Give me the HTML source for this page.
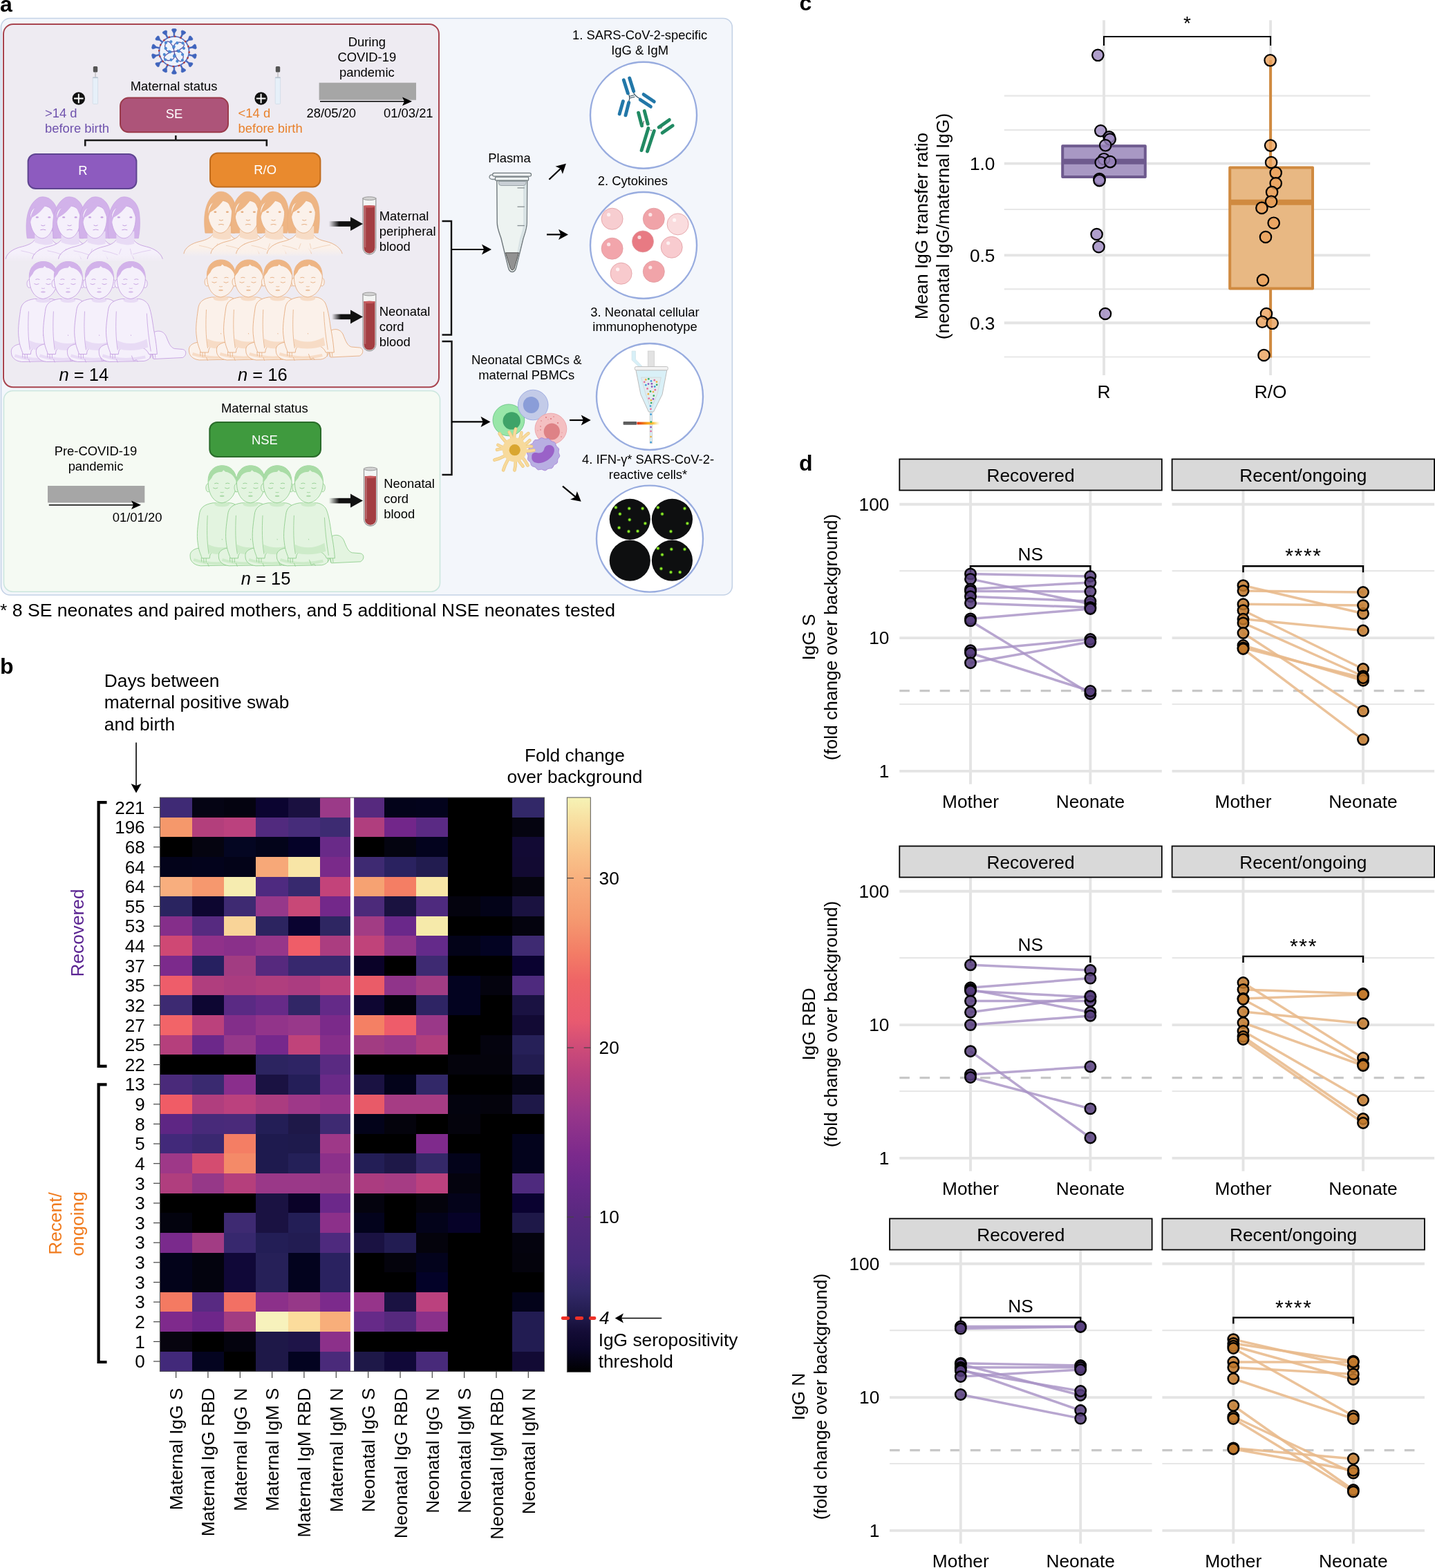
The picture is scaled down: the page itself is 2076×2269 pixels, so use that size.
<!DOCTYPE html>
<html><head><meta charset="utf-8"><title>Figure</title>
<style>html,body{margin:0;padding:0;background:#fff;} svg{display:block;}</style></head>
<body><svg width="2076" height="2269" viewBox="0 0 2076 2269" font-family="'Liberation Sans', Arial, Helvetica, sans-serif">
<rect width="2076" height="2269" fill="#fff"/>
<rect x="1.5" y="26.5" width="1057.8" height="834.5" rx="13" fill="#f3f6fb" stroke="#c4d2e6" stroke-width="1.6"/>
<rect x="5" y="35" width="630" height="525.3" rx="14" fill="#eeebf2" stroke="#a8444f" stroke-width="2"/>
<rect x="5.5" y="565.5" width="631" height="290.7" rx="13" fill="#f5faf3" stroke="#cbe6de" stroke-width="1.6"/>
<path d="M252.8,53.4 L252.8,47.9 L255.5,43.4 L254.5,41.8 L251.9,41.6 L249.3,41.8 L248.3,43.4 L251.0,47.9 L251.0,53.4 Z" fill="#3f64bd" stroke="#3f64bd" stroke-width="0.6" stroke-linejoin="round"/>
<path d="M261.8,55.9 L264.2,50.9 L268.6,48.0 L268.4,46.2 L266.1,44.8 L263.7,43.9 L262.1,44.9 L262.6,50.1 L260.2,55.1 Z" fill="#3f64bd" stroke="#3f64bd" stroke-width="0.6" stroke-linejoin="round"/>
<path d="M268.9,62.0 L273.2,58.6 L278.4,57.9 L279.0,56.1 L277.5,53.9 L275.8,52.0 L273.9,52.3 L272.1,57.2 L267.8,60.6 Z" fill="#3f64bd" stroke="#3f64bd" stroke-width="0.6" stroke-linejoin="round"/>
<path d="M272.6,70.6 L277.9,69.4 L282.9,71.0 L284.3,69.7 L283.9,67.1 L283.1,64.6 L281.3,64.0 L277.5,67.6 L272.2,68.8 Z" fill="#3f64bd" stroke="#3f64bd" stroke-width="0.6" stroke-linejoin="round"/>
<path d="M272.2,80.0 L277.5,81.2 L281.3,84.8 L283.1,84.2 L283.9,81.7 L284.3,79.1 L282.9,77.8 L277.9,79.4 L272.6,78.2 Z" fill="#3f64bd" stroke="#3f64bd" stroke-width="0.6" stroke-linejoin="round"/>
<path d="M267.8,88.2 L272.1,91.6 L273.9,96.5 L275.8,96.8 L277.5,94.9 L279.0,92.7 L278.4,90.9 L273.2,90.2 L268.9,86.8 Z" fill="#3f64bd" stroke="#3f64bd" stroke-width="0.6" stroke-linejoin="round"/>
<path d="M260.2,93.7 L262.6,98.7 L262.1,103.9 L263.7,104.9 L266.1,104.0 L268.4,102.6 L268.6,100.8 L264.2,97.9 L261.8,92.9 Z" fill="#3f64bd" stroke="#3f64bd" stroke-width="0.6" stroke-linejoin="round"/>
<path d="M251.0,95.4 L251.0,100.9 L248.3,105.4 L249.3,107.0 L251.9,107.2 L254.5,107.0 L255.5,105.4 L252.8,100.9 L252.8,95.4 Z" fill="#3f64bd" stroke="#3f64bd" stroke-width="0.6" stroke-linejoin="round"/>
<path d="M242.0,92.9 L239.6,97.9 L235.2,100.8 L235.4,102.6 L237.7,104.0 L240.1,104.9 L241.7,103.9 L241.2,98.7 L243.6,93.7 Z" fill="#3f64bd" stroke="#3f64bd" stroke-width="0.6" stroke-linejoin="round"/>
<path d="M234.9,86.8 L230.6,90.2 L225.4,90.9 L224.8,92.7 L226.3,94.9 L228.0,96.8 L229.9,96.5 L231.7,91.6 L236.0,88.2 Z" fill="#3f64bd" stroke="#3f64bd" stroke-width="0.6" stroke-linejoin="round"/>
<path d="M231.2,78.2 L225.9,79.4 L220.9,77.8 L219.5,79.1 L219.9,81.7 L220.7,84.2 L222.5,84.8 L226.3,81.2 L231.6,80.0 Z" fill="#3f64bd" stroke="#3f64bd" stroke-width="0.6" stroke-linejoin="round"/>
<path d="M231.6,68.8 L226.3,67.6 L222.5,64.0 L220.7,64.6 L219.9,67.1 L219.5,69.7 L220.9,71.0 L225.9,69.4 L231.2,70.6 Z" fill="#3f64bd" stroke="#3f64bd" stroke-width="0.6" stroke-linejoin="round"/>
<path d="M236.0,60.6 L231.7,57.2 L229.9,52.3 L228.0,52.0 L226.3,53.9 L224.8,56.1 L225.4,57.9 L230.6,58.6 L234.9,62.0 Z" fill="#3f64bd" stroke="#3f64bd" stroke-width="0.6" stroke-linejoin="round"/>
<path d="M243.6,55.1 L241.2,50.1 L241.7,44.9 L240.1,43.9 L237.7,44.8 L235.4,46.2 L235.2,48.0 L239.6,50.9 L242.0,55.9 Z" fill="#3f64bd" stroke="#3f64bd" stroke-width="0.6" stroke-linejoin="round"/>
<circle cx="251.9" cy="74.4" r="21.6" fill="#eef3fc" stroke="#5b6fc0" stroke-width="1.8"/>
<circle cx="251.9" cy="74.4" r="21.8" fill="none" stroke="#b23c3c" stroke-width="2.2" stroke-dasharray="2.5,6"/>
<g transform="translate(251.9,74.4) rotate(20) scale(1.3)"><path d="M0,0 C-3,-6 -12,-12 -12,-5 C-12,2 -6,4 -2,1" fill="none" stroke="#5a4fa0" stroke-width="0.9" stroke-dasharray="none"/><circle cx="-2" cy="-4" r="1.6" fill="#4c88d2"/><circle cx="-7" cy="-9" r="1.6" fill="#4c88d2"/><circle cx="-12" cy="-6" r="1.6" fill="#4c88d2"/><circle cx="-10" cy="0" r="1.6" fill="#4c88d2"/><circle cx="-5" cy="2" r="1.6" fill="#4c88d2"/></g>
<g transform="translate(251.9,74.4) rotate(110) scale(1.3)"><path d="M0,0 C-3,-6 -12,-12 -12,-5 C-12,2 -6,4 -2,1" fill="none" stroke="#5a4fa0" stroke-width="0.9" stroke-dasharray="none"/><circle cx="-2" cy="-4" r="1.6" fill="#4c88d2"/><circle cx="-7" cy="-9" r="1.6" fill="#4c88d2"/><circle cx="-12" cy="-6" r="1.6" fill="#4c88d2"/><circle cx="-10" cy="0" r="1.6" fill="#4c88d2"/><circle cx="-5" cy="2" r="1.6" fill="#4c88d2"/></g>
<g transform="translate(251.9,74.4) rotate(200) scale(1.3)"><path d="M0,0 C-3,-6 -12,-12 -12,-5 C-12,2 -6,4 -2,1" fill="none" stroke="#5a4fa0" stroke-width="0.9" stroke-dasharray="none"/><circle cx="-2" cy="-4" r="1.6" fill="#4c88d2"/><circle cx="-7" cy="-9" r="1.6" fill="#4c88d2"/><circle cx="-12" cy="-6" r="1.6" fill="#4c88d2"/><circle cx="-10" cy="0" r="1.6" fill="#4c88d2"/><circle cx="-5" cy="2" r="1.6" fill="#4c88d2"/></g>
<g transform="translate(251.9,74.4) rotate(290) scale(1.3)"><path d="M0,0 C-3,-6 -12,-12 -12,-5 C-12,2 -6,4 -2,1" fill="none" stroke="#5a4fa0" stroke-width="0.9" stroke-dasharray="none"/><circle cx="-2" cy="-4" r="1.6" fill="#4c88d2"/><circle cx="-7" cy="-9" r="1.6" fill="#4c88d2"/><circle cx="-12" cy="-6" r="1.6" fill="#4c88d2"/><circle cx="-10" cy="0" r="1.6" fill="#4c88d2"/><circle cx="-5" cy="2" r="1.6" fill="#4c88d2"/></g>
<rect x="134.8" y="96" width="6.4" height="8.5" rx="1.5" fill="#555"/><line x1="138" y1="104" x2="138" y2="112" stroke="#999" stroke-width="0.8"/><rect x="134.2" y="112" width="7.4" height="38.5" rx="1.2" fill="#e6f0f9" stroke="#cfdbe6" stroke-width="0.8"/><rect x="134.2" y="111.5" width="7.4" height="1.6" fill="#b8c4d0"/>
<rect x="398.8" y="96" width="6.4" height="8.5" rx="1.5" fill="#555"/><line x1="402" y1="104" x2="402" y2="112" stroke="#999" stroke-width="0.8"/><rect x="398.2" y="112" width="7.4" height="38.5" rx="1.2" fill="#e6f0f9" stroke="#cfdbe6" stroke-width="0.8"/><rect x="398.2" y="111.5" width="7.4" height="1.6" fill="#b8c4d0"/>
<circle cx="113.8" cy="142.5" r="9.2" fill="#111"/><path d="M107.0,142.5 H120.6 M113.8,135.7 V149.3" stroke="#fff" stroke-width="1.9"/>
<circle cx="377.6" cy="142.5" r="9.2" fill="#111"/><path d="M370.8,142.5 H384.40000000000003 M377.6,135.7 V149.3" stroke="#fff" stroke-width="1.9"/>
<text x="65.0" y="169.6" font-size="18.4" fill="#6f52ad">&gt;14 d</text>
<text x="65.0" y="191.9" font-size="18.4" fill="#6f52ad">before birth</text>
<text x="344.6" y="170.4" font-size="18.4" fill="#e8812c">&lt;14 d</text>
<text x="344.6" y="192.2" font-size="18.4" fill="#e8812c">before birth</text>
<text x="251.6" y="131.0" font-size="18.4" text-anchor="middle">Maternal status</text>
<rect x="174" y="141.6" width="156" height="49.6" rx="12" fill="#ad5479" stroke="#9a3b4b" stroke-width="2"/>
<text x="252.0" y="171.0" font-size="18.4" text-anchor="middle" fill="#fff">SE</text>
<text x="530.8" y="67.4" font-size="18.4" text-anchor="middle">During</text>
<text x="530.8" y="89.0" font-size="18.4" text-anchor="middle">COVID-19</text>
<text x="530.8" y="110.8" font-size="18.4" text-anchor="middle">pandemic</text>
<rect x="461.6" y="119.7" width="140.4" height="25" fill="#a6a6a6"/>
<line x1="463" y1="146.8" x2="588" y2="146.8" stroke="#000" stroke-width="1.6"/>
<path d="M596,146.8 L582,140.5 L585,146.8 L582,153 Z" fill="#000"/>
<text x="443.5" y="170.4" font-size="18.4">28/05/20</text>
<text x="555.0" y="170.4" font-size="18.4">01/03/21</text>
<path d="M123.2,211.5 V203 H385.8 V211.5 M254.3,196 V203" fill="none" stroke="#1a1a1a" stroke-width="2.6"/>
<rect x="40.6" y="223" width="156.8" height="50" rx="11" fill="#8d5bbf" stroke="#5e4490" stroke-width="2"/>
<text x="119.8" y="252.5" font-size="18.4" text-anchor="middle" fill="#fff">R</text>
<rect x="304" y="221.5" width="159.4" height="49" rx="11" fill="#e98a2e" stroke="#c06c1e" stroke-width="2"/>
<text x="383.7" y="252.0" font-size="18.4" text-anchor="middle" fill="#fff">R/O</text>
<defs><linearGradient id="wfp" x1="0" y1="0" x2="0" y2="1"><stop offset="0.6" stop-color="#f5f0fb"/><stop offset="1" stop-color="#f5f0fb" stop-opacity="0"/></linearGradient></defs>
<defs><linearGradient id="wfo" x1="0" y1="0" x2="0" y2="1"><stop offset="0.6" stop-color="#fbf1ea"/><stop offset="1" stop-color="#fbf1ea" stop-opacity="0"/></linearGradient></defs>
<defs><linearGradient id="wfg" x1="0" y1="0" x2="0" y2="1"><stop offset="0.6" stop-color="#e3f4e0"/><stop offset="1" stop-color="#e3f4e0" stop-opacity="0"/></linearGradient></defs>
<path d="M8.299999999999997,378.8 C9.299999999999997,366.8 18.299999999999997,359.8 32.3,356.8 C40.3,354.8 47.3,351.8 50.3,346.8 L75.3,346.8 C78.3,351.8 84.3,354.8 93.3,356.8 C106.3,359.8 115.3,366.8 117.3,378.8 Z" fill="url(#wfp)"/><path d="M8.299999999999997,374.8 C9.299999999999997,366.8 18.299999999999997,359.8 32.3,356.8 C40.3,354.8 47.3,351.8 50.3,346.8 M75.3,346.8 C78.3,351.8 84.3,354.8 93.3,356.8 C106.3,359.8 115.3,366.8 117.3,374.8" fill="none" stroke="#c49ee0" stroke-width="0.9"/><path d="M57.3,359.8 l-3,8 M70.3,359.8 l2,8 M30.299999999999997,362.8 q12,2 22,6 M74.3,367.8 q14,-4 26,-6" fill="none" stroke="#c49ee0" stroke-width="0.6" opacity="0.7"/><path d="M39.3,344.8 C36.3,324.8 37.3,296.8 56.3,285.8 C68.3,281.8 80.3,290.8 83.3,306.8 C85.3,320.8 84.3,334.8 82.3,344.8 Z" fill="#d2b2ea" stroke="#c49ee0" stroke-width="0.6"/><path d="M50.3,334.8 L76.3,334.8 L76.3,352.8 Q63.3,356.8 50.3,350.8 Z" fill="#e8dbf5"/><path d="M43.3,314.8 C43.3,332.8 52.3,344.8 61.3,344.8 C70.3,344.8 78.3,332.8 78.3,314.8 C78.3,302.8 70.3,297.8 61.3,297.8 C51.3,297.8 43.3,302.8 43.3,314.8 Z" fill="#f5f0fb" stroke="#c49ee0" stroke-width="0.8"/><path d="M41.3,330.8 C42.3,314.8 48.3,296.8 62.3,290.8 C66.3,289.8 68.3,291.8 68.3,293.8 C62.3,302.8 54.3,310.8 46.3,314.8 C44.3,319.8 43.3,324.8 41.3,330.8 Z" fill="#d2b2ea"/><path d="M68.3,293.8 C74.3,296.8 78.3,304.8 78.3,314.8 C75.3,306.8 72.3,299.8 68.3,293.8 Z" fill="#d2b2ea"/><ellipse cx="53.8" cy="314.40000000000003" rx="2" ry="1.2" fill="#c49ee0"/><ellipse cx="71.3" cy="314.40000000000003" rx="2" ry="1.2" fill="#c49ee0"/><path d="M59.3,325.8 q3,2 6,0 M58.3,332.8 q4,-1.5 8,0" fill="none" stroke="#c49ee0" stroke-width="1"/>
<path d="M46.599999999999994,378.8 C47.599999999999994,366.8 56.599999999999994,359.8 70.6,356.8 C78.6,354.8 85.6,351.8 88.6,346.8 L113.6,346.8 C116.6,351.8 122.6,354.8 131.6,356.8 C144.6,359.8 153.6,366.8 155.6,378.8 Z" fill="url(#wfp)"/><path d="M46.599999999999994,374.8 C47.599999999999994,366.8 56.599999999999994,359.8 70.6,356.8 C78.6,354.8 85.6,351.8 88.6,346.8 M113.6,346.8 C116.6,351.8 122.6,354.8 131.6,356.8 C144.6,359.8 153.6,366.8 155.6,374.8" fill="none" stroke="#c49ee0" stroke-width="0.9"/><path d="M95.6,359.8 l-3,8 M108.6,359.8 l2,8 M68.6,362.8 q12,2 22,6 M112.6,367.8 q14,-4 26,-6" fill="none" stroke="#c49ee0" stroke-width="0.6" opacity="0.7"/><path d="M77.6,344.8 C74.6,324.8 75.6,296.8 94.6,285.8 C106.6,281.8 118.6,290.8 121.6,306.8 C123.6,320.8 122.6,334.8 120.6,344.8 Z" fill="#d2b2ea" stroke="#c49ee0" stroke-width="0.6"/><path d="M88.6,334.8 L114.6,334.8 L114.6,352.8 Q101.6,356.8 88.6,350.8 Z" fill="#e8dbf5"/><path d="M81.6,314.8 C81.6,332.8 90.6,344.8 99.6,344.8 C108.6,344.8 116.6,332.8 116.6,314.8 C116.6,302.8 108.6,297.8 99.6,297.8 C89.6,297.8 81.6,302.8 81.6,314.8 Z" fill="#f5f0fb" stroke="#c49ee0" stroke-width="0.8"/><path d="M79.6,330.8 C80.6,314.8 86.6,296.8 100.6,290.8 C104.6,289.8 106.6,291.8 106.6,293.8 C100.6,302.8 92.6,310.8 84.6,314.8 C82.6,319.8 81.6,324.8 79.6,330.8 Z" fill="#d2b2ea"/><path d="M106.6,293.8 C112.6,296.8 116.6,304.8 116.6,314.8 C113.6,306.8 110.6,299.8 106.6,293.8 Z" fill="#d2b2ea"/><ellipse cx="92.1" cy="314.40000000000003" rx="2" ry="1.2" fill="#c49ee0"/><ellipse cx="109.6" cy="314.40000000000003" rx="2" ry="1.2" fill="#c49ee0"/><path d="M97.6,325.8 q3,2 6,0 M96.6,332.8 q4,-1.5 8,0" fill="none" stroke="#c49ee0" stroke-width="1"/>
<path d="M84.5,378.8 C85.5,366.8 94.5,359.8 108.5,356.8 C116.5,354.8 123.5,351.8 126.5,346.8 L151.5,346.8 C154.5,351.8 160.5,354.8 169.5,356.8 C182.5,359.8 191.5,366.8 193.5,378.8 Z" fill="url(#wfp)"/><path d="M84.5,374.8 C85.5,366.8 94.5,359.8 108.5,356.8 C116.5,354.8 123.5,351.8 126.5,346.8 M151.5,346.8 C154.5,351.8 160.5,354.8 169.5,356.8 C182.5,359.8 191.5,366.8 193.5,374.8" fill="none" stroke="#c49ee0" stroke-width="0.9"/><path d="M133.5,359.8 l-3,8 M146.5,359.8 l2,8 M106.5,362.8 q12,2 22,6 M150.5,367.8 q14,-4 26,-6" fill="none" stroke="#c49ee0" stroke-width="0.6" opacity="0.7"/><path d="M115.5,344.8 C112.5,324.8 113.5,296.8 132.5,285.8 C144.5,281.8 156.5,290.8 159.5,306.8 C161.5,320.8 160.5,334.8 158.5,344.8 Z" fill="#d2b2ea" stroke="#c49ee0" stroke-width="0.6"/><path d="M126.5,334.8 L152.5,334.8 L152.5,352.8 Q139.5,356.8 126.5,350.8 Z" fill="#e8dbf5"/><path d="M119.5,314.8 C119.5,332.8 128.5,344.8 137.5,344.8 C146.5,344.8 154.5,332.8 154.5,314.8 C154.5,302.8 146.5,297.8 137.5,297.8 C127.5,297.8 119.5,302.8 119.5,314.8 Z" fill="#f5f0fb" stroke="#c49ee0" stroke-width="0.8"/><path d="M117.5,330.8 C118.5,314.8 124.5,296.8 138.5,290.8 C142.5,289.8 144.5,291.8 144.5,293.8 C138.5,302.8 130.5,310.8 122.5,314.8 C120.5,319.8 119.5,324.8 117.5,330.8 Z" fill="#d2b2ea"/><path d="M144.5,293.8 C150.5,296.8 154.5,304.8 154.5,314.8 C151.5,306.8 148.5,299.8 144.5,293.8 Z" fill="#d2b2ea"/><ellipse cx="130.0" cy="314.40000000000003" rx="2" ry="1.2" fill="#c49ee0"/><ellipse cx="147.5" cy="314.40000000000003" rx="2" ry="1.2" fill="#c49ee0"/><path d="M135.5,325.8 q3,2 6,0 M134.5,332.8 q4,-1.5 8,0" fill="none" stroke="#c49ee0" stroke-width="1"/>
<path d="M126.30000000000001,378.8 C127.30000000000001,366.8 136.3,359.8 150.3,356.8 C158.3,354.8 165.3,351.8 168.3,346.8 L193.3,346.8 C196.3,351.8 202.3,354.8 211.3,356.8 C224.3,359.8 233.3,366.8 235.3,378.8 Z" fill="url(#wfp)"/><path d="M126.30000000000001,374.8 C127.30000000000001,366.8 136.3,359.8 150.3,356.8 C158.3,354.8 165.3,351.8 168.3,346.8 M193.3,346.8 C196.3,351.8 202.3,354.8 211.3,356.8 C224.3,359.8 233.3,366.8 235.3,374.8" fill="none" stroke="#c49ee0" stroke-width="0.9"/><path d="M175.3,359.8 l-3,8 M188.3,359.8 l2,8 M148.3,362.8 q12,2 22,6 M192.3,367.8 q14,-4 26,-6" fill="none" stroke="#c49ee0" stroke-width="0.6" opacity="0.7"/><path d="M157.3,344.8 C154.3,324.8 155.3,296.8 174.3,285.8 C186.3,281.8 198.3,290.8 201.3,306.8 C203.3,320.8 202.3,334.8 200.3,344.8 Z" fill="#d2b2ea" stroke="#c49ee0" stroke-width="0.6"/><path d="M168.3,334.8 L194.3,334.8 L194.3,352.8 Q181.3,356.8 168.3,350.8 Z" fill="#e8dbf5"/><path d="M161.3,314.8 C161.3,332.8 170.3,344.8 179.3,344.8 C188.3,344.8 196.3,332.8 196.3,314.8 C196.3,302.8 188.3,297.8 179.3,297.8 C169.3,297.8 161.3,302.8 161.3,314.8 Z" fill="#f5f0fb" stroke="#c49ee0" stroke-width="0.8"/><path d="M159.3,330.8 C160.3,314.8 166.3,296.8 180.3,290.8 C184.3,289.8 186.3,291.8 186.3,293.8 C180.3,302.8 172.3,310.8 164.3,314.8 C162.3,319.8 161.3,324.8 159.3,330.8 Z" fill="#d2b2ea"/><path d="M186.3,293.8 C192.3,296.8 196.3,304.8 196.3,314.8 C193.3,306.8 190.3,299.8 186.3,293.8 Z" fill="#d2b2ea"/><ellipse cx="171.8" cy="314.40000000000003" rx="2" ry="1.2" fill="#c49ee0"/><ellipse cx="189.3" cy="314.40000000000003" rx="2" ry="1.2" fill="#c49ee0"/><path d="M177.3,325.8 q3,2 6,0 M176.3,332.8 q4,-1.5 8,0" fill="none" stroke="#c49ee0" stroke-width="1"/>
<path d="M265.9,371.2 C266.9,359.2 275.9,352.2 289.9,349.2 C297.9,347.2 304.9,344.2 307.9,339.2 L332.9,339.2 C335.9,344.2 341.9,347.2 350.9,349.2 C363.9,352.2 372.9,359.2 374.9,371.2 Z" fill="url(#wfo)"/><path d="M265.9,367.2 C266.9,359.2 275.9,352.2 289.9,349.2 C297.9,347.2 304.9,344.2 307.9,339.2 M332.9,339.2 C335.9,344.2 341.9,347.2 350.9,349.2 C363.9,352.2 372.9,359.2 374.9,367.2" fill="none" stroke="#e5ad80" stroke-width="0.9"/><path d="M314.9,352.2 l-3,8 M327.9,352.2 l2,8 M287.9,355.2 q12,2 22,6 M331.9,360.2 q14,-4 26,-6" fill="none" stroke="#e5ad80" stroke-width="0.6" opacity="0.7"/><path d="M296.9,337.2 C293.9,317.2 294.9,289.2 313.9,278.2 C325.9,274.2 337.9,283.2 340.9,299.2 C342.9,313.2 341.9,327.2 339.9,337.2 Z" fill="#eeb584" stroke="#e5ad80" stroke-width="0.6"/><path d="M307.9,327.2 L333.9,327.2 L333.9,345.2 Q320.9,349.2 307.9,343.2 Z" fill="#f7dcc6"/><path d="M300.9,307.2 C300.9,325.2 309.9,337.2 318.9,337.2 C327.9,337.2 335.9,325.2 335.9,307.2 C335.9,295.2 327.9,290.2 318.9,290.2 C308.9,290.2 300.9,295.2 300.9,307.2 Z" fill="#fbf1ea" stroke="#e5ad80" stroke-width="0.8"/><path d="M298.9,323.2 C299.9,307.2 305.9,289.2 319.9,283.2 C323.9,282.2 325.9,284.2 325.9,286.2 C319.9,295.2 311.9,303.2 303.9,307.2 C301.9,312.2 300.9,317.2 298.9,323.2 Z" fill="#eeb584"/><path d="M325.9,286.2 C331.9,289.2 335.9,297.2 335.9,307.2 C332.9,299.2 329.9,292.2 325.9,286.2 Z" fill="#eeb584"/><ellipse cx="311.4" cy="306.8" rx="2" ry="1.2" fill="#e5ad80"/><ellipse cx="328.9" cy="306.8" rx="2" ry="1.2" fill="#e5ad80"/><path d="M316.9,318.2 q3,2 6,0 M315.9,325.2 q4,-1.5 8,0" fill="none" stroke="#e5ad80" stroke-width="1"/>
<path d="M304.9,371.2 C305.9,359.2 314.9,352.2 328.9,349.2 C336.9,347.2 343.9,344.2 346.9,339.2 L371.9,339.2 C374.9,344.2 380.9,347.2 389.9,349.2 C402.9,352.2 411.9,359.2 413.9,371.2 Z" fill="url(#wfo)"/><path d="M304.9,367.2 C305.9,359.2 314.9,352.2 328.9,349.2 C336.9,347.2 343.9,344.2 346.9,339.2 M371.9,339.2 C374.9,344.2 380.9,347.2 389.9,349.2 C402.9,352.2 411.9,359.2 413.9,367.2" fill="none" stroke="#e5ad80" stroke-width="0.9"/><path d="M353.9,352.2 l-3,8 M366.9,352.2 l2,8 M326.9,355.2 q12,2 22,6 M370.9,360.2 q14,-4 26,-6" fill="none" stroke="#e5ad80" stroke-width="0.6" opacity="0.7"/><path d="M335.9,337.2 C332.9,317.2 333.9,289.2 352.9,278.2 C364.9,274.2 376.9,283.2 379.9,299.2 C381.9,313.2 380.9,327.2 378.9,337.2 Z" fill="#eeb584" stroke="#e5ad80" stroke-width="0.6"/><path d="M346.9,327.2 L372.9,327.2 L372.9,345.2 Q359.9,349.2 346.9,343.2 Z" fill="#f7dcc6"/><path d="M339.9,307.2 C339.9,325.2 348.9,337.2 357.9,337.2 C366.9,337.2 374.9,325.2 374.9,307.2 C374.9,295.2 366.9,290.2 357.9,290.2 C347.9,290.2 339.9,295.2 339.9,307.2 Z" fill="#fbf1ea" stroke="#e5ad80" stroke-width="0.8"/><path d="M337.9,323.2 C338.9,307.2 344.9,289.2 358.9,283.2 C362.9,282.2 364.9,284.2 364.9,286.2 C358.9,295.2 350.9,303.2 342.9,307.2 C340.9,312.2 339.9,317.2 337.9,323.2 Z" fill="#eeb584"/><path d="M364.9,286.2 C370.9,289.2 374.9,297.2 374.9,307.2 C371.9,299.2 368.9,292.2 364.9,286.2 Z" fill="#eeb584"/><ellipse cx="350.4" cy="306.8" rx="2" ry="1.2" fill="#e5ad80"/><ellipse cx="367.9" cy="306.8" rx="2" ry="1.2" fill="#e5ad80"/><path d="M355.9,318.2 q3,2 6,0 M354.9,325.2 q4,-1.5 8,0" fill="none" stroke="#e5ad80" stroke-width="1"/>
<path d="M341.6,371.2 C342.6,359.2 351.6,352.2 365.6,349.2 C373.6,347.2 380.6,344.2 383.6,339.2 L408.6,339.2 C411.6,344.2 417.6,347.2 426.6,349.2 C439.6,352.2 448.6,359.2 450.6,371.2 Z" fill="url(#wfo)"/><path d="M341.6,367.2 C342.6,359.2 351.6,352.2 365.6,349.2 C373.6,347.2 380.6,344.2 383.6,339.2 M408.6,339.2 C411.6,344.2 417.6,347.2 426.6,349.2 C439.6,352.2 448.6,359.2 450.6,367.2" fill="none" stroke="#e5ad80" stroke-width="0.9"/><path d="M390.6,352.2 l-3,8 M403.6,352.2 l2,8 M363.6,355.2 q12,2 22,6 M407.6,360.2 q14,-4 26,-6" fill="none" stroke="#e5ad80" stroke-width="0.6" opacity="0.7"/><path d="M372.6,337.2 C369.6,317.2 370.6,289.2 389.6,278.2 C401.6,274.2 413.6,283.2 416.6,299.2 C418.6,313.2 417.6,327.2 415.6,337.2 Z" fill="#eeb584" stroke="#e5ad80" stroke-width="0.6"/><path d="M383.6,327.2 L409.6,327.2 L409.6,345.2 Q396.6,349.2 383.6,343.2 Z" fill="#f7dcc6"/><path d="M376.6,307.2 C376.6,325.2 385.6,337.2 394.6,337.2 C403.6,337.2 411.6,325.2 411.6,307.2 C411.6,295.2 403.6,290.2 394.6,290.2 C384.6,290.2 376.6,295.2 376.6,307.2 Z" fill="#fbf1ea" stroke="#e5ad80" stroke-width="0.8"/><path d="M374.6,323.2 C375.6,307.2 381.6,289.2 395.6,283.2 C399.6,282.2 401.6,284.2 401.6,286.2 C395.6,295.2 387.6,303.2 379.6,307.2 C377.6,312.2 376.6,317.2 374.6,323.2 Z" fill="#eeb584"/><path d="M401.6,286.2 C407.6,289.2 411.6,297.2 411.6,307.2 C408.6,299.2 405.6,292.2 401.6,286.2 Z" fill="#eeb584"/><ellipse cx="387.1" cy="306.8" rx="2" ry="1.2" fill="#e5ad80"/><ellipse cx="404.6" cy="306.8" rx="2" ry="1.2" fill="#e5ad80"/><path d="M392.6,318.2 q3,2 6,0 M391.6,325.2 q4,-1.5 8,0" fill="none" stroke="#e5ad80" stroke-width="1"/>
<path d="M386.2,371.2 C387.2,359.2 396.2,352.2 410.2,349.2 C418.2,347.2 425.2,344.2 428.2,339.2 L453.2,339.2 C456.2,344.2 462.2,347.2 471.2,349.2 C484.2,352.2 493.2,359.2 495.2,371.2 Z" fill="url(#wfo)"/><path d="M386.2,367.2 C387.2,359.2 396.2,352.2 410.2,349.2 C418.2,347.2 425.2,344.2 428.2,339.2 M453.2,339.2 C456.2,344.2 462.2,347.2 471.2,349.2 C484.2,352.2 493.2,359.2 495.2,367.2" fill="none" stroke="#e5ad80" stroke-width="0.9"/><path d="M435.2,352.2 l-3,8 M448.2,352.2 l2,8 M408.2,355.2 q12,2 22,6 M452.2,360.2 q14,-4 26,-6" fill="none" stroke="#e5ad80" stroke-width="0.6" opacity="0.7"/><path d="M417.2,337.2 C414.2,317.2 415.2,289.2 434.2,278.2 C446.2,274.2 458.2,283.2 461.2,299.2 C463.2,313.2 462.2,327.2 460.2,337.2 Z" fill="#eeb584" stroke="#e5ad80" stroke-width="0.6"/><path d="M428.2,327.2 L454.2,327.2 L454.2,345.2 Q441.2,349.2 428.2,343.2 Z" fill="#f7dcc6"/><path d="M421.2,307.2 C421.2,325.2 430.2,337.2 439.2,337.2 C448.2,337.2 456.2,325.2 456.2,307.2 C456.2,295.2 448.2,290.2 439.2,290.2 C429.2,290.2 421.2,295.2 421.2,307.2 Z" fill="#fbf1ea" stroke="#e5ad80" stroke-width="0.8"/><path d="M419.2,323.2 C420.2,307.2 426.2,289.2 440.2,283.2 C444.2,282.2 446.2,284.2 446.2,286.2 C440.2,295.2 432.2,303.2 424.2,307.2 C422.2,312.2 421.2,317.2 419.2,323.2 Z" fill="#eeb584"/><path d="M446.2,286.2 C452.2,289.2 456.2,297.2 456.2,307.2 C453.2,299.2 450.2,292.2 446.2,286.2 Z" fill="#eeb584"/><ellipse cx="431.7" cy="306.8" rx="2" ry="1.2" fill="#e5ad80"/><ellipse cx="449.2" cy="306.8" rx="2" ry="1.2" fill="#e5ad80"/><path d="M437.2,318.2 q3,2 6,0 M436.2,325.2 q4,-1.5 8,0" fill="none" stroke="#e5ad80" stroke-width="1"/>
<path d="M16.4,510.5 C14.4,498.5 31.4,494.5 51.4,498.5 L89.4,502.5 C95.4,508.5 93.4,520.5 81.4,522.5 L31.4,523.5 C21.4,522.5 16.4,516.5 16.4,510.5 Z" fill="#f5f0fb" stroke="#c49ee0" stroke-width="0.9"/><path d="M21.4,514.5 Q51.4,524.5 83.4,516.5" fill="none" stroke="#e8dbf5" stroke-width="4"/><path d="M63.4,514.5 l3,8 l4,-2 l2,3 M41.4,519.5 l2,5" fill="none" stroke="#c49ee0" stroke-width="0.8"/><path d="M49.4,432.5 C37.4,434.5 30.4,438.5 29.4,450.5 C27.4,464.5 25.4,478.5 27.4,490.5 C28.4,500.5 31.4,506.5 33.4,512.5 L44.4,512.5 C44.4,504.5 49.4,500.5 63.4,500.5 C77.4,500.5 85.4,504.5 88.4,512.5 L100.4,512.5 C99.4,498.5 97.4,486.5 95.4,476.5 C93.4,462.5 91.4,448.5 87.4,440.5 C83.4,434.5 77.4,432.5 73.4,432.5 Z" fill="#f5f0fb" stroke="#c49ee0" stroke-width="0.9"/><path d="M42.4,492.5 Q63.4,502.5 85.4,490.5 L87.4,502.5 Q63.4,510.5 43.4,504.5 Z" fill="#e8dbf5"/><path d="M41.4,450.5 C40.4,470.5 40.4,488.5 43.4,506.5 M85.4,453.5 C86.4,473.5 88.4,490.5 91.4,508.5 M62.4,484.5 l0.3,1.5" fill="none" stroke="#c49ee0" stroke-width="0.8"/><path d="M32.4,511.5 l0.5,6 M35.9,512.5 l0.3,6.5 M39.4,512.5 l0,6 M90.4,512.5 l0,6 M93.9,512.5 l0.3,6.5 M97.4,512.5 l0.6,6" fill="none" stroke="#c49ee0" stroke-width="0.8"/><ellipse cx="62.4" cy="434.5" rx="11" ry="3.5" fill="#e8dbf5"/><ellipse cx="42.4" cy="410.5" rx="3.4" ry="6" fill="#f5f0fb" stroke="#c49ee0" stroke-width="0.8"/><ellipse cx="82.9" cy="410.5" rx="3.4" ry="6" fill="#f5f0fb" stroke="#c49ee0" stroke-width="0.8"/><path d="M42.4,402.5 C41.4,386.5 51.4,378.5 62.4,378.5 C74.4,378.5 83.4,386.5 83.4,402.5 C83.4,416.5 76.4,430.5 62.4,432.5 C49.4,431.5 42.4,418.5 42.4,402.5 Z" fill="#f5f0fb" stroke="#c49ee0" stroke-width="0.9"/><path d="M42.4,403.5 C41.4,386.5 51.4,378.5 62.4,378.5 C74.4,378.5 83.4,386.5 82.9,401.5 C80.4,394.5 75.4,388.5 67.4,387.5 L64.4,385.0 L62.4,387.5 C55.4,387.5 49.4,390.5 47.4,396.5 C45.4,398.5 43.4,401.5 42.4,403.5 Z" fill="#d2b2ea"/><path d="M49.4,410.5 q3.5,2.5 7,0 M66.4,410.5 q3.5,2.5 7,0 M51.4,404.5 q3,-1.5 6,0 M67.4,404.5 q3,-1.5 6,0" fill="none" stroke="#c49ee0" stroke-width="0.9"/><path d="M59.4,422.5 q3,-1.5 6,0 q-3,1.5 -6,0 Z M59.9,417.0 q2.5,1 5,0" fill="#e8dbf5" stroke="#c49ee0" stroke-width="0.7"/>
<path d="M52.4,510.5 C50.4,498.5 67.4,494.5 87.4,498.5 L125.4,502.5 C131.4,508.5 129.4,520.5 117.4,522.5 L67.4,523.5 C57.4,522.5 52.4,516.5 52.4,510.5 Z" fill="#f5f0fb" stroke="#c49ee0" stroke-width="0.9"/><path d="M57.4,514.5 Q87.4,524.5 119.4,516.5" fill="none" stroke="#e8dbf5" stroke-width="4"/><path d="M99.4,514.5 l3,8 l4,-2 l2,3 M77.4,519.5 l2,5" fill="none" stroke="#c49ee0" stroke-width="0.8"/><path d="M85.4,432.5 C73.4,434.5 66.4,438.5 65.4,450.5 C63.4,464.5 61.4,478.5 63.4,490.5 C64.4,500.5 67.4,506.5 69.4,512.5 L80.4,512.5 C80.4,504.5 85.4,500.5 99.4,500.5 C113.4,500.5 121.4,504.5 124.4,512.5 L136.4,512.5 C135.4,498.5 133.4,486.5 131.4,476.5 C129.4,462.5 127.4,448.5 123.4,440.5 C119.4,434.5 113.4,432.5 109.4,432.5 Z" fill="#f5f0fb" stroke="#c49ee0" stroke-width="0.9"/><path d="M78.4,492.5 Q99.4,502.5 121.4,490.5 L123.4,502.5 Q99.4,510.5 79.4,504.5 Z" fill="#e8dbf5"/><path d="M77.4,450.5 C76.4,470.5 76.4,488.5 79.4,506.5 M121.4,453.5 C122.4,473.5 124.4,490.5 127.4,508.5 M98.4,484.5 l0.3,1.5" fill="none" stroke="#c49ee0" stroke-width="0.8"/><path d="M68.4,511.5 l0.5,6 M71.9,512.5 l0.3,6.5 M75.4,512.5 l0,6 M126.4,512.5 l0,6 M129.9,512.5 l0.3,6.5 M133.4,512.5 l0.6,6" fill="none" stroke="#c49ee0" stroke-width="0.8"/><ellipse cx="98.4" cy="434.5" rx="11" ry="3.5" fill="#e8dbf5"/><ellipse cx="78.4" cy="410.5" rx="3.4" ry="6" fill="#f5f0fb" stroke="#c49ee0" stroke-width="0.8"/><ellipse cx="118.9" cy="410.5" rx="3.4" ry="6" fill="#f5f0fb" stroke="#c49ee0" stroke-width="0.8"/><path d="M78.4,402.5 C77.4,386.5 87.4,378.5 98.4,378.5 C110.4,378.5 119.4,386.5 119.4,402.5 C119.4,416.5 112.4,430.5 98.4,432.5 C85.4,431.5 78.4,418.5 78.4,402.5 Z" fill="#f5f0fb" stroke="#c49ee0" stroke-width="0.9"/><path d="M78.4,403.5 C77.4,386.5 87.4,378.5 98.4,378.5 C110.4,378.5 119.4,386.5 118.9,401.5 C116.4,394.5 111.4,388.5 103.4,387.5 L100.4,385.0 L98.4,387.5 C91.4,387.5 85.4,390.5 83.4,396.5 C81.4,398.5 79.4,401.5 78.4,403.5 Z" fill="#d2b2ea"/><path d="M85.4,410.5 q3.5,2.5 7,0 M102.4,410.5 q3.5,2.5 7,0 M87.4,404.5 q3,-1.5 6,0 M103.4,404.5 q3,-1.5 6,0" fill="none" stroke="#c49ee0" stroke-width="0.9"/><path d="M95.4,422.5 q3,-1.5 6,0 q-3,1.5 -6,0 Z M95.9,417.0 q2.5,1 5,0" fill="#e8dbf5" stroke="#c49ee0" stroke-width="0.7"/>
<path d="M97.5,510.5 C95.5,498.5 112.5,494.5 132.5,498.5 L170.5,502.5 C176.5,508.5 174.5,520.5 162.5,522.5 L112.5,523.5 C102.5,522.5 97.5,516.5 97.5,510.5 Z" fill="#f5f0fb" stroke="#c49ee0" stroke-width="0.9"/><path d="M102.5,514.5 Q132.5,524.5 164.5,516.5" fill="none" stroke="#e8dbf5" stroke-width="4"/><path d="M144.5,514.5 l3,8 l4,-2 l2,3 M122.5,519.5 l2,5" fill="none" stroke="#c49ee0" stroke-width="0.8"/><path d="M130.5,432.5 C118.5,434.5 111.5,438.5 110.5,450.5 C108.5,464.5 106.5,478.5 108.5,490.5 C109.5,500.5 112.5,506.5 114.5,512.5 L125.5,512.5 C125.5,504.5 130.5,500.5 144.5,500.5 C158.5,500.5 166.5,504.5 169.5,512.5 L181.5,512.5 C180.5,498.5 178.5,486.5 176.5,476.5 C174.5,462.5 172.5,448.5 168.5,440.5 C164.5,434.5 158.5,432.5 154.5,432.5 Z" fill="#f5f0fb" stroke="#c49ee0" stroke-width="0.9"/><path d="M123.5,492.5 Q144.5,502.5 166.5,490.5 L168.5,502.5 Q144.5,510.5 124.5,504.5 Z" fill="#e8dbf5"/><path d="M122.5,450.5 C121.5,470.5 121.5,488.5 124.5,506.5 M166.5,453.5 C167.5,473.5 169.5,490.5 172.5,508.5 M143.5,484.5 l0.3,1.5" fill="none" stroke="#c49ee0" stroke-width="0.8"/><path d="M113.5,511.5 l0.5,6 M117.0,512.5 l0.3,6.5 M120.5,512.5 l0,6 M171.5,512.5 l0,6 M175.0,512.5 l0.3,6.5 M178.5,512.5 l0.6,6" fill="none" stroke="#c49ee0" stroke-width="0.8"/><ellipse cx="143.5" cy="434.5" rx="11" ry="3.5" fill="#e8dbf5"/><ellipse cx="123.5" cy="410.5" rx="3.4" ry="6" fill="#f5f0fb" stroke="#c49ee0" stroke-width="0.8"/><ellipse cx="164.0" cy="410.5" rx="3.4" ry="6" fill="#f5f0fb" stroke="#c49ee0" stroke-width="0.8"/><path d="M123.5,402.5 C122.5,386.5 132.5,378.5 143.5,378.5 C155.5,378.5 164.5,386.5 164.5,402.5 C164.5,416.5 157.5,430.5 143.5,432.5 C130.5,431.5 123.5,418.5 123.5,402.5 Z" fill="#f5f0fb" stroke="#c49ee0" stroke-width="0.9"/><path d="M123.5,403.5 C122.5,386.5 132.5,378.5 143.5,378.5 C155.5,378.5 164.5,386.5 164.0,401.5 C161.5,394.5 156.5,388.5 148.5,387.5 L145.5,385.0 L143.5,387.5 C136.5,387.5 130.5,390.5 128.5,396.5 C126.5,398.5 124.5,401.5 123.5,403.5 Z" fill="#d2b2ea"/><path d="M130.5,410.5 q3.5,2.5 7,0 M147.5,410.5 q3.5,2.5 7,0 M132.5,404.5 q3,-1.5 6,0 M148.5,404.5 q3,-1.5 6,0" fill="none" stroke="#c49ee0" stroke-width="0.9"/><path d="M140.5,422.5 q3,-1.5 6,0 q-3,1.5 -6,0 Z M141.0,417.0 q2.5,1 5,0" fill="#e8dbf5" stroke="#c49ee0" stroke-width="0.7"/>
<path d="M143.3,510.5 C141.3,498.5 158.3,494.5 178.3,498.5 L216.3,502.5 C222.3,508.5 220.3,520.5 208.3,522.5 L158.3,523.5 C148.3,522.5 143.3,516.5 143.3,510.5 Z" fill="#f5f0fb" stroke="#c49ee0" stroke-width="0.9"/><path d="M148.3,514.5 Q178.3,524.5 210.3,516.5" fill="none" stroke="#e8dbf5" stroke-width="4"/><path d="M190.3,514.5 l3,8 l4,-2 l2,3 M168.3,519.5 l2,5" fill="none" stroke="#c49ee0" stroke-width="0.8"/><path d="M214.3,488.5 C220.3,478.5 234.3,474.5 240.3,486.5 C244.3,496.5 246.3,502.5 252.3,504.5 L264.3,505.5 C270.3,506.5 270.3,514.5 264.3,517.5 L222.3,519.5 Z" fill="#f5f0fb" stroke="#c49ee0" stroke-width="0.9"/><path d="M176.3,432.5 C164.3,434.5 157.3,438.5 156.3,450.5 C154.3,464.5 152.3,478.5 154.3,490.5 C155.3,500.5 158.3,506.5 160.3,512.5 L171.3,512.5 C171.3,504.5 176.3,500.5 190.3,500.5 C204.3,500.5 212.3,504.5 215.3,512.5 L227.3,512.5 C226.3,498.5 224.3,486.5 222.3,476.5 C220.3,462.5 218.3,448.5 214.3,440.5 C210.3,434.5 204.3,432.5 200.3,432.5 Z" fill="#f5f0fb" stroke="#c49ee0" stroke-width="0.9"/><path d="M169.3,492.5 Q190.3,502.5 212.3,490.5 L214.3,502.5 Q190.3,510.5 170.3,504.5 Z" fill="#e8dbf5"/><path d="M168.3,450.5 C167.3,470.5 167.3,488.5 170.3,506.5 M212.3,453.5 C213.3,473.5 215.3,490.5 218.3,508.5 M189.3,484.5 l0.3,1.5" fill="none" stroke="#c49ee0" stroke-width="0.8"/><path d="M159.3,511.5 l0.5,6 M162.8,512.5 l0.3,6.5 M166.3,512.5 l0,6 M217.3,512.5 l0,6 M220.8,512.5 l0.3,6.5 M224.3,512.5 l0.6,6" fill="none" stroke="#c49ee0" stroke-width="0.8"/><ellipse cx="189.3" cy="434.5" rx="11" ry="3.5" fill="#e8dbf5"/><ellipse cx="169.3" cy="410.5" rx="3.4" ry="6" fill="#f5f0fb" stroke="#c49ee0" stroke-width="0.8"/><ellipse cx="209.8" cy="410.5" rx="3.4" ry="6" fill="#f5f0fb" stroke="#c49ee0" stroke-width="0.8"/><path d="M169.3,402.5 C168.3,386.5 178.3,378.5 189.3,378.5 C201.3,378.5 210.3,386.5 210.3,402.5 C210.3,416.5 203.3,430.5 189.3,432.5 C176.3,431.5 169.3,418.5 169.3,402.5 Z" fill="#f5f0fb" stroke="#c49ee0" stroke-width="0.9"/><path d="M169.3,403.5 C168.3,386.5 178.3,378.5 189.3,378.5 C201.3,378.5 210.3,386.5 209.8,401.5 C207.3,394.5 202.3,388.5 194.3,387.5 L191.3,385.0 L189.3,387.5 C182.3,387.5 176.3,390.5 174.3,396.5 C172.3,398.5 170.3,401.5 169.3,403.5 Z" fill="#d2b2ea"/><path d="M176.3,410.5 q3.5,2.5 7,0 M193.3,410.5 q3.5,2.5 7,0 M178.3,404.5 q3,-1.5 6,0 M194.3,404.5 q3,-1.5 6,0" fill="none" stroke="#c49ee0" stroke-width="0.9"/><path d="M186.3,422.5 q3,-1.5 6,0 q-3,1.5 -6,0 Z M186.8,417.0 q2.5,1 5,0" fill="#e8dbf5" stroke="#c49ee0" stroke-width="0.7"/>
<path d="M273.5,508.0 C271.5,496.0 288.5,492.0 308.5,496.0 L346.5,500.0 C352.5,506.0 350.5,518.0 338.5,520.0 L288.5,521.0 C278.5,520.0 273.5,514.0 273.5,508.0 Z" fill="#fbf1ea" stroke="#e5ad80" stroke-width="0.9"/><path d="M278.5,512.0 Q308.5,522.0 340.5,514.0" fill="none" stroke="#f7dcc6" stroke-width="4"/><path d="M320.5,512.0 l3,8 l4,-2 l2,3 M298.5,517.0 l2,5" fill="none" stroke="#e5ad80" stroke-width="0.8"/><path d="M306.5,430.0 C294.5,432.0 287.5,436.0 286.5,448.0 C284.5,462.0 282.5,476.0 284.5,488.0 C285.5,498.0 288.5,504.0 290.5,510.0 L301.5,510.0 C301.5,502.0 306.5,498.0 320.5,498.0 C334.5,498.0 342.5,502.0 345.5,510.0 L357.5,510.0 C356.5,496.0 354.5,484.0 352.5,474.0 C350.5,460.0 348.5,446.0 344.5,438.0 C340.5,432.0 334.5,430.0 330.5,430.0 Z" fill="#fbf1ea" stroke="#e5ad80" stroke-width="0.9"/><path d="M299.5,490.0 Q320.5,500.0 342.5,488.0 L344.5,500.0 Q320.5,508.0 300.5,502.0 Z" fill="#f7dcc6"/><path d="M298.5,448.0 C297.5,468.0 297.5,486.0 300.5,504.0 M342.5,451.0 C343.5,471.0 345.5,488.0 348.5,506.0 M319.5,482.0 l0.3,1.5" fill="none" stroke="#e5ad80" stroke-width="0.8"/><path d="M289.5,509.0 l0.5,6 M293.0,510.0 l0.3,6.5 M296.5,510.0 l0,6 M347.5,510.0 l0,6 M351.0,510.0 l0.3,6.5 M354.5,510.0 l0.6,6" fill="none" stroke="#e5ad80" stroke-width="0.8"/><ellipse cx="319.5" cy="432" rx="11" ry="3.5" fill="#f7dcc6"/><ellipse cx="299.5" cy="408" rx="3.4" ry="6" fill="#fbf1ea" stroke="#e5ad80" stroke-width="0.8"/><ellipse cx="340.0" cy="408" rx="3.4" ry="6" fill="#fbf1ea" stroke="#e5ad80" stroke-width="0.8"/><path d="M299.5,400.0 C298.5,384.0 308.5,376.0 319.5,376.0 C331.5,376.0 340.5,384.0 340.5,400.0 C340.5,414.0 333.5,428.0 319.5,430.0 C306.5,429.0 299.5,416.0 299.5,400.0 Z" fill="#fbf1ea" stroke="#e5ad80" stroke-width="0.9"/><path d="M299.5,401.0 C298.5,384.0 308.5,376.0 319.5,376.0 C331.5,376.0 340.5,384.0 340.0,399.0 C337.5,392.0 332.5,386.0 324.5,385.0 L321.5,382.5 L319.5,385.0 C312.5,385.0 306.5,388.0 304.5,394.0 C302.5,396.0 300.5,399.0 299.5,401.0 Z" fill="#eeb584"/><path d="M306.5,408.0 q3.5,2.5 7,0 M323.5,408.0 q3.5,2.5 7,0 M308.5,402.0 q3,-1.5 6,0 M324.5,402.0 q3,-1.5 6,0" fill="none" stroke="#e5ad80" stroke-width="0.9"/><path d="M316.5,420.0 q3,-1.5 6,0 q-3,1.5 -6,0 Z M317.0,414.5 q2.5,1 5,0" fill="#f7dcc6" stroke="#e5ad80" stroke-width="0.7"/>
<path d="M313.4,508.0 C311.4,496.0 328.4,492.0 348.4,496.0 L386.4,500.0 C392.4,506.0 390.4,518.0 378.4,520.0 L328.4,521.0 C318.4,520.0 313.4,514.0 313.4,508.0 Z" fill="#fbf1ea" stroke="#e5ad80" stroke-width="0.9"/><path d="M318.4,512.0 Q348.4,522.0 380.4,514.0" fill="none" stroke="#f7dcc6" stroke-width="4"/><path d="M360.4,512.0 l3,8 l4,-2 l2,3 M338.4,517.0 l2,5" fill="none" stroke="#e5ad80" stroke-width="0.8"/><path d="M346.4,430.0 C334.4,432.0 327.4,436.0 326.4,448.0 C324.4,462.0 322.4,476.0 324.4,488.0 C325.4,498.0 328.4,504.0 330.4,510.0 L341.4,510.0 C341.4,502.0 346.4,498.0 360.4,498.0 C374.4,498.0 382.4,502.0 385.4,510.0 L397.4,510.0 C396.4,496.0 394.4,484.0 392.4,474.0 C390.4,460.0 388.4,446.0 384.4,438.0 C380.4,432.0 374.4,430.0 370.4,430.0 Z" fill="#fbf1ea" stroke="#e5ad80" stroke-width="0.9"/><path d="M339.4,490.0 Q360.4,500.0 382.4,488.0 L384.4,500.0 Q360.4,508.0 340.4,502.0 Z" fill="#f7dcc6"/><path d="M338.4,448.0 C337.4,468.0 337.4,486.0 340.4,504.0 M382.4,451.0 C383.4,471.0 385.4,488.0 388.4,506.0 M359.4,482.0 l0.3,1.5" fill="none" stroke="#e5ad80" stroke-width="0.8"/><path d="M329.4,509.0 l0.5,6 M332.9,510.0 l0.3,6.5 M336.4,510.0 l0,6 M387.4,510.0 l0,6 M390.9,510.0 l0.3,6.5 M394.4,510.0 l0.6,6" fill="none" stroke="#e5ad80" stroke-width="0.8"/><ellipse cx="359.4" cy="432" rx="11" ry="3.5" fill="#f7dcc6"/><ellipse cx="339.4" cy="408" rx="3.4" ry="6" fill="#fbf1ea" stroke="#e5ad80" stroke-width="0.8"/><ellipse cx="379.9" cy="408" rx="3.4" ry="6" fill="#fbf1ea" stroke="#e5ad80" stroke-width="0.8"/><path d="M339.4,400.0 C338.4,384.0 348.4,376.0 359.4,376.0 C371.4,376.0 380.4,384.0 380.4,400.0 C380.4,414.0 373.4,428.0 359.4,430.0 C346.4,429.0 339.4,416.0 339.4,400.0 Z" fill="#fbf1ea" stroke="#e5ad80" stroke-width="0.9"/><path d="M339.4,401.0 C338.4,384.0 348.4,376.0 359.4,376.0 C371.4,376.0 380.4,384.0 379.9,399.0 C377.4,392.0 372.4,386.0 364.4,385.0 L361.4,382.5 L359.4,385.0 C352.4,385.0 346.4,388.0 344.4,394.0 C342.4,396.0 340.4,399.0 339.4,401.0 Z" fill="#eeb584"/><path d="M346.4,408.0 q3.5,2.5 7,0 M363.4,408.0 q3.5,2.5 7,0 M348.4,402.0 q3,-1.5 6,0 M364.4,402.0 q3,-1.5 6,0" fill="none" stroke="#e5ad80" stroke-width="0.9"/><path d="M356.4,420.0 q3,-1.5 6,0 q-3,1.5 -6,0 Z M356.9,414.5 q2.5,1 5,0" fill="#f7dcc6" stroke="#e5ad80" stroke-width="0.7"/>
<path d="M355.8,508.0 C353.8,496.0 370.8,492.0 390.8,496.0 L428.8,500.0 C434.8,506.0 432.8,518.0 420.8,520.0 L370.8,521.0 C360.8,520.0 355.8,514.0 355.8,508.0 Z" fill="#fbf1ea" stroke="#e5ad80" stroke-width="0.9"/><path d="M360.8,512.0 Q390.8,522.0 422.8,514.0" fill="none" stroke="#f7dcc6" stroke-width="4"/><path d="M402.8,512.0 l3,8 l4,-2 l2,3 M380.8,517.0 l2,5" fill="none" stroke="#e5ad80" stroke-width="0.8"/><path d="M388.8,430.0 C376.8,432.0 369.8,436.0 368.8,448.0 C366.8,462.0 364.8,476.0 366.8,488.0 C367.8,498.0 370.8,504.0 372.8,510.0 L383.8,510.0 C383.8,502.0 388.8,498.0 402.8,498.0 C416.8,498.0 424.8,502.0 427.8,510.0 L439.8,510.0 C438.8,496.0 436.8,484.0 434.8,474.0 C432.8,460.0 430.8,446.0 426.8,438.0 C422.8,432.0 416.8,430.0 412.8,430.0 Z" fill="#fbf1ea" stroke="#e5ad80" stroke-width="0.9"/><path d="M381.8,490.0 Q402.8,500.0 424.8,488.0 L426.8,500.0 Q402.8,508.0 382.8,502.0 Z" fill="#f7dcc6"/><path d="M380.8,448.0 C379.8,468.0 379.8,486.0 382.8,504.0 M424.8,451.0 C425.8,471.0 427.8,488.0 430.8,506.0 M401.8,482.0 l0.3,1.5" fill="none" stroke="#e5ad80" stroke-width="0.8"/><path d="M371.8,509.0 l0.5,6 M375.3,510.0 l0.3,6.5 M378.8,510.0 l0,6 M429.8,510.0 l0,6 M433.3,510.0 l0.3,6.5 M436.8,510.0 l0.6,6" fill="none" stroke="#e5ad80" stroke-width="0.8"/><ellipse cx="401.8" cy="432" rx="11" ry="3.5" fill="#f7dcc6"/><ellipse cx="381.8" cy="408" rx="3.4" ry="6" fill="#fbf1ea" stroke="#e5ad80" stroke-width="0.8"/><ellipse cx="422.3" cy="408" rx="3.4" ry="6" fill="#fbf1ea" stroke="#e5ad80" stroke-width="0.8"/><path d="M381.8,400.0 C380.8,384.0 390.8,376.0 401.8,376.0 C413.8,376.0 422.8,384.0 422.8,400.0 C422.8,414.0 415.8,428.0 401.8,430.0 C388.8,429.0 381.8,416.0 381.8,400.0 Z" fill="#fbf1ea" stroke="#e5ad80" stroke-width="0.9"/><path d="M381.8,401.0 C380.8,384.0 390.8,376.0 401.8,376.0 C413.8,376.0 422.8,384.0 422.3,399.0 C419.8,392.0 414.8,386.0 406.8,385.0 L403.8,382.5 L401.8,385.0 C394.8,385.0 388.8,388.0 386.8,394.0 C384.8,396.0 382.8,399.0 381.8,401.0 Z" fill="#eeb584"/><path d="M388.8,408.0 q3.5,2.5 7,0 M405.8,408.0 q3.5,2.5 7,0 M390.8,402.0 q3,-1.5 6,0 M406.8,402.0 q3,-1.5 6,0" fill="none" stroke="#e5ad80" stroke-width="0.9"/><path d="M398.8,420.0 q3,-1.5 6,0 q-3,1.5 -6,0 Z M399.3,414.5 q2.5,1 5,0" fill="#f7dcc6" stroke="#e5ad80" stroke-width="0.7"/>
<path d="M399.3,508.0 C397.3,496.0 414.3,492.0 434.3,496.0 L472.3,500.0 C478.3,506.0 476.3,518.0 464.3,520.0 L414.3,521.0 C404.3,520.0 399.3,514.0 399.3,508.0 Z" fill="#fbf1ea" stroke="#e5ad80" stroke-width="0.9"/><path d="M404.3,512.0 Q434.3,522.0 466.3,514.0" fill="none" stroke="#f7dcc6" stroke-width="4"/><path d="M446.3,512.0 l3,8 l4,-2 l2,3 M424.3,517.0 l2,5" fill="none" stroke="#e5ad80" stroke-width="0.8"/><path d="M470.3,486.0 C476.3,476.0 490.3,472.0 496.3,484.0 C500.3,494.0 502.3,500.0 508.3,502.0 L520.3,503.0 C526.3,504.0 526.3,512.0 520.3,515.0 L478.3,517.0 Z" fill="#fbf1ea" stroke="#e5ad80" stroke-width="0.9"/><path d="M432.3,430.0 C420.3,432.0 413.3,436.0 412.3,448.0 C410.3,462.0 408.3,476.0 410.3,488.0 C411.3,498.0 414.3,504.0 416.3,510.0 L427.3,510.0 C427.3,502.0 432.3,498.0 446.3,498.0 C460.3,498.0 468.3,502.0 471.3,510.0 L483.3,510.0 C482.3,496.0 480.3,484.0 478.3,474.0 C476.3,460.0 474.3,446.0 470.3,438.0 C466.3,432.0 460.3,430.0 456.3,430.0 Z" fill="#fbf1ea" stroke="#e5ad80" stroke-width="0.9"/><path d="M425.3,490.0 Q446.3,500.0 468.3,488.0 L470.3,500.0 Q446.3,508.0 426.3,502.0 Z" fill="#f7dcc6"/><path d="M424.3,448.0 C423.3,468.0 423.3,486.0 426.3,504.0 M468.3,451.0 C469.3,471.0 471.3,488.0 474.3,506.0 M445.3,482.0 l0.3,1.5" fill="none" stroke="#e5ad80" stroke-width="0.8"/><path d="M415.3,509.0 l0.5,6 M418.8,510.0 l0.3,6.5 M422.3,510.0 l0,6 M473.3,510.0 l0,6 M476.8,510.0 l0.3,6.5 M480.3,510.0 l0.6,6" fill="none" stroke="#e5ad80" stroke-width="0.8"/><ellipse cx="445.3" cy="432" rx="11" ry="3.5" fill="#f7dcc6"/><ellipse cx="425.3" cy="408" rx="3.4" ry="6" fill="#fbf1ea" stroke="#e5ad80" stroke-width="0.8"/><ellipse cx="465.8" cy="408" rx="3.4" ry="6" fill="#fbf1ea" stroke="#e5ad80" stroke-width="0.8"/><path d="M425.3,400.0 C424.3,384.0 434.3,376.0 445.3,376.0 C457.3,376.0 466.3,384.0 466.3,400.0 C466.3,414.0 459.3,428.0 445.3,430.0 C432.3,429.0 425.3,416.0 425.3,400.0 Z" fill="#fbf1ea" stroke="#e5ad80" stroke-width="0.9"/><path d="M425.3,401.0 C424.3,384.0 434.3,376.0 445.3,376.0 C457.3,376.0 466.3,384.0 465.8,399.0 C463.3,392.0 458.3,386.0 450.3,385.0 L447.3,382.5 L445.3,385.0 C438.3,385.0 432.3,388.0 430.3,394.0 C428.3,396.0 426.3,399.0 425.3,401.0 Z" fill="#eeb584"/><path d="M432.3,408.0 q3.5,2.5 7,0 M449.3,408.0 q3.5,2.5 7,0 M434.3,402.0 q3,-1.5 6,0 M450.3,402.0 q3,-1.5 6,0" fill="none" stroke="#e5ad80" stroke-width="0.9"/><path d="M442.3,420.0 q3,-1.5 6,0 q-3,1.5 -6,0 Z M442.8,414.5 q2.5,1 5,0" fill="#f7dcc6" stroke="#e5ad80" stroke-width="0.7"/>
<path d="M275.2,805.8 C273.2,793.8 290.2,789.8 310.2,793.8 L348.2,797.8 C354.2,803.8 352.2,815.8 340.2,817.8 L290.2,818.8 C280.2,817.8 275.2,811.8 275.2,805.8 Z" fill="#e3f4e0" stroke="#8fcd8c" stroke-width="0.9"/><path d="M280.2,809.8 Q310.2,819.8 342.2,811.8" fill="none" stroke="#cdebc9" stroke-width="4"/><path d="M322.2,809.8 l3,8 l4,-2 l2,3 M300.2,814.8 l2,5" fill="none" stroke="#8fcd8c" stroke-width="0.8"/><path d="M308.2,727.8 C296.2,729.8 289.2,733.8 288.2,745.8 C286.2,759.8 284.2,773.8 286.2,785.8 C287.2,795.8 290.2,801.8 292.2,807.8 L303.2,807.8 C303.2,799.8 308.2,795.8 322.2,795.8 C336.2,795.8 344.2,799.8 347.2,807.8 L359.2,807.8 C358.2,793.8 356.2,781.8 354.2,771.8 C352.2,757.8 350.2,743.8 346.2,735.8 C342.2,729.8 336.2,727.8 332.2,727.8 Z" fill="#e3f4e0" stroke="#8fcd8c" stroke-width="0.9"/><path d="M301.2,787.8 Q322.2,797.8 344.2,785.8 L346.2,797.8 Q322.2,805.8 302.2,799.8 Z" fill="#cdebc9"/><path d="M300.2,745.8 C299.2,765.8 299.2,783.8 302.2,801.8 M344.2,748.8 C345.2,768.8 347.2,785.8 350.2,803.8 M321.2,779.8 l0.3,1.5" fill="none" stroke="#8fcd8c" stroke-width="0.8"/><path d="M291.2,806.8 l0.5,6 M294.7,807.8 l0.3,6.5 M298.2,807.8 l0,6 M349.2,807.8 l0,6 M352.7,807.8 l0.3,6.5 M356.2,807.8 l0.6,6" fill="none" stroke="#8fcd8c" stroke-width="0.8"/><ellipse cx="321.2" cy="729.8" rx="11" ry="3.5" fill="#cdebc9"/><ellipse cx="301.2" cy="705.8" rx="3.4" ry="6" fill="#e3f4e0" stroke="#8fcd8c" stroke-width="0.8"/><ellipse cx="341.7" cy="705.8" rx="3.4" ry="6" fill="#e3f4e0" stroke="#8fcd8c" stroke-width="0.8"/><path d="M301.2,697.8 C300.2,681.8 310.2,673.8 321.2,673.8 C333.2,673.8 342.2,681.8 342.2,697.8 C342.2,711.8 335.2,725.8 321.2,727.8 C308.2,726.8 301.2,713.8 301.2,697.8 Z" fill="#e3f4e0" stroke="#8fcd8c" stroke-width="0.9"/><path d="M301.2,698.8 C300.2,681.8 310.2,673.8 321.2,673.8 C333.2,673.8 342.2,681.8 341.7,696.8 C339.2,689.8 334.2,683.8 326.2,682.8 L323.2,680.3 L321.2,682.8 C314.2,682.8 308.2,685.8 306.2,691.8 C304.2,693.8 302.2,696.8 301.2,698.8 Z" fill="#a9dca6"/><path d="M308.2,705.8 q3.5,2.5 7,0 M325.2,705.8 q3.5,2.5 7,0 M310.2,699.8 q3,-1.5 6,0 M326.2,699.8 q3,-1.5 6,0" fill="none" stroke="#8fcd8c" stroke-width="0.9"/><path d="M318.2,717.8 q3,-1.5 6,0 q-3,1.5 -6,0 Z M318.7,712.3 q2.5,1 5,0" fill="#cdebc9" stroke="#8fcd8c" stroke-width="0.7"/>
<path d="M316.4,805.8 C314.4,793.8 331.4,789.8 351.4,793.8 L389.4,797.8 C395.4,803.8 393.4,815.8 381.4,817.8 L331.4,818.8 C321.4,817.8 316.4,811.8 316.4,805.8 Z" fill="#e3f4e0" stroke="#8fcd8c" stroke-width="0.9"/><path d="M321.4,809.8 Q351.4,819.8 383.4,811.8" fill="none" stroke="#cdebc9" stroke-width="4"/><path d="M363.4,809.8 l3,8 l4,-2 l2,3 M341.4,814.8 l2,5" fill="none" stroke="#8fcd8c" stroke-width="0.8"/><path d="M349.4,727.8 C337.4,729.8 330.4,733.8 329.4,745.8 C327.4,759.8 325.4,773.8 327.4,785.8 C328.4,795.8 331.4,801.8 333.4,807.8 L344.4,807.8 C344.4,799.8 349.4,795.8 363.4,795.8 C377.4,795.8 385.4,799.8 388.4,807.8 L400.4,807.8 C399.4,793.8 397.4,781.8 395.4,771.8 C393.4,757.8 391.4,743.8 387.4,735.8 C383.4,729.8 377.4,727.8 373.4,727.8 Z" fill="#e3f4e0" stroke="#8fcd8c" stroke-width="0.9"/><path d="M342.4,787.8 Q363.4,797.8 385.4,785.8 L387.4,797.8 Q363.4,805.8 343.4,799.8 Z" fill="#cdebc9"/><path d="M341.4,745.8 C340.4,765.8 340.4,783.8 343.4,801.8 M385.4,748.8 C386.4,768.8 388.4,785.8 391.4,803.8 M362.4,779.8 l0.3,1.5" fill="none" stroke="#8fcd8c" stroke-width="0.8"/><path d="M332.4,806.8 l0.5,6 M335.9,807.8 l0.3,6.5 M339.4,807.8 l0,6 M390.4,807.8 l0,6 M393.9,807.8 l0.3,6.5 M397.4,807.8 l0.6,6" fill="none" stroke="#8fcd8c" stroke-width="0.8"/><ellipse cx="362.4" cy="729.8" rx="11" ry="3.5" fill="#cdebc9"/><ellipse cx="342.4" cy="705.8" rx="3.4" ry="6" fill="#e3f4e0" stroke="#8fcd8c" stroke-width="0.8"/><ellipse cx="382.9" cy="705.8" rx="3.4" ry="6" fill="#e3f4e0" stroke="#8fcd8c" stroke-width="0.8"/><path d="M342.4,697.8 C341.4,681.8 351.4,673.8 362.4,673.8 C374.4,673.8 383.4,681.8 383.4,697.8 C383.4,711.8 376.4,725.8 362.4,727.8 C349.4,726.8 342.4,713.8 342.4,697.8 Z" fill="#e3f4e0" stroke="#8fcd8c" stroke-width="0.9"/><path d="M342.4,698.8 C341.4,681.8 351.4,673.8 362.4,673.8 C374.4,673.8 383.4,681.8 382.9,696.8 C380.4,689.8 375.4,683.8 367.4,682.8 L364.4,680.3 L362.4,682.8 C355.4,682.8 349.4,685.8 347.4,691.8 C345.4,693.8 343.4,696.8 342.4,698.8 Z" fill="#a9dca6"/><path d="M349.4,705.8 q3.5,2.5 7,0 M366.4,705.8 q3.5,2.5 7,0 M351.4,699.8 q3,-1.5 6,0 M367.4,699.8 q3,-1.5 6,0" fill="none" stroke="#8fcd8c" stroke-width="0.9"/><path d="M359.4,717.8 q3,-1.5 6,0 q-3,1.5 -6,0 Z M359.9,712.3 q2.5,1 5,0" fill="#cdebc9" stroke="#8fcd8c" stroke-width="0.7"/>
<path d="M355.0,805.8 C353.0,793.8 370.0,789.8 390.0,793.8 L428.0,797.8 C434.0,803.8 432.0,815.8 420.0,817.8 L370.0,818.8 C360.0,817.8 355.0,811.8 355.0,805.8 Z" fill="#e3f4e0" stroke="#8fcd8c" stroke-width="0.9"/><path d="M360.0,809.8 Q390.0,819.8 422.0,811.8" fill="none" stroke="#cdebc9" stroke-width="4"/><path d="M402.0,809.8 l3,8 l4,-2 l2,3 M380.0,814.8 l2,5" fill="none" stroke="#8fcd8c" stroke-width="0.8"/><path d="M388.0,727.8 C376.0,729.8 369.0,733.8 368.0,745.8 C366.0,759.8 364.0,773.8 366.0,785.8 C367.0,795.8 370.0,801.8 372.0,807.8 L383.0,807.8 C383.0,799.8 388.0,795.8 402.0,795.8 C416.0,795.8 424.0,799.8 427.0,807.8 L439.0,807.8 C438.0,793.8 436.0,781.8 434.0,771.8 C432.0,757.8 430.0,743.8 426.0,735.8 C422.0,729.8 416.0,727.8 412.0,727.8 Z" fill="#e3f4e0" stroke="#8fcd8c" stroke-width="0.9"/><path d="M381.0,787.8 Q402.0,797.8 424.0,785.8 L426.0,797.8 Q402.0,805.8 382.0,799.8 Z" fill="#cdebc9"/><path d="M380.0,745.8 C379.0,765.8 379.0,783.8 382.0,801.8 M424.0,748.8 C425.0,768.8 427.0,785.8 430.0,803.8 M401.0,779.8 l0.3,1.5" fill="none" stroke="#8fcd8c" stroke-width="0.8"/><path d="M371.0,806.8 l0.5,6 M374.5,807.8 l0.3,6.5 M378.0,807.8 l0,6 M429.0,807.8 l0,6 M432.5,807.8 l0.3,6.5 M436.0,807.8 l0.6,6" fill="none" stroke="#8fcd8c" stroke-width="0.8"/><ellipse cx="401" cy="729.8" rx="11" ry="3.5" fill="#cdebc9"/><ellipse cx="381" cy="705.8" rx="3.4" ry="6" fill="#e3f4e0" stroke="#8fcd8c" stroke-width="0.8"/><ellipse cx="421.5" cy="705.8" rx="3.4" ry="6" fill="#e3f4e0" stroke="#8fcd8c" stroke-width="0.8"/><path d="M381.0,697.8 C380.0,681.8 390.0,673.8 401.0,673.8 C413.0,673.8 422.0,681.8 422.0,697.8 C422.0,711.8 415.0,725.8 401.0,727.8 C388.0,726.8 381.0,713.8 381.0,697.8 Z" fill="#e3f4e0" stroke="#8fcd8c" stroke-width="0.9"/><path d="M381.0,698.8 C380.0,681.8 390.0,673.8 401.0,673.8 C413.0,673.8 422.0,681.8 421.5,696.8 C419.0,689.8 414.0,683.8 406.0,682.8 L403.0,680.3 L401.0,682.8 C394.0,682.8 388.0,685.8 386.0,691.8 C384.0,693.8 382.0,696.8 381.0,698.8 Z" fill="#a9dca6"/><path d="M388.0,705.8 q3.5,2.5 7,0 M405.0,705.8 q3.5,2.5 7,0 M390.0,699.8 q3,-1.5 6,0 M406.0,699.8 q3,-1.5 6,0" fill="none" stroke="#8fcd8c" stroke-width="0.9"/><path d="M398.0,717.8 q3,-1.5 6,0 q-3,1.5 -6,0 Z M398.5,712.3 q2.5,1 5,0" fill="#cdebc9" stroke="#8fcd8c" stroke-width="0.7"/>
<path d="M400.4,805.8 C398.4,793.8 415.4,789.8 435.4,793.8 L473.4,797.8 C479.4,803.8 477.4,815.8 465.4,817.8 L415.4,818.8 C405.4,817.8 400.4,811.8 400.4,805.8 Z" fill="#e3f4e0" stroke="#8fcd8c" stroke-width="0.9"/><path d="M405.4,809.8 Q435.4,819.8 467.4,811.8" fill="none" stroke="#cdebc9" stroke-width="4"/><path d="M447.4,809.8 l3,8 l4,-2 l2,3 M425.4,814.8 l2,5" fill="none" stroke="#8fcd8c" stroke-width="0.8"/><path d="M471.4,783.8 C477.4,773.8 491.4,769.8 497.4,781.8 C501.4,791.8 503.4,797.8 509.4,799.8 L521.4,800.8 C527.4,801.8 527.4,809.8 521.4,812.8 L479.4,814.8 Z" fill="#e3f4e0" stroke="#8fcd8c" stroke-width="0.9"/><path d="M433.4,727.8 C421.4,729.8 414.4,733.8 413.4,745.8 C411.4,759.8 409.4,773.8 411.4,785.8 C412.4,795.8 415.4,801.8 417.4,807.8 L428.4,807.8 C428.4,799.8 433.4,795.8 447.4,795.8 C461.4,795.8 469.4,799.8 472.4,807.8 L484.4,807.8 C483.4,793.8 481.4,781.8 479.4,771.8 C477.4,757.8 475.4,743.8 471.4,735.8 C467.4,729.8 461.4,727.8 457.4,727.8 Z" fill="#e3f4e0" stroke="#8fcd8c" stroke-width="0.9"/><path d="M426.4,787.8 Q447.4,797.8 469.4,785.8 L471.4,797.8 Q447.4,805.8 427.4,799.8 Z" fill="#cdebc9"/><path d="M425.4,745.8 C424.4,765.8 424.4,783.8 427.4,801.8 M469.4,748.8 C470.4,768.8 472.4,785.8 475.4,803.8 M446.4,779.8 l0.3,1.5" fill="none" stroke="#8fcd8c" stroke-width="0.8"/><path d="M416.4,806.8 l0.5,6 M419.9,807.8 l0.3,6.5 M423.4,807.8 l0,6 M474.4,807.8 l0,6 M477.9,807.8 l0.3,6.5 M481.4,807.8 l0.6,6" fill="none" stroke="#8fcd8c" stroke-width="0.8"/><ellipse cx="446.4" cy="729.8" rx="11" ry="3.5" fill="#cdebc9"/><ellipse cx="426.4" cy="705.8" rx="3.4" ry="6" fill="#e3f4e0" stroke="#8fcd8c" stroke-width="0.8"/><ellipse cx="466.9" cy="705.8" rx="3.4" ry="6" fill="#e3f4e0" stroke="#8fcd8c" stroke-width="0.8"/><path d="M426.4,697.8 C425.4,681.8 435.4,673.8 446.4,673.8 C458.4,673.8 467.4,681.8 467.4,697.8 C467.4,711.8 460.4,725.8 446.4,727.8 C433.4,726.8 426.4,713.8 426.4,697.8 Z" fill="#e3f4e0" stroke="#8fcd8c" stroke-width="0.9"/><path d="M426.4,698.8 C425.4,681.8 435.4,673.8 446.4,673.8 C458.4,673.8 467.4,681.8 466.9,696.8 C464.4,689.8 459.4,683.8 451.4,682.8 L448.4,680.3 L446.4,682.8 C439.4,682.8 433.4,685.8 431.4,691.8 C429.4,693.8 427.4,696.8 426.4,698.8 Z" fill="#a9dca6"/><path d="M433.4,705.8 q3.5,2.5 7,0 M450.4,705.8 q3.5,2.5 7,0 M435.4,699.8 q3,-1.5 6,0 M451.4,699.8 q3,-1.5 6,0" fill="none" stroke="#8fcd8c" stroke-width="0.9"/><path d="M443.4,717.8 q3,-1.5 6,0 q-3,1.5 -6,0 Z M443.9,712.3 q2.5,1 5,0" fill="#cdebc9" stroke="#8fcd8c" stroke-width="0.7"/>
<text x="85.6" y="550.8" font-size="25.5"><tspan font-style="italic">n</tspan> = 14</text>
<text x="344.0" y="550.8" font-size="25.5"><tspan font-style="italic">n</tspan> = 16</text>
<text x="348.8" y="846.2" font-size="25.5"><tspan font-style="italic">n</tspan> = 15</text>
<path d="M525,287 L525,358.6 A9.4,9.4 0 0 0 543.8,358.6 L543.8,287 Z" fill="#f3f5f4" stroke="#9c9c9c" stroke-width="1.3"/><path d="M526.3,297.6 L526.3,358.6 A8.1,8.1 0 0 0 542.5,358.6 L542.5,297.6 Z" fill="#a33e42"/><rect x="527.3" y="299.6" width="2" height="58.39999999999998" fill="#b9686b"/><ellipse cx="534.4" cy="298.8" rx="8.1" ry="1.8" fill="#c95b5e"/><ellipse cx="534.4" cy="287.2" rx="9.4" ry="2.4" fill="#d3d3d3" stroke="#9a9a9a" stroke-width="1"/>
<path d="M525,425.3 L525,498.40000000000003 A9.4,9.4 0 0 0 543.8,498.40000000000003 L543.8,425.3 Z" fill="#f3f5f4" stroke="#9c9c9c" stroke-width="1.3"/><path d="M526.3,436 L526.3,498.40000000000003 A8.1,8.1 0 0 0 542.5,498.40000000000003 L542.5,436 Z" fill="#a33e42"/><rect x="527.3" y="438" width="2" height="59.80000000000001" fill="#b9686b"/><ellipse cx="534.4" cy="437.2" rx="8.1" ry="1.8" fill="#c95b5e"/><ellipse cx="534.4" cy="425.5" rx="9.4" ry="2.4" fill="#d3d3d3" stroke="#9a9a9a" stroke-width="1"/>
<path d="M526.5,678.3 L526.5,751.6 A9.4,9.4 0 0 0 545.3,751.6 L545.3,678.3 Z" fill="#f3f5f4" stroke="#9c9c9c" stroke-width="1.3"/><path d="M527.8,689 L527.8,751.6 A8.1,8.1 0 0 0 544.0,751.6 L544.0,689 Z" fill="#a33e42"/><rect x="528.8" y="691" width="2" height="60" fill="#b9686b"/><ellipse cx="535.9" cy="690.2" rx="8.1" ry="1.8" fill="#c95b5e"/><ellipse cx="535.9" cy="678.5" rx="9.4" ry="2.4" fill="#d3d3d3" stroke="#9a9a9a" stroke-width="1"/>
<defs><linearGradient id="g324" x1="0" x2="1"><stop offset="0" stop-color="#111" stop-opacity="0"/><stop offset="0.45" stop-color="#111"/></linearGradient></defs><rect x="475.7" y="320.2" width="33.30000000000001" height="7.6" fill="url(#g324)"/><path d="M525,324 L507,314 L507,334 Z" fill="#111"/>
<defs><linearGradient id="g458" x1="0" x2="1"><stop offset="0" stop-color="#111" stop-opacity="0"/><stop offset="0.45" stop-color="#111"/></linearGradient></defs><rect x="480" y="454.59999999999997" width="29" height="7.6" fill="url(#g458)"/><path d="M525,458.4 L507,448.4 L507,468.4 Z" fill="#111"/>
<defs><linearGradient id="g724" x1="0" x2="1"><stop offset="0" stop-color="#111" stop-opacity="0"/><stop offset="0.45" stop-color="#111"/></linearGradient></defs><rect x="475.8" y="720.8000000000001" width="33.19999999999999" height="7.6" fill="url(#g724)"/><path d="M525,724.6 L507,714.6 L507,734.6 Z" fill="#111"/>
<text x="548.8" y="319.2" font-size="18.4">Maternal</text>
<text x="548.8" y="340.9" font-size="18.4">peripheral</text>
<text x="548.8" y="362.6" font-size="18.4">blood</text>
<text x="548.8" y="457.0" font-size="18.4">Neonatal</text>
<text x="548.8" y="478.9" font-size="18.4">cord</text>
<text x="548.8" y="500.8" font-size="18.4">blood</text>
<text x="555.3" y="706.0" font-size="18.4">Neonatal</text>
<text x="555.3" y="728.1" font-size="18.4">cord</text>
<text x="555.3" y="750.2" font-size="18.4">blood</text>
<text x="382.8" y="596.5" font-size="18.4" text-anchor="middle">Maternal status</text>
<rect x="303.3" y="611" width="160.7" height="50" rx="11" fill="#3f9a3e" stroke="#2a6b2a" stroke-width="2"/>
<text x="382.8" y="643.0" font-size="18.4" text-anchor="middle" fill="#fff">NSE</text>
<text x="138.5" y="659.0" font-size="18.4" text-anchor="middle">Pre-COVID-19</text>
<text x="138.5" y="681.0" font-size="18.4" text-anchor="middle">pandemic</text>
<rect x="69" y="703" width="140.3" height="24.4" fill="#a6a6a6"/>
<line x1="70.8" y1="730.7" x2="196" y2="730.7" stroke="#000" stroke-width="1.6"/>
<path d="M204,730.7 L190,724.4 L193,730.7 L190,737 Z" fill="#000"/>
<text x="162.8" y="755.0" font-size="18.4">01/01/20</text>
<path d="M639.5,320 H653 V484.5 H639.5" fill="none" stroke="#111" stroke-width="2.4"/>
<path d="M639.5,494 H653.5 V687 H639.5" fill="none" stroke="#111" stroke-width="2.4"/>
<line x1="653.0" y1="361.0" x2="701.0" y2="361.0" stroke="#000" stroke-width="2.2"/><path d="M711.0,361.0 L697.0,368.6 L700.2,361.0 L697.0,353.4 Z" fill="#000"/>
<line x1="653.5" y1="610.4" x2="699.5" y2="610.4" stroke="#000" stroke-width="2.2"/><path d="M709.5,610.4 L695.5,618.0 L698.7,610.4 L695.5,602.8 Z" fill="#000"/>
<line x1="794.4" y1="259.7" x2="811.6" y2="243.5" stroke="#000" stroke-width="2.2"/><path d="M818.9,236.7 L813.9,251.8 L811.0,244.1 L803.5,240.7 Z" fill="#000"/>
<line x1="791.0" y1="339.4" x2="812.0" y2="339.4" stroke="#000" stroke-width="2.2"/><path d="M822.0,339.4 L808.0,347.0 L811.2,339.4 L808.0,331.8 Z" fill="#000"/>
<line x1="824.0" y1="608.0" x2="844.7" y2="608.0" stroke="#000" stroke-width="2.2"/><path d="M854.7,608.0 L840.7,615.6 L843.9,608.0 L840.7,600.4 Z" fill="#000"/>
<line x1="814.0" y1="703.6" x2="833.0" y2="719.4" stroke="#000" stroke-width="2.2"/><path d="M840.7,725.8 L825.1,722.7 L832.4,718.9 L834.8,711.0 Z" fill="#000"/>
<text x="925.6" y="57.0" font-size="18.4" text-anchor="middle">1. SARS-CoV-2-specific</text>
<text x="925.6" y="78.6" font-size="18.4" text-anchor="middle">IgG &amp; IgM</text>
<text x="737.0" y="234.7" font-size="18.4" text-anchor="middle">Plasma</text>
<text x="915.3" y="268.0" font-size="18.4" text-anchor="middle">2. Cytokines</text>
<text x="933.0" y="458.3" font-size="18.4" text-anchor="middle">3. Neonatal cellular</text>
<text x="933.0" y="479.0" font-size="18.4" text-anchor="middle">immunophenotype</text>
<text x="761.7" y="527.0" font-size="18.4" text-anchor="middle">Neonatal CBMCs &amp;</text>
<text x="761.7" y="548.8" font-size="18.4" text-anchor="middle">maternal PBMCs</text>
<text x="937.5" y="671.0" font-size="18.4" text-anchor="middle">4. IFN-γ* SARS-CoV-2-</text>
<text x="937.5" y="692.7" font-size="18.4" text-anchor="middle">reactive cells*</text>
<circle cx="931" cy="166.7" r="77" fill="#fff" stroke="#98acdf" stroke-width="2.4"/>
<circle cx="931" cy="355" r="77" fill="#fff" stroke="#98acdf" stroke-width="2.4"/>
<circle cx="940" cy="574" r="77" fill="#fff" stroke="#98acdf" stroke-width="2.4"/>
<circle cx="940" cy="779.6" r="77" fill="#fff" stroke="#98acdf" stroke-width="2.4"/>
<path d="M909.5,136 C911,140 911,144 909.5,147 M916.5,134 C918,138 921,140 925,142.5 M910.6,139.5 L917.6,137.5 M911,142 L918.5,140" fill="none" stroke="#2e4b5c" stroke-width="1.1"/>
<line x1="902.3" y1="115.8" x2="908.4" y2="134.9" stroke="#2277a8" stroke-width="4.9" stroke-linecap="round"/><line x1="910.7" y1="113.1" x2="916.7" y2="131.9" stroke="#2277a8" stroke-width="4.9" stroke-linecap="round"/><line x1="931.1" y1="136.7" x2="946.3" y2="147.1" stroke="#2277a8" stroke-width="4.9" stroke-linecap="round"/><line x1="926.2" y1="144.2" x2="941.4" y2="154.3" stroke="#2277a8" stroke-width="4.9" stroke-linecap="round"/><line x1="901.4" y1="146.5" x2="896.2" y2="164.9" stroke="#2277a8" stroke-width="4.9" stroke-linecap="round"/><line x1="909.7" y1="148.4" x2="905" y2="166.8" stroke="#2277a8" stroke-width="4.9" stroke-linecap="round"/>
<path d="M931.5,175 L930,181 M940.5,188 L943,189 M958,183 L956,186.5" fill="none" stroke="#333" stroke-width="0.9"/>
<line x1="923.6" y1="163.2" x2="928.5" y2="182" stroke="#218a63" stroke-width="4.9" stroke-linecap="round"/><line x1="932.3" y1="160.6" x2="937.2" y2="179.3" stroke="#218a63" stroke-width="4.9" stroke-linecap="round"/><line x1="968.3" y1="173.4" x2="953.1" y2="184.2" stroke="#218a63" stroke-width="4.9" stroke-linecap="round"/><line x1="973.2" y1="181.8" x2="958.1" y2="192.2" stroke="#218a63" stroke-width="4.9" stroke-linecap="round"/><line x1="937.9" y1="185.6" x2="928.1" y2="217.6" stroke="#218a63" stroke-width="4.9" stroke-linecap="round"/><line x1="946.3" y1="189.4" x2="936.5" y2="219.1" stroke="#218a63" stroke-width="4.9" stroke-linecap="round"/>
<circle cx="885.6" cy="316.7" r="15.5" fill="#f7cdd0" stroke="#e09aa0" stroke-width="0.8"/><circle cx="880.6" cy="310.7" r="2.6" fill="#fff" opacity="0.7"/>
<circle cx="945.8" cy="316.7" r="15.5" fill="#f0a3a8" stroke="#e09aa0" stroke-width="0.8"/><circle cx="940.8" cy="310.7" r="2.6" fill="#fff" opacity="0.7"/>
<circle cx="980.6" cy="324.4" r="15.5" fill="#fadcde" stroke="#e09aa0" stroke-width="0.8"/><circle cx="975.6" cy="318.4" r="2.6" fill="#fff" opacity="0.7"/>
<circle cx="885.6" cy="359.7" r="15.5" fill="#f2a5ab" stroke="#e09aa0" stroke-width="0.8"/><circle cx="880.6" cy="353.7" r="2.6" fill="#fff" opacity="0.7"/>
<circle cx="930" cy="349.4" r="15.5" fill="#e87a83" stroke="#e09aa0" stroke-width="0.8"/><circle cx="925" cy="343.4" r="2.6" fill="#fff" opacity="0.7"/>
<circle cx="971.7" cy="357.8" r="15.5" fill="#f8cbcf" stroke="#e09aa0" stroke-width="0.8"/><circle cx="966.7" cy="351.8" r="2.6" fill="#fff" opacity="0.7"/>
<circle cx="898.6" cy="395.8" r="15.5" fill="#f8cacd" stroke="#e09aa0" stroke-width="0.8"/><circle cx="893.6" cy="389.8" r="2.6" fill="#fff" opacity="0.7"/>
<circle cx="945.8" cy="393" r="15.5" fill="#f1a4a9" stroke="#e09aa0" stroke-width="0.8"/><circle cx="940.8" cy="387" r="2.6" fill="#fff" opacity="0.7"/>
<path d="M713.5,253 C707,252 706,259 712,259.5 L716.5,259.5" fill="none" stroke="#7d8689" stroke-width="1.3"/>
<path d="M718.8,261.5 L762.7,261.5 L762.3,322 C762.3,330 760,336 757,345 L747,386 C745,396 737,396 735,386 L725,345 C722,336 719.2,330 719.2,322 Z" fill="#edf3f1" stroke="#6f787c" stroke-width="1.4"/>
<path d="M757,262.5 L761.6,262.5 L761.3,322 C761.3,330 759,336 756,345 L748,378 L746,378 L752,345 C755,336 757,330 757,322 Z" fill="#d8e2e4"/>
<path d="M721.5,262.5 L760.8,262.5 L760.8,265 Q760.8,268.5 757,268.5 L725,268.5 Q721.5,268.5 721.5,265 Z" fill="#c9cfd5" stroke="#8a949a" stroke-width="0.8"/>
<path d="M731.5,365.8 L750.4,365.8 L744,388.5 Q741.2,393 738.4,388.5 Z" fill="#929292" stroke="#4f4f4f" stroke-width="1"/>
<line x1="748.5" y1="271.9" x2="758.8" y2="271.9" stroke="#868f92" stroke-width="1.3"/>
<line x1="748.5" y1="299.2" x2="758.8" y2="299.2" stroke="#868f92" stroke-width="1.3"/>
<line x1="748.5" y1="326.5" x2="758.8" y2="326.5" stroke="#868f92" stroke-width="1.3"/>
<rect x="716.5" y="256.2" width="48.1" height="5" rx="1" fill="#edf2f1" stroke="#6f787c" stroke-width="1.2"/>
<rect x="712.7" y="250.4" width="55.8" height="4.8" rx="2.2" fill="#eef3f2" stroke="#6f787c" stroke-width="1.2"/>
<path d="M914,508 L914,521 L925,531.5 L930.5,531.5 L919.5,520 L919.5,508 Z" fill="#d7eff7" stroke="#cfdfe4" stroke-width="0.6"/>
<rect x="937.3" y="508" width="9.3" height="40" fill="#e2e2e2" stroke="#cfcfcf" stroke-width="0.8"/>
<path d="M920,535.7 L964.8,535.7 L958.1,570.7 L945.5,596 L938.4,596 L926.9,570.7 Z" fill="#d9f0f7" stroke="#bdbdbd" stroke-width="1"/>
<path d="M927.6,546.1 L956.3,546.1 L951,570 L942,592 L934,570 Z" fill="#e1ecee" stroke="#cfd6d8" stroke-width="0.8"/>
<rect x="918.3" y="530.5" width="48" height="5.2" rx="2" fill="#f3f3f3" stroke="#bbbbbb" stroke-width="0.9"/>
<rect x="940.1" y="596.5" width="3.6" height="45" fill="#d7eff7" stroke="#c4c4c4" stroke-width="0.7"/>
<defs><linearGradient id="laser" x1="0" x2="1"><stop offset="0" stop-color="#e02c12"/><stop offset="0.45" stop-color="#f7a21a"/><stop offset="0.7" stop-color="#f9c23a"/><stop offset="1" stop-color="#fbd46a" stop-opacity="0"/></linearGradient></defs>
<rect x="921.5" y="610.6" width="33" height="3.8" fill="url(#laser)"/>
<rect x="901.6" y="610.1" width="19.4" height="4.6" rx="0.8" fill="#5e5e5e"/>
<circle cx="934.3" cy="549.4" r="1.35" fill="#f0b03c"/>
<circle cx="938.3" cy="548.3" r="1.35" fill="#2eaa5c"/>
<circle cx="932.2" cy="552.8" r="1.35" fill="#e86a9a"/>
<circle cx="942" cy="551.4" r="1.35" fill="#3a9ad8"/>
<circle cx="946.8" cy="550.2" r="1.35" fill="#e86a9a"/>
<circle cx="950" cy="552.6" r="1.35" fill="#f0b03c"/>
<circle cx="934.3" cy="557.2" r="1.35" fill="#3a9ad8"/>
<circle cx="938" cy="555.6" r="1.35" fill="#8a4fb8"/>
<circle cx="942.9" cy="555.3" r="1.35" fill="#8a4fb8"/>
<circle cx="950.2" cy="556.8" r="1.35" fill="#2eaa5c"/>
<circle cx="943.1" cy="559.6" r="1.35" fill="#8a4fb8"/>
<circle cx="947.2" cy="559.4" r="1.35" fill="#3a9ad8"/>
<circle cx="936.6" cy="562.4" r="1.35" fill="#e86a9a"/>
<circle cx="947.8" cy="564.2" r="1.35" fill="#e86a9a"/>
<circle cx="941" cy="566.4" r="1.35" fill="#2eaa5c"/>
<circle cx="945" cy="567" r="1.35" fill="#f0b03c"/>
<circle cx="937.9" cy="570.2" r="1.35" fill="#f0b03c"/>
<circle cx="945.8" cy="572.6" r="1.35" fill="#2eaa5c"/>
<circle cx="938.8" cy="576.6" r="1.35" fill="#e86a9a"/>
<circle cx="945" cy="577.4" r="1.35" fill="#8a4fb8"/>
<circle cx="941.9" cy="579.2" r="1.35" fill="#f0b03c"/>
<circle cx="942.2" cy="583" r="1.35" fill="#2eaa5c"/>
<circle cx="941" cy="587.5" r="1.35" fill="#3a9ad8"/>
<circle cx="941.4" cy="592" r="1.35" fill="#e86a9a"/>
<circle cx="941.6" cy="599.6" r="1.35" fill="#3a9ad8"/>
<circle cx="941.8" cy="610.6" r="1.35" fill="#2eaa5c"/>
<circle cx="941.6" cy="618" r="1.35" fill="#8a4fb8"/>
<circle cx="941.6" cy="624" r="1.35" fill="#e86a9a"/>
<circle cx="941.6" cy="632" r="1.35" fill="#f0b03c"/>
<circle cx="941.6" cy="640" r="1.35" fill="#3a9ad8"/>
<circle cx="911.3" cy="751.3" r="29.6" fill="#0e0f10"/>
<circle cx="972.4" cy="751.3" r="29.6" fill="#0e0f10"/>
<circle cx="911.3" cy="811.1" r="29.6" fill="#0e0f10"/>
<circle cx="972.4" cy="811.1" r="29.6" fill="#0e0f10"/>
<defs><radialGradient id="spotg"><stop offset="0" stop-color="#b8f43a"/><stop offset="0.45" stop-color="#78d81e"/><stop offset="1" stop-color="#2a7a12" stop-opacity="0"/></radialGradient></defs>
<circle cx="890.9" cy="734.3" r="3.1" fill="url(#spotg)"/>
<circle cx="910.2" cy="735.8" r="3.1" fill="url(#spotg)"/>
<circle cx="929.6" cy="735.8" r="3.1" fill="url(#spotg)"/>
<circle cx="896.9" cy="743.8" r="3.1" fill="url(#spotg)"/>
<circle cx="910.8" cy="752.1" r="3.1" fill="url(#spotg)"/>
<circle cx="933.4" cy="757.4" r="3.1" fill="url(#spotg)"/>
<circle cx="895.6" cy="763.7" r="3.1" fill="url(#spotg)"/>
<circle cx="909.5" cy="769" r="3.1" fill="url(#spotg)"/>
<circle cx="922.5" cy="768.6" r="3.1" fill="url(#spotg)"/>
<circle cx="951.9" cy="734.4" r="3.1" fill="url(#spotg)"/>
<circle cx="990.5" cy="735.8" r="3.1" fill="url(#spotg)"/>
<circle cx="958" cy="743.8" r="3.1" fill="url(#spotg)"/>
<circle cx="994.4" cy="757.4" r="3.1" fill="url(#spotg)"/>
<circle cx="970.5" cy="769" r="3.1" fill="url(#spotg)"/>
<circle cx="951.9" cy="793.5" r="3.1" fill="url(#spotg)"/>
<circle cx="971.3" cy="794.8" r="3.1" fill="url(#spotg)"/>
<circle cx="990.5" cy="794.8" r="3.1" fill="url(#spotg)"/>
<circle cx="958" cy="802.7" r="3.1" fill="url(#spotg)"/>
<circle cx="956.5" cy="822.9" r="3.1" fill="url(#spotg)"/>
<circle cx="970.5" cy="828" r="3.1" fill="url(#spotg)"/>
<circle cx="983.7" cy="828" r="3.1" fill="url(#spotg)"/>
<circle cx="735.9" cy="607.9" r="22.9" fill="#98e6a8" stroke="#6cc487" stroke-width="0.9"/><circle cx="740.2" cy="608.9" r="12.7" fill="#3ea368"/>
<circle cx="771.2" cy="586" r="21.8" fill="#c3cbe8" stroke="#9aa8e0" stroke-width="0.9"/><ellipse cx="768.4" cy="586" rx="11.6" ry="12" fill="#8a9dd8"/>
<ellipse cx="796.9" cy="620.5" rx="22.9" ry="22.4" fill="#f4c0c2" stroke="#eba3a8" stroke-width="0.9"/><ellipse cx="798.3" cy="624.4" rx="11.6" ry="12" fill="#de8286"/>
<circle cx="790" cy="604" r="0.9" fill="#d96a73"/>
<circle cx="797" cy="606" r="0.9" fill="#d96a73"/>
<circle cx="801" cy="603" r="0.7" fill="#d96a73"/>
<circle cx="783" cy="609" r="0.7" fill="#d96a73"/>
<circle cx="782" cy="617" r="0.8" fill="#d96a73"/>
<circle cx="807" cy="612" r="0.9" fill="#d96a73"/>
<circle cx="782" cy="622" r="0.8" fill="#d96a73"/>
<circle cx="778" cy="623" r="0.5" fill="#d96a73"/>
<circle cx="813" cy="626" r="0.5" fill="#d96a73"/>
<circle cx="812" cy="632" r="0.7" fill="#d96a73"/>
<circle cx="793" cy="607" r="0.5" fill="#d96a73"/>
<path d="M809.0,657.2 L809.8,659.7 L808.7,662.0 L807.1,664.0 L806.7,666.4 L806.6,669.1 L805.0,671.0 L802.6,672.1 L800.9,673.8 L799.8,676.2 L797.9,677.8 L795.2,677.9 L792.8,678.3 L790.8,679.9 L788.5,681.0 L786.0,680.2 L783.7,679.2 L781.3,679.5 L778.6,679.9 L776.5,678.5 L774.9,676.4 L772.8,675.4 L770.2,674.8 L768.4,673.0 L767.8,670.4 L766.8,668.3 L764.7,666.7 L763.3,664.6 L763.7,661.9 L764.0,659.5 L763.0,657.2 L762.2,654.7 L763.3,652.4 L764.9,650.4 L765.3,648.0 L765.4,645.3 L767.0,643.4 L769.4,642.3 L771.1,640.6 L772.2,638.2 L774.1,636.6 L776.8,636.5 L779.2,636.1 L781.2,634.5 L783.5,633.4 L786.0,634.2 L788.3,635.2 L790.7,634.9 L793.4,634.5 L795.5,635.9 L797.1,638.0 L799.2,639.0 L801.8,639.6 L803.6,641.4 L804.2,644.0 L805.2,646.1 L807.3,647.7 L808.7,649.8 L808.3,652.5 L808.0,654.9 L809.0,657.2 Z" fill="#b8aee2" stroke="#a884d8" stroke-width="0.9"/>
<path transform="translate(786.5,657.5) scale(1.15)" d="M-15,3 C-16,11 -6,13 2,9 C10,5 15,-2 13,-8 C11,-13 3,-13 1,-8 C0,-3 -3,-1 -8,-2 C-13,-3 -15,-1 -15,3 Z" fill="#9a62c8"/>
<path d="M744.4,650.8 Q729.2,638.8 722.6,627.5" fill="none" stroke="#eec77a" stroke-width="4.6" stroke-linecap="round"/>
<path d="M744.4,650.8 Q742.6,634.6 736.6,625.3" fill="none" stroke="#eec77a" stroke-width="4.6" stroke-linecap="round"/>
<path d="M744.4,650.8 Q742.4,632.5 746.0,620.5" fill="none" stroke="#eec77a" stroke-width="4.6" stroke-linecap="round"/>
<path d="M744.4,650.8 Q753.2,637.1 754.4,626.1" fill="none" stroke="#eec77a" stroke-width="4.6" stroke-linecap="round"/>
<path d="M744.4,650.8 Q754.1,634.6 764.3,627.1" fill="none" stroke="#eec77a" stroke-width="4.6" stroke-linecap="round"/>
<path d="M744.4,650.8 Q759.1,645.2 766.2,637.2" fill="none" stroke="#eec77a" stroke-width="4.6" stroke-linecap="round"/>
<path d="M744.4,650.8 Q758.6,645.0 769.0,646.0" fill="none" stroke="#eec77a" stroke-width="4.6" stroke-linecap="round"/>
<path d="M744.4,650.8 Q761.1,654.2 772.4,651.5" fill="none" stroke="#eec77a" stroke-width="4.6" stroke-linecap="round"/>
<path d="M744.4,650.8 Q758.1,662.4 763.4,673.4" fill="none" stroke="#eec77a" stroke-width="4.6" stroke-linecap="round"/>
<path d="M744.4,650.8 Q749.0,666.4 756.5,674.6" fill="none" stroke="#eec77a" stroke-width="4.6" stroke-linecap="round"/>
<path d="M744.4,650.8 Q747.4,668.6 744.4,680.4" fill="none" stroke="#eec77a" stroke-width="4.6" stroke-linecap="round"/>
<path d="M744.4,650.8 Q732.0,667.0 728.1,680.3" fill="none" stroke="#eec77a" stroke-width="4.6" stroke-linecap="round"/>
<path d="M744.4,650.8 Q728.4,662.3 715.4,665.6" fill="none" stroke="#eec77a" stroke-width="4.6" stroke-linecap="round"/>
<path d="M744.4,650.8 Q729.2,647.8 719.0,650.8" fill="none" stroke="#eec77a" stroke-width="4.6" stroke-linecap="round"/>
<path d="M744.4,650.8 Q729.2,649.5 720.4,643.9" fill="none" stroke="#eec77a" stroke-width="4.6" stroke-linecap="round"/>
<path d="M744.4,650.8 Q729.2,638.8 722.6,627.5" fill="none" stroke="#f7da9c" stroke-width="3.2" stroke-linecap="round"/>
<path d="M744.4,650.8 Q742.6,634.6 736.6,625.3" fill="none" stroke="#f7da9c" stroke-width="3.2" stroke-linecap="round"/>
<path d="M744.4,650.8 Q742.4,632.5 746.0,620.5" fill="none" stroke="#f7da9c" stroke-width="3.2" stroke-linecap="round"/>
<path d="M744.4,650.8 Q753.2,637.1 754.4,626.1" fill="none" stroke="#f7da9c" stroke-width="3.2" stroke-linecap="round"/>
<path d="M744.4,650.8 Q754.1,634.6 764.3,627.1" fill="none" stroke="#f7da9c" stroke-width="3.2" stroke-linecap="round"/>
<path d="M744.4,650.8 Q759.1,645.2 766.2,637.2" fill="none" stroke="#f7da9c" stroke-width="3.2" stroke-linecap="round"/>
<path d="M744.4,650.8 Q758.6,645.0 769.0,646.0" fill="none" stroke="#f7da9c" stroke-width="3.2" stroke-linecap="round"/>
<path d="M744.4,650.8 Q761.1,654.2 772.4,651.5" fill="none" stroke="#f7da9c" stroke-width="3.2" stroke-linecap="round"/>
<path d="M744.4,650.8 Q758.1,662.4 763.4,673.4" fill="none" stroke="#f7da9c" stroke-width="3.2" stroke-linecap="round"/>
<path d="M744.4,650.8 Q749.0,666.4 756.5,674.6" fill="none" stroke="#f7da9c" stroke-width="3.2" stroke-linecap="round"/>
<path d="M744.4,650.8 Q747.4,668.6 744.4,680.4" fill="none" stroke="#f7da9c" stroke-width="3.2" stroke-linecap="round"/>
<path d="M744.4,650.8 Q732.0,667.0 728.1,680.3" fill="none" stroke="#f7da9c" stroke-width="3.2" stroke-linecap="round"/>
<path d="M744.4,650.8 Q728.4,662.3 715.4,665.6" fill="none" stroke="#f7da9c" stroke-width="3.2" stroke-linecap="round"/>
<path d="M744.4,650.8 Q729.2,647.8 719.0,650.8" fill="none" stroke="#f7da9c" stroke-width="3.2" stroke-linecap="round"/>
<path d="M744.4,650.8 Q729.2,649.5 720.4,643.9" fill="none" stroke="#f7da9c" stroke-width="3.2" stroke-linecap="round"/>
<circle cx="744.4" cy="650.8" r="17.6" fill="#f7da9c"/><circle cx="744.6999999999999" cy="651.1999999999999" r="8.1" fill="#d9a630"/>
<text x="0.0" y="891.5" font-size="26.6">* 8 SE neonates and paired mothers, and 5 additional NSE neonates tested</text>
<g shape-rendering="crispEdges">
<rect x="231.40" y="1154.10" width="46.94" height="29.23" fill="#3f2a75"/>
<rect x="277.74" y="1154.10" width="46.94" height="29.23" fill="#050414"/>
<rect x="324.08" y="1154.10" width="46.94" height="29.23" fill="#040310"/>
<rect x="370.43" y="1154.10" width="46.94" height="29.23" fill="#0b0430"/>
<rect x="416.77" y="1154.10" width="46.94" height="29.23" fill="#1a1040"/>
<rect x="463.11" y="1154.10" width="46.94" height="29.23" fill="#9b3a88"/>
<rect x="509.45" y="1154.10" width="46.94" height="29.23" fill="#56297e"/>
<rect x="555.79" y="1154.10" width="46.94" height="29.23" fill="#03031a"/>
<rect x="602.13" y="1154.10" width="46.94" height="29.23" fill="#03031c"/>
<rect x="648.48" y="1154.10" width="46.94" height="29.23" fill="#000000"/>
<rect x="694.82" y="1154.10" width="46.94" height="29.23" fill="#000000"/>
<rect x="741.16" y="1154.10" width="46.94" height="29.23" fill="#322868"/>
<rect x="231.40" y="1182.73" width="46.94" height="29.23" fill="#f5986b"/>
<rect x="277.74" y="1182.73" width="46.94" height="29.23" fill="#b33f7c"/>
<rect x="324.08" y="1182.73" width="46.94" height="29.23" fill="#bb417e"/>
<rect x="370.43" y="1182.73" width="46.94" height="29.23" fill="#512a7e"/>
<rect x="416.77" y="1182.73" width="46.94" height="29.23" fill="#462c7a"/>
<rect x="463.11" y="1182.73" width="46.94" height="29.23" fill="#3d2b72"/>
<rect x="509.45" y="1182.73" width="46.94" height="29.23" fill="#b03e7e"/>
<rect x="555.79" y="1182.73" width="46.94" height="29.23" fill="#72268a"/>
<rect x="602.13" y="1182.73" width="46.94" height="29.23" fill="#5a2a84"/>
<rect x="648.48" y="1182.73" width="46.94" height="29.23" fill="#000000"/>
<rect x="694.82" y="1182.73" width="46.94" height="29.23" fill="#000000"/>
<rect x="741.16" y="1182.73" width="46.94" height="29.23" fill="#050410"/>
<rect x="231.40" y="1211.36" width="46.94" height="29.23" fill="#000000"/>
<rect x="277.74" y="1211.36" width="46.94" height="29.23" fill="#050410"/>
<rect x="324.08" y="1211.36" width="46.94" height="29.23" fill="#040622"/>
<rect x="370.43" y="1211.36" width="46.94" height="29.23" fill="#03041a"/>
<rect x="416.77" y="1211.36" width="46.94" height="29.23" fill="#050228"/>
<rect x="463.11" y="1211.36" width="46.94" height="29.23" fill="#692a88"/>
<rect x="509.45" y="1211.36" width="46.94" height="29.23" fill="#000000"/>
<rect x="555.79" y="1211.36" width="46.94" height="29.23" fill="#040410"/>
<rect x="602.13" y="1211.36" width="46.94" height="29.23" fill="#03031e"/>
<rect x="648.48" y="1211.36" width="46.94" height="29.23" fill="#000000"/>
<rect x="694.82" y="1211.36" width="46.94" height="29.23" fill="#000000"/>
<rect x="741.16" y="1211.36" width="46.94" height="29.23" fill="#120a34"/>
<rect x="231.40" y="1239.98" width="46.94" height="29.23" fill="#03031a"/>
<rect x="277.74" y="1239.98" width="46.94" height="29.23" fill="#03031c"/>
<rect x="324.08" y="1239.98" width="46.94" height="29.23" fill="#030318"/>
<rect x="370.43" y="1239.98" width="46.94" height="29.23" fill="#f7a878"/>
<rect x="416.77" y="1239.98" width="46.94" height="29.23" fill="#f8e5a6"/>
<rect x="463.11" y="1239.98" width="46.94" height="29.23" fill="#7a2a8a"/>
<rect x="509.45" y="1239.98" width="46.94" height="29.23" fill="#3e2a72"/>
<rect x="555.79" y="1239.98" width="46.94" height="29.23" fill="#2a2260"/>
<rect x="602.13" y="1239.98" width="46.94" height="29.23" fill="#221c50"/>
<rect x="648.48" y="1239.98" width="46.94" height="29.23" fill="#000000"/>
<rect x="694.82" y="1239.98" width="46.94" height="29.23" fill="#000000"/>
<rect x="741.16" y="1239.98" width="46.94" height="29.23" fill="#120a32"/>
<rect x="231.40" y="1268.61" width="46.94" height="29.23" fill="#f8ae7e"/>
<rect x="277.74" y="1268.61" width="46.94" height="29.23" fill="#f6986e"/>
<rect x="324.08" y="1268.61" width="46.94" height="29.23" fill="#f6ecb0"/>
<rect x="370.43" y="1268.61" width="46.94" height="29.23" fill="#4e2a80"/>
<rect x="416.77" y="1268.61" width="46.94" height="29.23" fill="#37296e"/>
<rect x="463.11" y="1268.61" width="46.94" height="29.23" fill="#c3437a"/>
<rect x="509.45" y="1268.61" width="46.94" height="29.23" fill="#f6a272"/>
<rect x="555.79" y="1268.61" width="46.94" height="29.23" fill="#f47e64"/>
<rect x="602.13" y="1268.61" width="46.94" height="29.23" fill="#f8e6a6"/>
<rect x="648.48" y="1268.61" width="46.94" height="29.23" fill="#000000"/>
<rect x="694.82" y="1268.61" width="46.94" height="29.23" fill="#000000"/>
<rect x="741.16" y="1268.61" width="46.94" height="29.23" fill="#05040e"/>
<rect x="231.40" y="1297.24" width="46.94" height="29.23" fill="#2a2460"/>
<rect x="277.74" y="1297.24" width="46.94" height="29.23" fill="#0d0630"/>
<rect x="324.08" y="1297.24" width="46.94" height="29.23" fill="#3e2a72"/>
<rect x="370.43" y="1297.24" width="46.94" height="29.23" fill="#96388a"/>
<rect x="416.77" y="1297.24" width="46.94" height="29.23" fill="#c84877"/>
<rect x="463.11" y="1297.24" width="46.94" height="29.23" fill="#73288a"/>
<rect x="509.45" y="1297.24" width="46.94" height="29.23" fill="#4c2a7a"/>
<rect x="555.79" y="1297.24" width="46.94" height="29.23" fill="#1a1240"/>
<rect x="602.13" y="1297.24" width="46.94" height="29.23" fill="#4e2a7e"/>
<rect x="648.48" y="1297.24" width="46.94" height="29.23" fill="#04030e"/>
<rect x="694.82" y="1297.24" width="46.94" height="29.23" fill="#030318"/>
<rect x="741.16" y="1297.24" width="46.94" height="29.23" fill="#1a1240"/>
<rect x="231.40" y="1325.87" width="46.94" height="29.23" fill="#852e8a"/>
<rect x="277.74" y="1325.87" width="46.94" height="29.23" fill="#562a80"/>
<rect x="324.08" y="1325.87" width="46.94" height="29.23" fill="#f9d498"/>
<rect x="370.43" y="1325.87" width="46.94" height="29.23" fill="#2c2460"/>
<rect x="416.77" y="1325.87" width="46.94" height="29.23" fill="#0a0330"/>
<rect x="463.11" y="1325.87" width="46.94" height="29.23" fill="#2e2662"/>
<rect x="509.45" y="1325.87" width="46.94" height="29.23" fill="#a23c84"/>
<rect x="555.79" y="1325.87" width="46.94" height="29.23" fill="#6a288a"/>
<rect x="602.13" y="1325.87" width="46.94" height="29.23" fill="#f6eaaa"/>
<rect x="648.48" y="1325.87" width="46.94" height="29.23" fill="#000000"/>
<rect x="694.82" y="1325.87" width="46.94" height="29.23" fill="#000000"/>
<rect x="741.16" y="1325.87" width="46.94" height="29.23" fill="#04030e"/>
<rect x="231.40" y="1354.49" width="46.94" height="29.23" fill="#cf4874"/>
<rect x="277.74" y="1354.49" width="46.94" height="29.23" fill="#90318a"/>
<rect x="324.08" y="1354.49" width="46.94" height="29.23" fill="#8a308a"/>
<rect x="370.43" y="1354.49" width="46.94" height="29.23" fill="#96368a"/>
<rect x="416.77" y="1354.49" width="46.94" height="29.23" fill="#ef5d68"/>
<rect x="463.11" y="1354.49" width="46.94" height="29.23" fill="#ab3d80"/>
<rect x="509.45" y="1354.49" width="46.94" height="29.23" fill="#c0437a"/>
<rect x="555.79" y="1354.49" width="46.94" height="29.23" fill="#90348a"/>
<rect x="602.13" y="1354.49" width="46.94" height="29.23" fill="#642a8a"/>
<rect x="648.48" y="1354.49" width="46.94" height="29.23" fill="#030318"/>
<rect x="694.82" y="1354.49" width="46.94" height="29.23" fill="#030322"/>
<rect x="741.16" y="1354.49" width="46.94" height="29.23" fill="#3e2a72"/>
<rect x="231.40" y="1383.12" width="46.94" height="29.23" fill="#7c2a8c"/>
<rect x="277.74" y="1383.12" width="46.94" height="29.23" fill="#262060"/>
<rect x="324.08" y="1383.12" width="46.94" height="29.23" fill="#a23c82"/>
<rect x="370.43" y="1383.12" width="46.94" height="29.23" fill="#56297e"/>
<rect x="416.77" y="1383.12" width="46.94" height="29.23" fill="#37286e"/>
<rect x="463.11" y="1383.12" width="46.94" height="29.23" fill="#37286e"/>
<rect x="509.45" y="1383.12" width="46.94" height="29.23" fill="#0a0228"/>
<rect x="555.79" y="1383.12" width="46.94" height="29.23" fill="#000000"/>
<rect x="602.13" y="1383.12" width="46.94" height="29.23" fill="#3e2a72"/>
<rect x="648.48" y="1383.12" width="46.94" height="29.23" fill="#000000"/>
<rect x="694.82" y="1383.12" width="46.94" height="29.23" fill="#000000"/>
<rect x="741.16" y="1383.12" width="46.94" height="29.23" fill="#0a0230"/>
<rect x="231.40" y="1411.75" width="46.94" height="29.23" fill="#ee5d6a"/>
<rect x="277.74" y="1411.75" width="46.94" height="29.23" fill="#b03e7e"/>
<rect x="324.08" y="1411.75" width="46.94" height="29.23" fill="#aa3c80"/>
<rect x="370.43" y="1411.75" width="46.94" height="29.23" fill="#b03e7e"/>
<rect x="416.77" y="1411.75" width="46.94" height="29.23" fill="#ab3c80"/>
<rect x="463.11" y="1411.75" width="46.94" height="29.23" fill="#bb417c"/>
<rect x="509.45" y="1411.75" width="46.94" height="29.23" fill="#ea5c68"/>
<rect x="555.79" y="1411.75" width="46.94" height="29.23" fill="#90348a"/>
<rect x="602.13" y="1411.75" width="46.94" height="29.23" fill="#a23c84"/>
<rect x="648.48" y="1411.75" width="46.94" height="29.23" fill="#030320"/>
<rect x="694.82" y="1411.75" width="46.94" height="29.23" fill="#04030e"/>
<rect x="741.16" y="1411.75" width="46.94" height="29.23" fill="#4e2a7e"/>
<rect x="231.40" y="1440.38" width="46.94" height="29.23" fill="#3d2a72"/>
<rect x="277.74" y="1440.38" width="46.94" height="29.23" fill="#0d0632"/>
<rect x="324.08" y="1440.38" width="46.94" height="29.23" fill="#5a2a84"/>
<rect x="370.43" y="1440.38" width="46.94" height="29.23" fill="#662a88"/>
<rect x="416.77" y="1440.38" width="46.94" height="29.23" fill="#312666"/>
<rect x="463.11" y="1440.38" width="46.94" height="29.23" fill="#642a88"/>
<rect x="509.45" y="1440.38" width="46.94" height="29.23" fill="#0e0632"/>
<rect x="555.79" y="1440.38" width="46.94" height="29.23" fill="#03020e"/>
<rect x="602.13" y="1440.38" width="46.94" height="29.23" fill="#2e2464"/>
<rect x="648.48" y="1440.38" width="46.94" height="29.23" fill="#030320"/>
<rect x="694.82" y="1440.38" width="46.94" height="29.23" fill="#000000"/>
<rect x="741.16" y="1440.38" width="46.94" height="29.23" fill="#1a1242"/>
<rect x="231.40" y="1469.00" width="46.94" height="29.23" fill="#f26468"/>
<rect x="277.74" y="1469.00" width="46.94" height="29.23" fill="#bb417c"/>
<rect x="324.08" y="1469.00" width="46.94" height="29.23" fill="#832e8a"/>
<rect x="370.43" y="1469.00" width="46.94" height="29.23" fill="#92348a"/>
<rect x="416.77" y="1469.00" width="46.94" height="29.23" fill="#98388a"/>
<rect x="463.11" y="1469.00" width="46.94" height="29.23" fill="#7b2a8a"/>
<rect x="509.45" y="1469.00" width="46.94" height="29.23" fill="#f48064"/>
<rect x="555.79" y="1469.00" width="46.94" height="29.23" fill="#ee5c6a"/>
<rect x="602.13" y="1469.00" width="46.94" height="29.23" fill="#9a3888"/>
<rect x="648.48" y="1469.00" width="46.94" height="29.23" fill="#000000"/>
<rect x="694.82" y="1469.00" width="46.94" height="29.23" fill="#000000"/>
<rect x="741.16" y="1469.00" width="46.94" height="29.23" fill="#120a34"/>
<rect x="231.40" y="1497.63" width="46.94" height="29.23" fill="#b53f7c"/>
<rect x="277.74" y="1497.63" width="46.94" height="29.23" fill="#6c288a"/>
<rect x="324.08" y="1497.63" width="46.94" height="29.23" fill="#96388a"/>
<rect x="370.43" y="1497.63" width="46.94" height="29.23" fill="#76288c"/>
<rect x="416.77" y="1497.63" width="46.94" height="29.23" fill="#c0437a"/>
<rect x="463.11" y="1497.63" width="46.94" height="29.23" fill="#862e8a"/>
<rect x="509.45" y="1497.63" width="46.94" height="29.23" fill="#a23c82"/>
<rect x="555.79" y="1497.63" width="46.94" height="29.23" fill="#9a3888"/>
<rect x="602.13" y="1497.63" width="46.94" height="29.23" fill="#b03e7e"/>
<rect x="648.48" y="1497.63" width="46.94" height="29.23" fill="#000000"/>
<rect x="694.82" y="1497.63" width="46.94" height="29.23" fill="#04030e"/>
<rect x="741.16" y="1497.63" width="46.94" height="29.23" fill="#262058"/>
<rect x="231.40" y="1526.26" width="46.94" height="29.23" fill="#000000"/>
<rect x="277.74" y="1526.26" width="46.94" height="29.23" fill="#000000"/>
<rect x="324.08" y="1526.26" width="46.94" height="29.23" fill="#000000"/>
<rect x="370.43" y="1526.26" width="46.94" height="29.23" fill="#2c2460"/>
<rect x="416.77" y="1526.26" width="46.94" height="29.23" fill="#2e2464"/>
<rect x="463.11" y="1526.26" width="46.94" height="29.23" fill="#5a2a82"/>
<rect x="509.45" y="1526.26" width="46.94" height="29.23" fill="#000000"/>
<rect x="555.79" y="1526.26" width="46.94" height="29.23" fill="#000000"/>
<rect x="602.13" y="1526.26" width="46.94" height="29.23" fill="#000000"/>
<rect x="648.48" y="1526.26" width="46.94" height="29.23" fill="#04030c"/>
<rect x="694.82" y="1526.26" width="46.94" height="29.23" fill="#04030c"/>
<rect x="741.16" y="1526.26" width="46.94" height="29.23" fill="#221c50"/>
<rect x="231.40" y="1554.89" width="46.94" height="29.23" fill="#4a2a7a"/>
<rect x="277.74" y="1554.89" width="46.94" height="29.23" fill="#3a2a70"/>
<rect x="324.08" y="1554.89" width="46.94" height="29.23" fill="#8a2e8c"/>
<rect x="370.43" y="1554.89" width="46.94" height="29.23" fill="#1a1242"/>
<rect x="416.77" y="1554.89" width="46.94" height="29.23" fill="#241e58"/>
<rect x="463.11" y="1554.89" width="46.94" height="29.23" fill="#6a2a88"/>
<rect x="509.45" y="1554.89" width="46.94" height="29.23" fill="#1a1242"/>
<rect x="555.79" y="1554.89" width="46.94" height="29.23" fill="#03031a"/>
<rect x="602.13" y="1554.89" width="46.94" height="29.23" fill="#322868"/>
<rect x="648.48" y="1554.89" width="46.94" height="29.23" fill="#000000"/>
<rect x="694.82" y="1554.89" width="46.94" height="29.23" fill="#000000"/>
<rect x="741.16" y="1554.89" width="46.94" height="29.23" fill="#050414"/>
<rect x="231.40" y="1583.51" width="46.94" height="29.23" fill="#f05c66"/>
<rect x="277.74" y="1583.51" width="46.94" height="29.23" fill="#b03e7e"/>
<rect x="324.08" y="1583.51" width="46.94" height="29.23" fill="#bb417e"/>
<rect x="370.43" y="1583.51" width="46.94" height="29.23" fill="#ab3c80"/>
<rect x="416.77" y="1583.51" width="46.94" height="29.23" fill="#9e3888"/>
<rect x="463.11" y="1583.51" width="46.94" height="29.23" fill="#96348a"/>
<rect x="509.45" y="1583.51" width="46.94" height="29.23" fill="#e85a68"/>
<rect x="555.79" y="1583.51" width="46.94" height="29.23" fill="#a63c84"/>
<rect x="602.13" y="1583.51" width="46.94" height="29.23" fill="#a63c84"/>
<rect x="648.48" y="1583.51" width="46.94" height="29.23" fill="#03030e"/>
<rect x="694.82" y="1583.51" width="46.94" height="29.23" fill="#04030c"/>
<rect x="741.16" y="1583.51" width="46.94" height="29.23" fill="#1e1848"/>
<rect x="231.40" y="1612.14" width="46.94" height="29.23" fill="#5e2684"/>
<rect x="277.74" y="1612.14" width="46.94" height="29.23" fill="#482a7a"/>
<rect x="324.08" y="1612.14" width="46.94" height="29.23" fill="#4a2a7a"/>
<rect x="370.43" y="1612.14" width="46.94" height="29.23" fill="#231e56"/>
<rect x="416.77" y="1612.14" width="46.94" height="29.23" fill="#1e1848"/>
<rect x="463.11" y="1612.14" width="46.94" height="29.23" fill="#3e2a72"/>
<rect x="509.45" y="1612.14" width="46.94" height="29.23" fill="#03031a"/>
<rect x="555.79" y="1612.14" width="46.94" height="29.23" fill="#04030c"/>
<rect x="602.13" y="1612.14" width="46.94" height="29.23" fill="#000000"/>
<rect x="648.48" y="1612.14" width="46.94" height="29.23" fill="#04030c"/>
<rect x="694.82" y="1612.14" width="46.94" height="29.23" fill="#000000"/>
<rect x="741.16" y="1612.14" width="46.94" height="29.23" fill="#000000"/>
<rect x="231.40" y="1640.77" width="46.94" height="29.23" fill="#42297a"/>
<rect x="277.74" y="1640.77" width="46.94" height="29.23" fill="#3a2870"/>
<rect x="324.08" y="1640.77" width="46.94" height="29.23" fill="#f47e64"/>
<rect x="370.43" y="1640.77" width="46.94" height="29.23" fill="#1e1a4e"/>
<rect x="416.77" y="1640.77" width="46.94" height="29.23" fill="#1e1a4c"/>
<rect x="463.11" y="1640.77" width="46.94" height="29.23" fill="#9e3888"/>
<rect x="509.45" y="1640.77" width="46.94" height="29.23" fill="#000000"/>
<rect x="555.79" y="1640.77" width="46.94" height="29.23" fill="#000000"/>
<rect x="602.13" y="1640.77" width="46.94" height="29.23" fill="#7f2a8c"/>
<rect x="648.48" y="1640.77" width="46.94" height="29.23" fill="#000000"/>
<rect x="694.82" y="1640.77" width="46.94" height="29.23" fill="#000000"/>
<rect x="741.16" y="1640.77" width="46.94" height="29.23" fill="#03031c"/>
<rect x="231.40" y="1669.40" width="46.94" height="29.23" fill="#9e3888"/>
<rect x="277.74" y="1669.40" width="46.94" height="29.23" fill="#d44c70"/>
<rect x="324.08" y="1669.40" width="46.94" height="29.23" fill="#f48a68"/>
<rect x="370.43" y="1669.40" width="46.94" height="29.23" fill="#1e1a4e"/>
<rect x="416.77" y="1669.40" width="46.94" height="29.23" fill="#242058"/>
<rect x="463.11" y="1669.40" width="46.94" height="29.23" fill="#8c308a"/>
<rect x="509.45" y="1669.40" width="46.94" height="29.23" fill="#231e56"/>
<rect x="555.79" y="1669.40" width="46.94" height="29.23" fill="#1e1848"/>
<rect x="602.13" y="1669.40" width="46.94" height="29.23" fill="#342868"/>
<rect x="648.48" y="1669.40" width="46.94" height="29.23" fill="#03031a"/>
<rect x="694.82" y="1669.40" width="46.94" height="29.23" fill="#000000"/>
<rect x="741.16" y="1669.40" width="46.94" height="29.23" fill="#03031c"/>
<rect x="231.40" y="1698.02" width="46.94" height="29.23" fill="#b03e7e"/>
<rect x="277.74" y="1698.02" width="46.94" height="29.23" fill="#963888"/>
<rect x="324.08" y="1698.02" width="46.94" height="29.23" fill="#b53f7c"/>
<rect x="370.43" y="1698.02" width="46.94" height="29.23" fill="#9a3888"/>
<rect x="416.77" y="1698.02" width="46.94" height="29.23" fill="#9a3888"/>
<rect x="463.11" y="1698.02" width="46.94" height="29.23" fill="#963888"/>
<rect x="509.45" y="1698.02" width="46.94" height="29.23" fill="#ab3c80"/>
<rect x="555.79" y="1698.02" width="46.94" height="29.23" fill="#a63c84"/>
<rect x="602.13" y="1698.02" width="46.94" height="29.23" fill="#bb417e"/>
<rect x="648.48" y="1698.02" width="46.94" height="29.23" fill="#04030e"/>
<rect x="694.82" y="1698.02" width="46.94" height="29.23" fill="#000000"/>
<rect x="741.16" y="1698.02" width="46.94" height="29.23" fill="#4e2a7e"/>
<rect x="231.40" y="1726.65" width="46.94" height="29.23" fill="#000000"/>
<rect x="277.74" y="1726.65" width="46.94" height="29.23" fill="#000000"/>
<rect x="324.08" y="1726.65" width="46.94" height="29.23" fill="#000000"/>
<rect x="370.43" y="1726.65" width="46.94" height="29.23" fill="#1a1242"/>
<rect x="416.77" y="1726.65" width="46.94" height="29.23" fill="#0a0228"/>
<rect x="463.11" y="1726.65" width="46.94" height="29.23" fill="#6c288a"/>
<rect x="509.45" y="1726.65" width="46.94" height="29.23" fill="#04030e"/>
<rect x="555.79" y="1726.65" width="46.94" height="29.23" fill="#000000"/>
<rect x="602.13" y="1726.65" width="46.94" height="29.23" fill="#04030c"/>
<rect x="648.48" y="1726.65" width="46.94" height="29.23" fill="#04031a"/>
<rect x="694.82" y="1726.65" width="46.94" height="29.23" fill="#000000"/>
<rect x="741.16" y="1726.65" width="46.94" height="29.23" fill="#0a0230"/>
<rect x="231.40" y="1755.28" width="46.94" height="29.23" fill="#03030e"/>
<rect x="277.74" y="1755.28" width="46.94" height="29.23" fill="#000000"/>
<rect x="324.08" y="1755.28" width="46.94" height="29.23" fill="#3e2a72"/>
<rect x="370.43" y="1755.28" width="46.94" height="29.23" fill="#1a1242"/>
<rect x="416.77" y="1755.28" width="46.94" height="29.23" fill="#231e56"/>
<rect x="463.11" y="1755.28" width="46.94" height="29.23" fill="#8c308a"/>
<rect x="509.45" y="1755.28" width="46.94" height="29.23" fill="#03031c"/>
<rect x="555.79" y="1755.28" width="46.94" height="29.23" fill="#000000"/>
<rect x="602.13" y="1755.28" width="46.94" height="29.23" fill="#03031a"/>
<rect x="648.48" y="1755.28" width="46.94" height="29.23" fill="#060228"/>
<rect x="694.82" y="1755.28" width="46.94" height="29.23" fill="#000000"/>
<rect x="741.16" y="1755.28" width="46.94" height="29.23" fill="#1e1848"/>
<rect x="231.40" y="1783.91" width="46.94" height="29.23" fill="#7a2a8c"/>
<rect x="277.74" y="1783.91" width="46.94" height="29.23" fill="#a23c84"/>
<rect x="324.08" y="1783.91" width="46.94" height="29.23" fill="#37286e"/>
<rect x="370.43" y="1783.91" width="46.94" height="29.23" fill="#231e56"/>
<rect x="416.77" y="1783.91" width="46.94" height="29.23" fill="#221c52"/>
<rect x="463.11" y="1783.91" width="46.94" height="29.23" fill="#4e2a7e"/>
<rect x="509.45" y="1783.91" width="46.94" height="29.23" fill="#1a1242"/>
<rect x="555.79" y="1783.91" width="46.94" height="29.23" fill="#221c52"/>
<rect x="602.13" y="1783.91" width="46.94" height="29.23" fill="#04030c"/>
<rect x="648.48" y="1783.91" width="46.94" height="29.23" fill="#000000"/>
<rect x="694.82" y="1783.91" width="46.94" height="29.23" fill="#000000"/>
<rect x="741.16" y="1783.91" width="46.94" height="29.23" fill="#04030e"/>
<rect x="231.40" y="1812.53" width="46.94" height="29.23" fill="#03031a"/>
<rect x="277.74" y="1812.53" width="46.94" height="29.23" fill="#03030e"/>
<rect x="324.08" y="1812.53" width="46.94" height="29.23" fill="#100838"/>
<rect x="370.43" y="1812.53" width="46.94" height="29.23" fill="#262058"/>
<rect x="416.77" y="1812.53" width="46.94" height="29.23" fill="#03031e"/>
<rect x="463.11" y="1812.53" width="46.94" height="29.23" fill="#2a2260"/>
<rect x="509.45" y="1812.53" width="46.94" height="29.23" fill="#000000"/>
<rect x="555.79" y="1812.53" width="46.94" height="29.23" fill="#04030c"/>
<rect x="602.13" y="1812.53" width="46.94" height="29.23" fill="#03031c"/>
<rect x="648.48" y="1812.53" width="46.94" height="29.23" fill="#000000"/>
<rect x="694.82" y="1812.53" width="46.94" height="29.23" fill="#000000"/>
<rect x="741.16" y="1812.53" width="46.94" height="29.23" fill="#04030c"/>
<rect x="231.40" y="1841.16" width="46.94" height="29.23" fill="#03031a"/>
<rect x="277.74" y="1841.16" width="46.94" height="29.23" fill="#03030e"/>
<rect x="324.08" y="1841.16" width="46.94" height="29.23" fill="#100838"/>
<rect x="370.43" y="1841.16" width="46.94" height="29.23" fill="#262058"/>
<rect x="416.77" y="1841.16" width="46.94" height="29.23" fill="#03031e"/>
<rect x="463.11" y="1841.16" width="46.94" height="29.23" fill="#2a2260"/>
<rect x="509.45" y="1841.16" width="46.94" height="29.23" fill="#000000"/>
<rect x="555.79" y="1841.16" width="46.94" height="29.23" fill="#000000"/>
<rect x="602.13" y="1841.16" width="46.94" height="29.23" fill="#030228"/>
<rect x="648.48" y="1841.16" width="46.94" height="29.23" fill="#000000"/>
<rect x="694.82" y="1841.16" width="46.94" height="29.23" fill="#000000"/>
<rect x="741.16" y="1841.16" width="46.94" height="29.23" fill="#000000"/>
<rect x="231.40" y="1869.79" width="46.94" height="29.23" fill="#f47a62"/>
<rect x="277.74" y="1869.79" width="46.94" height="29.23" fill="#582a82"/>
<rect x="324.08" y="1869.79" width="46.94" height="29.23" fill="#f27064"/>
<rect x="370.43" y="1869.79" width="46.94" height="29.23" fill="#8c308a"/>
<rect x="416.77" y="1869.79" width="46.94" height="29.23" fill="#963888"/>
<rect x="463.11" y="1869.79" width="46.94" height="29.23" fill="#7c2a8c"/>
<rect x="509.45" y="1869.79" width="46.94" height="29.23" fill="#96348a"/>
<rect x="555.79" y="1869.79" width="46.94" height="29.23" fill="#1a1242"/>
<rect x="602.13" y="1869.79" width="46.94" height="29.23" fill="#bb417e"/>
<rect x="648.48" y="1869.79" width="46.94" height="29.23" fill="#000000"/>
<rect x="694.82" y="1869.79" width="46.94" height="29.23" fill="#000000"/>
<rect x="741.16" y="1869.79" width="46.94" height="29.23" fill="#03031a"/>
<rect x="231.40" y="1898.42" width="46.94" height="29.23" fill="#7f2a8c"/>
<rect x="277.74" y="1898.42" width="46.94" height="29.23" fill="#6e268a"/>
<rect x="324.08" y="1898.42" width="46.94" height="29.23" fill="#a23c82"/>
<rect x="370.43" y="1898.42" width="46.94" height="29.23" fill="#f7f2bc"/>
<rect x="416.77" y="1898.42" width="46.94" height="29.23" fill="#fbdc9c"/>
<rect x="463.11" y="1898.42" width="46.94" height="29.23" fill="#f8ae7a"/>
<rect x="509.45" y="1898.42" width="46.94" height="29.23" fill="#662a88"/>
<rect x="555.79" y="1898.42" width="46.94" height="29.23" fill="#56297e"/>
<rect x="602.13" y="1898.42" width="46.94" height="29.23" fill="#8a308a"/>
<rect x="648.48" y="1898.42" width="46.94" height="29.23" fill="#000000"/>
<rect x="694.82" y="1898.42" width="46.94" height="29.23" fill="#000000"/>
<rect x="741.16" y="1898.42" width="46.94" height="29.23" fill="#221c52"/>
<rect x="231.40" y="1927.04" width="46.94" height="29.23" fill="#07040f"/>
<rect x="277.74" y="1927.04" width="46.94" height="29.23" fill="#000000"/>
<rect x="324.08" y="1927.04" width="46.94" height="29.23" fill="#04030e"/>
<rect x="370.43" y="1927.04" width="46.94" height="29.23" fill="#1e1848"/>
<rect x="416.77" y="1927.04" width="46.94" height="29.23" fill="#1e1448"/>
<rect x="463.11" y="1927.04" width="46.94" height="29.23" fill="#8c308a"/>
<rect x="509.45" y="1927.04" width="46.94" height="29.23" fill="#000000"/>
<rect x="555.79" y="1927.04" width="46.94" height="29.23" fill="#000000"/>
<rect x="602.13" y="1927.04" width="46.94" height="29.23" fill="#000000"/>
<rect x="648.48" y="1927.04" width="46.94" height="29.23" fill="#000000"/>
<rect x="694.82" y="1927.04" width="46.94" height="29.23" fill="#000000"/>
<rect x="741.16" y="1927.04" width="46.94" height="29.23" fill="#221c52"/>
<rect x="231.40" y="1955.67" width="46.94" height="29.23" fill="#42297a"/>
<rect x="277.74" y="1955.67" width="46.94" height="29.23" fill="#040420"/>
<rect x="324.08" y="1955.67" width="46.94" height="29.23" fill="#000000"/>
<rect x="370.43" y="1955.67" width="46.94" height="29.23" fill="#1e1848"/>
<rect x="416.77" y="1955.67" width="46.94" height="29.23" fill="#030320"/>
<rect x="463.11" y="1955.67" width="46.94" height="29.23" fill="#4a2a7a"/>
<rect x="509.45" y="1955.67" width="46.94" height="29.23" fill="#1e1848"/>
<rect x="555.79" y="1955.67" width="46.94" height="29.23" fill="#100838"/>
<rect x="602.13" y="1955.67" width="46.94" height="29.23" fill="#482a7a"/>
<rect x="648.48" y="1955.67" width="46.94" height="29.23" fill="#000000"/>
<rect x="694.82" y="1955.67" width="46.94" height="29.23" fill="#000000"/>
<rect x="741.16" y="1955.67" width="46.94" height="29.23" fill="#120a34"/>
</g>
<rect x="506.9" y="1154.1" width="5.2" height="830.2" fill="#fff"/>
<rect x="231.4" y="1154.1" width="556.1" height="830.2" fill="none" stroke="#555" stroke-width="1"/>
<text x="209.6" y="1177.6" font-size="26" text-anchor="end">221</text>
<line x1="222" y1="1168.4" x2="231.4" y2="1168.4" stroke="#444" stroke-width="1.2"/>
<text x="209.6" y="1206.2" font-size="26" text-anchor="end">196</text>
<line x1="222" y1="1197.0" x2="231.4" y2="1197.0" stroke="#444" stroke-width="1.2"/>
<text x="209.6" y="1234.9" font-size="26" text-anchor="end">68</text>
<line x1="222" y1="1225.7" x2="231.4" y2="1225.7" stroke="#444" stroke-width="1.2"/>
<text x="209.6" y="1263.5" font-size="26" text-anchor="end">64</text>
<line x1="222" y1="1254.3" x2="231.4" y2="1254.3" stroke="#444" stroke-width="1.2"/>
<text x="209.6" y="1292.1" font-size="26" text-anchor="end">64</text>
<line x1="222" y1="1282.9" x2="231.4" y2="1282.9" stroke="#444" stroke-width="1.2"/>
<text x="209.6" y="1320.8" font-size="26" text-anchor="end">55</text>
<line x1="222" y1="1311.6" x2="231.4" y2="1311.6" stroke="#444" stroke-width="1.2"/>
<text x="209.6" y="1349.4" font-size="26" text-anchor="end">53</text>
<line x1="222" y1="1340.2" x2="231.4" y2="1340.2" stroke="#444" stroke-width="1.2"/>
<text x="209.6" y="1378.0" font-size="26" text-anchor="end">44</text>
<line x1="222" y1="1368.8" x2="231.4" y2="1368.8" stroke="#444" stroke-width="1.2"/>
<text x="209.6" y="1406.6" font-size="26" text-anchor="end">37</text>
<line x1="222" y1="1397.4" x2="231.4" y2="1397.4" stroke="#444" stroke-width="1.2"/>
<text x="209.6" y="1435.3" font-size="26" text-anchor="end">35</text>
<line x1="222" y1="1426.1" x2="231.4" y2="1426.1" stroke="#444" stroke-width="1.2"/>
<text x="209.6" y="1463.9" font-size="26" text-anchor="end">32</text>
<line x1="222" y1="1454.7" x2="231.4" y2="1454.7" stroke="#444" stroke-width="1.2"/>
<text x="209.6" y="1492.5" font-size="26" text-anchor="end">27</text>
<line x1="222" y1="1483.3" x2="231.4" y2="1483.3" stroke="#444" stroke-width="1.2"/>
<text x="209.6" y="1521.1" font-size="26" text-anchor="end">25</text>
<line x1="222" y1="1511.9" x2="231.4" y2="1511.9" stroke="#444" stroke-width="1.2"/>
<text x="209.6" y="1549.8" font-size="26" text-anchor="end">22</text>
<line x1="222" y1="1540.6" x2="231.4" y2="1540.6" stroke="#444" stroke-width="1.2"/>
<text x="209.6" y="1578.4" font-size="26" text-anchor="end">13</text>
<line x1="222" y1="1569.2" x2="231.4" y2="1569.2" stroke="#444" stroke-width="1.2"/>
<text x="209.6" y="1607.0" font-size="26" text-anchor="end">9</text>
<line x1="222" y1="1597.8" x2="231.4" y2="1597.8" stroke="#444" stroke-width="1.2"/>
<text x="209.6" y="1635.7" font-size="26" text-anchor="end">8</text>
<line x1="222" y1="1626.5" x2="231.4" y2="1626.5" stroke="#444" stroke-width="1.2"/>
<text x="209.6" y="1664.3" font-size="26" text-anchor="end">5</text>
<line x1="222" y1="1655.1" x2="231.4" y2="1655.1" stroke="#444" stroke-width="1.2"/>
<text x="209.6" y="1692.9" font-size="26" text-anchor="end">4</text>
<line x1="222" y1="1683.7" x2="231.4" y2="1683.7" stroke="#444" stroke-width="1.2"/>
<text x="209.6" y="1721.5" font-size="26" text-anchor="end">3</text>
<line x1="222" y1="1712.3" x2="231.4" y2="1712.3" stroke="#444" stroke-width="1.2"/>
<text x="209.6" y="1750.2" font-size="26" text-anchor="end">3</text>
<line x1="222" y1="1741.0" x2="231.4" y2="1741.0" stroke="#444" stroke-width="1.2"/>
<text x="209.6" y="1778.8" font-size="26" text-anchor="end">3</text>
<line x1="222" y1="1769.6" x2="231.4" y2="1769.6" stroke="#444" stroke-width="1.2"/>
<text x="209.6" y="1807.4" font-size="26" text-anchor="end">3</text>
<line x1="222" y1="1798.2" x2="231.4" y2="1798.2" stroke="#444" stroke-width="1.2"/>
<text x="209.6" y="1836.0" font-size="26" text-anchor="end">3</text>
<line x1="222" y1="1826.8" x2="231.4" y2="1826.8" stroke="#444" stroke-width="1.2"/>
<text x="209.6" y="1864.7" font-size="26" text-anchor="end">3</text>
<line x1="222" y1="1855.5" x2="231.4" y2="1855.5" stroke="#444" stroke-width="1.2"/>
<text x="209.6" y="1893.3" font-size="26" text-anchor="end">3</text>
<line x1="222" y1="1884.1" x2="231.4" y2="1884.1" stroke="#444" stroke-width="1.2"/>
<text x="209.6" y="1921.9" font-size="26" text-anchor="end">2</text>
<line x1="222" y1="1912.7" x2="231.4" y2="1912.7" stroke="#444" stroke-width="1.2"/>
<text x="209.6" y="1950.6" font-size="26" text-anchor="end">1</text>
<line x1="222" y1="1941.4" x2="231.4" y2="1941.4" stroke="#444" stroke-width="1.2"/>
<text x="209.6" y="1979.2" font-size="26" text-anchor="end">0</text>
<line x1="222" y1="1970.0" x2="231.4" y2="1970.0" stroke="#444" stroke-width="1.2"/>
<line x1="254.6" y1="1984.3" x2="254.6" y2="1994" stroke="#444" stroke-width="1.2"/>
<text transform="translate(264.1,2008.5) rotate(-90)" font-size="26.3" text-anchor="end">Maternal IgG S</text>
<line x1="300.9" y1="1984.3" x2="300.9" y2="1994" stroke="#444" stroke-width="1.2"/>
<text transform="translate(310.4,2008.5) rotate(-90)" font-size="26.3" text-anchor="end">Maternal IgG RBD</text>
<line x1="347.3" y1="1984.3" x2="347.3" y2="1994" stroke="#444" stroke-width="1.2"/>
<text transform="translate(356.8,2008.5) rotate(-90)" font-size="26.3" text-anchor="end">Maternal IgG N</text>
<line x1="393.6" y1="1984.3" x2="393.6" y2="1994" stroke="#444" stroke-width="1.2"/>
<text transform="translate(403.1,2008.5) rotate(-90)" font-size="26.3" text-anchor="end">Maternal IgM S</text>
<line x1="439.9" y1="1984.3" x2="439.9" y2="1994" stroke="#444" stroke-width="1.2"/>
<text transform="translate(449.4,2008.5) rotate(-90)" font-size="26.3" text-anchor="end">Maternal IgM RBD</text>
<line x1="486.3" y1="1984.3" x2="486.3" y2="1994" stroke="#444" stroke-width="1.2"/>
<text transform="translate(495.8,2008.5) rotate(-90)" font-size="26.3" text-anchor="end">Maternal IgM N</text>
<line x1="532.6" y1="1984.3" x2="532.6" y2="1994" stroke="#444" stroke-width="1.2"/>
<text transform="translate(542.1,2008.5) rotate(-90)" font-size="26.3" text-anchor="end">Neonatal IgG S</text>
<line x1="579.0" y1="1984.3" x2="579.0" y2="1994" stroke="#444" stroke-width="1.2"/>
<text transform="translate(588.5,2008.5) rotate(-90)" font-size="26.3" text-anchor="end">Neonatal IgG RBD</text>
<line x1="625.3" y1="1984.3" x2="625.3" y2="1994" stroke="#444" stroke-width="1.2"/>
<text transform="translate(634.8,2008.5) rotate(-90)" font-size="26.3" text-anchor="end">Neonatal IgG N</text>
<line x1="671.6" y1="1984.3" x2="671.6" y2="1994" stroke="#444" stroke-width="1.2"/>
<text transform="translate(681.1,2008.5) rotate(-90)" font-size="26.3" text-anchor="end">Neonatal IgM S</text>
<line x1="718.0" y1="1984.3" x2="718.0" y2="1994" stroke="#444" stroke-width="1.2"/>
<text transform="translate(727.5,2008.5) rotate(-90)" font-size="26.3" text-anchor="end">Neonatal IgM RBD</text>
<line x1="764.3" y1="1984.3" x2="764.3" y2="1994" stroke="#444" stroke-width="1.2"/>
<text transform="translate(773.8,2008.5) rotate(-90)" font-size="26.3" text-anchor="end">Neonatal IgM N</text>
<path d="M154.5,1161.2 H142.6 V1542.9 H154.5" fill="none" stroke="#000" stroke-width="4.2"/>
<path d="M154.5,1569.4 H142.6 V1971 H154.5" fill="none" stroke="#000" stroke-width="4.2"/>
<text transform="translate(120.6,1350.0) rotate(-90)" font-size="26.3" text-anchor="middle" fill="#5b2492">Recovered</text>
<text transform="translate(88.8,1770.5) rotate(-90)" font-size="26.3" text-anchor="middle" fill="#f07b1e">Recent/</text>
<text transform="translate(120.6,1771.0) rotate(-90)" font-size="26.3" text-anchor="middle" fill="#f07b1e">ongoing</text>
<text x="150.8" y="993.6" font-size="26.3">Days between</text>
<text x="150.8" y="1025.4" font-size="26.3">maternal positive swab</text>
<text x="150.8" y="1057.2" font-size="26.3">and birth</text>
<line x1="197" y1="1074.6" x2="197" y2="1138" stroke="#000" stroke-width="1.6"/>
<path d="M189.5,1134 L197,1147.5 L204.5,1134 L197,1137 Z" fill="#000"/>
<defs><linearGradient id="cb" x1="0" y1="1" x2="0" y2="0"><stop offset="0" stop-color="#000000"/><stop offset="0.04" stop-color="#0a0628"/><stop offset="0.07" stop-color="#140c36"/><stop offset="0.1" stop-color="#221c4e"/><stop offset="0.14" stop-color="#322868"/><stop offset="0.19" stop-color="#46297a"/><stop offset="0.27" stop-color="#58297f"/><stop offset="0.33" stop-color="#6a288a"/><stop offset="0.38" stop-color="#7c2a8c"/><stop offset="0.45" stop-color="#98368a"/><stop offset="0.52" stop-color="#b8407e"/><stop offset="0.567" stop-color="#cf4c78"/><stop offset="0.61" stop-color="#e85a70"/><stop offset="0.68" stop-color="#ee6466"/><stop offset="0.73" stop-color="#f37d66"/><stop offset="0.79" stop-color="#f59a70"/><stop offset="0.86" stop-color="#f8b07e"/><stop offset="0.91" stop-color="#f9c68c"/><stop offset="0.955" stop-color="#f8dc9e"/><stop offset="1" stop-color="#f6f3b5"/></linearGradient></defs>
<rect x="820.4" y="1154" width="33.9" height="831.4" fill="url(#cb)" stroke="#555" stroke-width="1"/>
<line x1="820.4" y1="1270.7" x2="830" y2="1270.7" stroke="#444" stroke-width="1.2"/><line x1="844.7" y1="1270.7" x2="854.3" y2="1270.7" stroke="#444" stroke-width="1.2"/>
<text x="866.6" y="1279.7" font-size="26.3">30</text>
<line x1="820.4" y1="1516.1" x2="830" y2="1516.1" stroke="#444" stroke-width="1.2"/><line x1="844.7" y1="1516.1" x2="854.3" y2="1516.1" stroke="#444" stroke-width="1.2"/>
<text x="866.6" y="1525.1" font-size="26.3">20</text>
<line x1="820.4" y1="1761.1" x2="830" y2="1761.1" stroke="#444" stroke-width="1.2"/><line x1="844.7" y1="1761.1" x2="854.3" y2="1761.1" stroke="#444" stroke-width="1.2"/>
<text x="866.6" y="1770.1" font-size="26.3">10</text>
<line x1="814.2" y1="1907.5" x2="860" y2="1907.5" stroke="#ee3027" stroke-width="4.9" stroke-linecap="round" stroke-dasharray="7.6,12.4"/>
<text x="867.0" y="1915.8" font-size="26.3" font-style="italic">4</text>
<line x1="893" y1="1907.5" x2="957.2" y2="1907.5" stroke="#000" stroke-width="1.6"/>
<path d="M889.7,1907.5 L902,1900.5 L899,1907.5 L902,1914.5 Z" fill="#000"/>
<text x="865.7" y="1948.0" font-size="26.3">IgG seropositivity</text>
<text x="865.7" y="1979.0" font-size="26.3">threshold</text>
<text x="831.4" y="1101.5" font-size="26.3" text-anchor="middle">Fold change</text>
<text x="831.4" y="1133.1" font-size="26.3" text-anchor="middle">over background</text>
<line x1="1452.8" y1="138.6" x2="1982.2" y2="138.6" stroke="#e7e7e7" stroke-width="2.2"/>
<line x1="1452.8" y1="188.1" x2="1982.2" y2="188.1" stroke="#e7e7e7" stroke-width="2.2"/>
<line x1="1452.8" y1="303.0" x2="1982.2" y2="303.0" stroke="#e7e7e7" stroke-width="2.2"/>
<line x1="1452.8" y1="418.4" x2="1982.2" y2="418.4" stroke="#e7e7e7" stroke-width="2.2"/>
<line x1="1452.8" y1="516.5" x2="1982.2" y2="516.5" stroke="#e7e7e7" stroke-width="2.2"/>
<line x1="1452.8" y1="236.6" x2="1982.2" y2="236.6" stroke="#e4e4e4" stroke-width="3.9"/>
<line x1="1452.8" y1="369.4" x2="1982.2" y2="369.4" stroke="#e4e4e4" stroke-width="3.9"/>
<line x1="1452.8" y1="467.3" x2="1982.2" y2="467.3" stroke="#e4e4e4" stroke-width="3.9"/>
<line x1="1597" y1="29.3" x2="1597" y2="543" stroke="#e4e4e4" stroke-width="3.9"/>
<line x1="1838.1" y1="29.3" x2="1838.1" y2="543" stroke="#e4e4e4" stroke-width="3.9"/>
<text x="1439.5" y="245.9" font-size="26.3" text-anchor="end">1.0</text>
<text x="1439.5" y="378.7" font-size="26.3" text-anchor="end">0.5</text>
<text x="1439.5" y="476.6" font-size="26.3" text-anchor="end">0.3</text>
<text x="1597.0" y="576.0" font-size="26.3" text-anchor="middle">R</text>
<text x="1838.1" y="576.0" font-size="26.3" text-anchor="middle">R/O</text>
<text transform="translate(1342.1,327.0) rotate(-90)" font-size="26.3" text-anchor="middle">Mean IgG transfer ratio</text>
<text transform="translate(1373.4,327.5) rotate(-90)" font-size="26.3" text-anchor="middle">(neonatal IgG/maternal IgG)</text>
<path d="M1597,66 V53 H1838.1 V66" fill="none" stroke="#000" stroke-width="2"/>
<text x="1717.5" y="42.5" font-size="28" text-anchor="middle">*</text>
<line x1="1838.1" y1="87" x2="1838.1" y2="517.5" stroke="#d08a40" stroke-width="4"/>
<rect x="1537.2" y="211.2" width="119.6" height="44.8" fill="#a898c4" stroke="#6e5a8e" stroke-width="4" stroke-linejoin="round"/>
<line x1="1537.2" y1="233.7" x2="1656.8" y2="233.7" stroke="#6e5a8e" stroke-width="8"/>
<rect x="1779.2" y="242.5" width="119.8" height="175.1" fill="#e8b883" stroke="#d08a40" stroke-width="4" stroke-linejoin="round"/>
<line x1="1779.2" y1="292.7" x2="1899" y2="292.7" stroke="#d08a40" stroke-width="8"/>
<circle cx="1588.3" cy="79.8" r="8.2" fill="#9c87bf" fill-opacity="0.8" stroke="#000" stroke-width="2.2"/>
<circle cx="1592.3" cy="189.3" r="8.2" fill="#9c87bf" fill-opacity="0.8" stroke="#000" stroke-width="2.2"/>
<circle cx="1604.6" cy="198.4" r="8.2" fill="#9c87bf" fill-opacity="0.8" stroke="#000" stroke-width="2.2"/>
<circle cx="1605.7" cy="201.6" r="8.2" fill="#9c87bf" fill-opacity="0.8" stroke="#000" stroke-width="2.2"/>
<circle cx="1599.2" cy="210.3" r="8.2" fill="#9c87bf" fill-opacity="0.8" stroke="#000" stroke-width="2.2"/>
<circle cx="1597" cy="230.2" r="8.2" fill="#9c87bf" fill-opacity="0.8" stroke="#000" stroke-width="2.2"/>
<circle cx="1592.7" cy="235.2" r="8.2" fill="#9c87bf" fill-opacity="0.8" stroke="#000" stroke-width="2.2"/>
<circle cx="1606.1" cy="234.1" r="8.2" fill="#9c87bf" fill-opacity="0.8" stroke="#000" stroke-width="2.2"/>
<circle cx="1590.5" cy="259.1" r="8.2" fill="#9c87bf" fill-opacity="0.8" stroke="#000" stroke-width="2.2"/>
<circle cx="1590.5" cy="261.2" r="8.2" fill="#9c87bf" fill-opacity="0.8" stroke="#000" stroke-width="2.2"/>
<circle cx="1586.6" cy="339" r="8.2" fill="#9c87bf" fill-opacity="0.8" stroke="#000" stroke-width="2.2"/>
<circle cx="1589.5" cy="357.2" r="8.2" fill="#9c87bf" fill-opacity="0.8" stroke="#000" stroke-width="2.2"/>
<circle cx="1599" cy="454" r="8.2" fill="#9c87bf" fill-opacity="0.8" stroke="#000" stroke-width="2.2"/>
<circle cx="1837.6" cy="87.3" r="8.2" fill="#eba15b" fill-opacity="0.8" stroke="#000" stroke-width="2.2"/>
<circle cx="1838.1" cy="210.6" r="8.2" fill="#eba15b" fill-opacity="0.8" stroke="#000" stroke-width="2.2"/>
<circle cx="1839.1" cy="235" r="8.2" fill="#eba15b" fill-opacity="0.8" stroke="#000" stroke-width="2.2"/>
<circle cx="1845.7" cy="250.1" r="8.2" fill="#eba15b" fill-opacity="0.8" stroke="#000" stroke-width="2.2"/>
<circle cx="1845.7" cy="265.3" r="8.2" fill="#eba15b" fill-opacity="0.8" stroke="#000" stroke-width="2.2"/>
<circle cx="1840.1" cy="278" r="8.2" fill="#eba15b" fill-opacity="0.8" stroke="#000" stroke-width="2.2"/>
<circle cx="1839.1" cy="291.7" r="8.2" fill="#eba15b" fill-opacity="0.8" stroke="#000" stroke-width="2.2"/>
<circle cx="1825.4" cy="300.9" r="8.2" fill="#eba15b" fill-opacity="0.8" stroke="#000" stroke-width="2.2"/>
<circle cx="1842.7" cy="322.7" r="8.2" fill="#eba15b" fill-opacity="0.8" stroke="#000" stroke-width="2.2"/>
<circle cx="1831" cy="343" r="8.2" fill="#eba15b" fill-opacity="0.8" stroke="#000" stroke-width="2.2"/>
<circle cx="1827" cy="405.4" r="8.2" fill="#eba15b" fill-opacity="0.8" stroke="#000" stroke-width="2.2"/>
<circle cx="1832" cy="454" r="8.2" fill="#eba15b" fill-opacity="0.8" stroke="#000" stroke-width="2.2"/>
<circle cx="1826" cy="465.7" r="8.2" fill="#eba15b" fill-opacity="0.8" stroke="#000" stroke-width="2.2"/>
<circle cx="1840.7" cy="467.8" r="8.2" fill="#eba15b" fill-opacity="0.8" stroke="#000" stroke-width="2.2"/>
<circle cx="1828.5" cy="514" r="8.2" fill="#eba15b" fill-opacity="0.8" stroke="#000" stroke-width="2.2"/>
<line x1="1301.3" y1="826.2" x2="1680.8" y2="826.2" stroke="#e7e7e7" stroke-width="2.2"/>
<line x1="1301.3" y1="1019" x2="1680.8" y2="1019" stroke="#e7e7e7" stroke-width="2.2"/>
<line x1="1301.3" y1="729.8" x2="1680.8" y2="729.8" stroke="#e4e4e4" stroke-width="3.9"/>
<line x1="1301.3" y1="923.1" x2="1680.8" y2="923.1" stroke="#e4e4e4" stroke-width="3.9"/>
<line x1="1301.3" y1="1115.9" x2="1680.8" y2="1115.9" stroke="#e4e4e4" stroke-width="3.9"/>
<line x1="1301.3" y1="999.7" x2="1680.8" y2="999.7" stroke="#c8c8c8" stroke-width="3.3" stroke-dasharray="14.6,14.6"/>
<line x1="1695.6" y1="826.2" x2="2075.1" y2="826.2" stroke="#e7e7e7" stroke-width="2.2"/>
<line x1="1695.6" y1="1019" x2="2075.1" y2="1019" stroke="#e7e7e7" stroke-width="2.2"/>
<line x1="1695.6" y1="729.8" x2="2075.1" y2="729.8" stroke="#e4e4e4" stroke-width="3.9"/>
<line x1="1695.6" y1="923.1" x2="2075.1" y2="923.1" stroke="#e4e4e4" stroke-width="3.9"/>
<line x1="1695.6" y1="1115.9" x2="2075.1" y2="1115.9" stroke="#e4e4e4" stroke-width="3.9"/>
<line x1="1695.6" y1="999.7" x2="2075.1" y2="999.7" stroke="#c8c8c8" stroke-width="3.3" stroke-dasharray="14.6,14.6"/>
<line x1="1404.0" y1="709.5" x2="1404.0" y2="1134.7" stroke="#e4e4e4" stroke-width="3.9"/>
<line x1="1577.4" y1="709.5" x2="1577.4" y2="1134.7" stroke="#e4e4e4" stroke-width="3.9"/>
<line x1="1798.5" y1="709.5" x2="1798.5" y2="1134.7" stroke="#e4e4e4" stroke-width="3.9"/>
<line x1="1972.0" y1="709.5" x2="1972.0" y2="1134.7" stroke="#e4e4e4" stroke-width="3.9"/>
<rect x="1301.3" y="664.4" width="379.5" height="45.1" fill="#d9d9d9" stroke="#000" stroke-width="1.8"/>
<rect x="1695.6" y="664.4" width="379.5" height="45.1" fill="#d9d9d9" stroke="#000" stroke-width="1.8"/>
<text x="1491.0" y="697.3" font-size="26.3" text-anchor="middle">Recovered</text>
<text x="1885.3" y="697.3" font-size="26.3" text-anchor="middle">Recent/ongoing</text>
<text x="1286.5" y="739.1" font-size="26.3" text-anchor="end">100</text>
<text x="1286.5" y="932.4" font-size="26.3" text-anchor="end">10</text>
<text x="1286.5" y="1125.2" font-size="26.3" text-anchor="end">1</text>
<text transform="translate(1178.5,922.0) rotate(-90)" font-size="26.3" text-anchor="middle">IgG S</text>
<text transform="translate(1210.5,922.0) rotate(-90)" font-size="26.3" text-anchor="middle">(fold change over background)</text>
<text x="1404.0" y="1169.2" font-size="26.3" text-anchor="middle">Mother</text>
<text x="1577.4" y="1169.2" font-size="26.3" text-anchor="middle">Neonate</text>
<text x="1798.5" y="1169.2" font-size="26.3" text-anchor="middle">Mother</text>
<text x="1972.0" y="1169.2" font-size="26.3" text-anchor="middle">Neonate</text>
<path d="M1404.0,828.2 V819.2 H1577.4 V828.2" fill="none" stroke="#000" stroke-width="2.4"/>
<path d="M1798.5,828.2 V819.2 H1972.0 V828.2" fill="none" stroke="#000" stroke-width="2.4"/>
<text x="1490.7" y="811.4" font-size="26.3" text-anchor="middle">NS</text>
<text x="1886.0" y="814.4" font-size="30" text-anchor="middle" letter-spacing="1.7">****</text>
<line x1="1404.0" y1="830.4" x2="1577.4" y2="834" stroke="#a893c6" stroke-opacity="0.82" stroke-width="3.5"/>
<line x1="1404.0" y1="837.9" x2="1577.4" y2="874" stroke="#a893c6" stroke-opacity="0.82" stroke-width="3.5"/>
<line x1="1404.0" y1="852.5" x2="1577.4" y2="842.9" stroke="#a893c6" stroke-opacity="0.82" stroke-width="3.5"/>
<line x1="1404.0" y1="855.4" x2="1577.4" y2="856" stroke="#a893c6" stroke-opacity="0.82" stroke-width="3.5"/>
<line x1="1404.0" y1="863.2" x2="1577.4" y2="870" stroke="#a893c6" stroke-opacity="0.82" stroke-width="3.5"/>
<line x1="1404.0" y1="872.7" x2="1577.4" y2="879" stroke="#a893c6" stroke-opacity="0.82" stroke-width="3.5"/>
<line x1="1404.0" y1="895.4" x2="1577.4" y2="881" stroke="#a893c6" stroke-opacity="0.82" stroke-width="3.5"/>
<line x1="1404.0" y1="898.4" x2="1577.4" y2="1004" stroke="#a893c6" stroke-opacity="0.82" stroke-width="3.5"/>
<line x1="1404.0" y1="941.3" x2="1577.4" y2="925" stroke="#a893c6" stroke-opacity="0.82" stroke-width="3.5"/>
<line x1="1404.0" y1="945" x2="1577.4" y2="1000" stroke="#a893c6" stroke-opacity="0.82" stroke-width="3.5"/>
<line x1="1404.0" y1="959.2" x2="1577.4" y2="928.8" stroke="#a893c6" stroke-opacity="0.82" stroke-width="3.5"/>
<line x1="1798.5" y1="847.2" x2="1972.0" y2="887.8" stroke="#e8b98a" stroke-opacity="0.87" stroke-width="3.5"/>
<line x1="1798.5" y1="854.9" x2="1972.0" y2="857" stroke="#e8b98a" stroke-opacity="0.87" stroke-width="3.5"/>
<line x1="1798.5" y1="874.3" x2="1972.0" y2="876.1" stroke="#e8b98a" stroke-opacity="0.87" stroke-width="3.5"/>
<line x1="1798.5" y1="883.3" x2="1972.0" y2="968" stroke="#e8b98a" stroke-opacity="0.87" stroke-width="3.5"/>
<line x1="1798.5" y1="895.8" x2="1972.0" y2="912.5" stroke="#e8b98a" stroke-opacity="0.87" stroke-width="3.5"/>
<line x1="1798.5" y1="901.4" x2="1972.0" y2="978.5" stroke="#e8b98a" stroke-opacity="0.87" stroke-width="3.5"/>
<line x1="1798.5" y1="916" x2="1972.0" y2="1028.9" stroke="#e8b98a" stroke-opacity="0.87" stroke-width="3.5"/>
<line x1="1798.5" y1="934" x2="1972.0" y2="984.7" stroke="#e8b98a" stroke-opacity="0.87" stroke-width="3.5"/>
<line x1="1798.5" y1="937.5" x2="1972.0" y2="981" stroke="#e8b98a" stroke-opacity="0.87" stroke-width="3.5"/>
<line x1="1798.5" y1="939" x2="1972.0" y2="1070.1" stroke="#e8b98a" stroke-opacity="0.87" stroke-width="3.5"/>
<circle cx="1404.0" cy="830.4" r="7.7" fill="#563d7d" fill-opacity="0.85" stroke="#000" stroke-width="2.5"/>
<circle cx="1577.4" cy="834" r="7.7" fill="#563d7d" fill-opacity="0.85" stroke="#000" stroke-width="2.5"/>
<circle cx="1404.0" cy="837.9" r="7.7" fill="#563d7d" fill-opacity="0.85" stroke="#000" stroke-width="2.5"/>
<circle cx="1577.4" cy="874" r="7.7" fill="#563d7d" fill-opacity="0.85" stroke="#000" stroke-width="2.5"/>
<circle cx="1404.0" cy="852.5" r="7.7" fill="#563d7d" fill-opacity="0.85" stroke="#000" stroke-width="2.5"/>
<circle cx="1577.4" cy="842.9" r="7.7" fill="#563d7d" fill-opacity="0.85" stroke="#000" stroke-width="2.5"/>
<circle cx="1404.0" cy="855.4" r="7.7" fill="#563d7d" fill-opacity="0.85" stroke="#000" stroke-width="2.5"/>
<circle cx="1577.4" cy="856" r="7.7" fill="#563d7d" fill-opacity="0.85" stroke="#000" stroke-width="2.5"/>
<circle cx="1404.0" cy="863.2" r="7.7" fill="#563d7d" fill-opacity="0.85" stroke="#000" stroke-width="2.5"/>
<circle cx="1577.4" cy="870" r="7.7" fill="#563d7d" fill-opacity="0.85" stroke="#000" stroke-width="2.5"/>
<circle cx="1404.0" cy="872.7" r="7.7" fill="#563d7d" fill-opacity="0.85" stroke="#000" stroke-width="2.5"/>
<circle cx="1577.4" cy="879" r="7.7" fill="#563d7d" fill-opacity="0.85" stroke="#000" stroke-width="2.5"/>
<circle cx="1404.0" cy="895.4" r="7.7" fill="#563d7d" fill-opacity="0.85" stroke="#000" stroke-width="2.5"/>
<circle cx="1577.4" cy="881" r="7.7" fill="#563d7d" fill-opacity="0.85" stroke="#000" stroke-width="2.5"/>
<circle cx="1404.0" cy="898.4" r="7.7" fill="#563d7d" fill-opacity="0.85" stroke="#000" stroke-width="2.5"/>
<circle cx="1577.4" cy="1004" r="7.7" fill="#563d7d" fill-opacity="0.85" stroke="#000" stroke-width="2.5"/>
<circle cx="1404.0" cy="941.3" r="7.7" fill="#563d7d" fill-opacity="0.85" stroke="#000" stroke-width="2.5"/>
<circle cx="1577.4" cy="925" r="7.7" fill="#563d7d" fill-opacity="0.85" stroke="#000" stroke-width="2.5"/>
<circle cx="1404.0" cy="945" r="7.7" fill="#563d7d" fill-opacity="0.85" stroke="#000" stroke-width="2.5"/>
<circle cx="1577.4" cy="1000" r="7.7" fill="#563d7d" fill-opacity="0.85" stroke="#000" stroke-width="2.5"/>
<circle cx="1404.0" cy="959.2" r="7.7" fill="#563d7d" fill-opacity="0.85" stroke="#000" stroke-width="2.5"/>
<circle cx="1577.4" cy="928.8" r="7.7" fill="#563d7d" fill-opacity="0.85" stroke="#000" stroke-width="2.5"/>
<circle cx="1798.5" cy="847.2" r="7.7" fill="#c2792c" fill-opacity="0.85" stroke="#000" stroke-width="2.5"/>
<circle cx="1972.0" cy="887.8" r="7.7" fill="#c2792c" fill-opacity="0.85" stroke="#000" stroke-width="2.5"/>
<circle cx="1798.5" cy="854.9" r="7.7" fill="#c2792c" fill-opacity="0.85" stroke="#000" stroke-width="2.5"/>
<circle cx="1972.0" cy="857" r="7.7" fill="#c2792c" fill-opacity="0.85" stroke="#000" stroke-width="2.5"/>
<circle cx="1798.5" cy="874.3" r="7.7" fill="#c2792c" fill-opacity="0.85" stroke="#000" stroke-width="2.5"/>
<circle cx="1972.0" cy="876.1" r="7.7" fill="#c2792c" fill-opacity="0.85" stroke="#000" stroke-width="2.5"/>
<circle cx="1798.5" cy="883.3" r="7.7" fill="#c2792c" fill-opacity="0.85" stroke="#000" stroke-width="2.5"/>
<circle cx="1972.0" cy="968" r="7.7" fill="#c2792c" fill-opacity="0.85" stroke="#000" stroke-width="2.5"/>
<circle cx="1798.5" cy="895.8" r="7.7" fill="#c2792c" fill-opacity="0.85" stroke="#000" stroke-width="2.5"/>
<circle cx="1972.0" cy="912.5" r="7.7" fill="#c2792c" fill-opacity="0.85" stroke="#000" stroke-width="2.5"/>
<circle cx="1798.5" cy="901.4" r="7.7" fill="#c2792c" fill-opacity="0.85" stroke="#000" stroke-width="2.5"/>
<circle cx="1972.0" cy="978.5" r="7.7" fill="#c2792c" fill-opacity="0.85" stroke="#000" stroke-width="2.5"/>
<circle cx="1798.5" cy="916" r="7.7" fill="#c2792c" fill-opacity="0.85" stroke="#000" stroke-width="2.5"/>
<circle cx="1972.0" cy="1028.9" r="7.7" fill="#c2792c" fill-opacity="0.85" stroke="#000" stroke-width="2.5"/>
<circle cx="1798.5" cy="934" r="7.7" fill="#c2792c" fill-opacity="0.85" stroke="#000" stroke-width="2.5"/>
<circle cx="1972.0" cy="984.7" r="7.7" fill="#c2792c" fill-opacity="0.85" stroke="#000" stroke-width="2.5"/>
<circle cx="1798.5" cy="937.5" r="7.7" fill="#c2792c" fill-opacity="0.85" stroke="#000" stroke-width="2.5"/>
<circle cx="1972.0" cy="981" r="7.7" fill="#c2792c" fill-opacity="0.85" stroke="#000" stroke-width="2.5"/>
<circle cx="1798.5" cy="939" r="7.7" fill="#c2792c" fill-opacity="0.85" stroke="#000" stroke-width="2.5"/>
<circle cx="1972.0" cy="1070.1" r="7.7" fill="#c2792c" fill-opacity="0.85" stroke="#000" stroke-width="2.5"/>
<line x1="1301.3" y1="1386.2" x2="1680.8" y2="1386.2" stroke="#e7e7e7" stroke-width="2.2"/>
<line x1="1301.3" y1="1579" x2="1680.8" y2="1579" stroke="#e7e7e7" stroke-width="2.2"/>
<line x1="1301.3" y1="1289.8" x2="1680.8" y2="1289.8" stroke="#e4e4e4" stroke-width="3.9"/>
<line x1="1301.3" y1="1483.1" x2="1680.8" y2="1483.1" stroke="#e4e4e4" stroke-width="3.9"/>
<line x1="1301.3" y1="1675.9" x2="1680.8" y2="1675.9" stroke="#e4e4e4" stroke-width="3.9"/>
<line x1="1301.3" y1="1559.7" x2="1680.8" y2="1559.7" stroke="#c8c8c8" stroke-width="3.3" stroke-dasharray="14.6,14.6"/>
<line x1="1695.6" y1="1386.2" x2="2075.1" y2="1386.2" stroke="#e7e7e7" stroke-width="2.2"/>
<line x1="1695.6" y1="1579" x2="2075.1" y2="1579" stroke="#e7e7e7" stroke-width="2.2"/>
<line x1="1695.6" y1="1289.8" x2="2075.1" y2="1289.8" stroke="#e4e4e4" stroke-width="3.9"/>
<line x1="1695.6" y1="1483.1" x2="2075.1" y2="1483.1" stroke="#e4e4e4" stroke-width="3.9"/>
<line x1="1695.6" y1="1675.9" x2="2075.1" y2="1675.9" stroke="#e4e4e4" stroke-width="3.9"/>
<line x1="1695.6" y1="1559.7" x2="2075.1" y2="1559.7" stroke="#c8c8c8" stroke-width="3.3" stroke-dasharray="14.6,14.6"/>
<line x1="1404.0" y1="1269.5" x2="1404.0" y2="1694.7" stroke="#e4e4e4" stroke-width="3.9"/>
<line x1="1577.4" y1="1269.5" x2="1577.4" y2="1694.7" stroke="#e4e4e4" stroke-width="3.9"/>
<line x1="1798.5" y1="1269.5" x2="1798.5" y2="1694.7" stroke="#e4e4e4" stroke-width="3.9"/>
<line x1="1972.0" y1="1269.5" x2="1972.0" y2="1694.7" stroke="#e4e4e4" stroke-width="3.9"/>
<rect x="1301.3" y="1224.4" width="379.5" height="45.1" fill="#d9d9d9" stroke="#000" stroke-width="1.8"/>
<rect x="1695.6" y="1224.4" width="379.5" height="45.1" fill="#d9d9d9" stroke="#000" stroke-width="1.8"/>
<text x="1491.0" y="1257.3" font-size="26.3" text-anchor="middle">Recovered</text>
<text x="1885.3" y="1257.3" font-size="26.3" text-anchor="middle">Recent/ongoing</text>
<text x="1286.5" y="1299.1" font-size="26.3" text-anchor="end">100</text>
<text x="1286.5" y="1492.4" font-size="26.3" text-anchor="end">10</text>
<text x="1286.5" y="1685.2" font-size="26.3" text-anchor="end">1</text>
<text transform="translate(1178.5,1482.0) rotate(-90)" font-size="26.3" text-anchor="middle">IgG RBD</text>
<text transform="translate(1210.5,1482.0) rotate(-90)" font-size="26.3" text-anchor="middle">(fold change over background)</text>
<text x="1404.0" y="1729.2" font-size="26.3" text-anchor="middle">Mother</text>
<text x="1577.4" y="1729.2" font-size="26.3" text-anchor="middle">Neonate</text>
<text x="1798.5" y="1729.2" font-size="26.3" text-anchor="middle">Mother</text>
<text x="1972.0" y="1729.2" font-size="26.3" text-anchor="middle">Neonate</text>
<path d="M1404.0,1392.9 V1383.9 H1577.4 V1392.9" fill="none" stroke="#000" stroke-width="2.4"/>
<path d="M1798.5,1392.9 V1383.9 H1972.0 V1392.9" fill="none" stroke="#000" stroke-width="2.4"/>
<text x="1490.7" y="1376.1" font-size="26.3" text-anchor="middle">NS</text>
<text x="1886.0" y="1379.1" font-size="30" text-anchor="middle" letter-spacing="1.7">***</text>
<line x1="1404.0" y1="1396.3" x2="1577.4" y2="1404" stroke="#a893c6" stroke-opacity="0.82" stroke-width="3.5"/>
<line x1="1404.0" y1="1429.3" x2="1577.4" y2="1415.6" stroke="#a893c6" stroke-opacity="0.82" stroke-width="3.5"/>
<line x1="1404.0" y1="1432" x2="1577.4" y2="1464.8" stroke="#a893c6" stroke-opacity="0.82" stroke-width="3.5"/>
<line x1="1404.0" y1="1434" x2="1577.4" y2="1443" stroke="#a893c6" stroke-opacity="0.82" stroke-width="3.5"/>
<line x1="1404.0" y1="1448.6" x2="1577.4" y2="1448.6" stroke="#a893c6" stroke-opacity="0.82" stroke-width="3.5"/>
<line x1="1404.0" y1="1464.8" x2="1577.4" y2="1441.5" stroke="#a893c6" stroke-opacity="0.82" stroke-width="3.5"/>
<line x1="1404.0" y1="1483.1" x2="1577.4" y2="1469.9" stroke="#a893c6" stroke-opacity="0.82" stroke-width="3.5"/>
<line x1="1404.0" y1="1521.2" x2="1577.4" y2="1646.5" stroke="#a893c6" stroke-opacity="0.82" stroke-width="3.5"/>
<line x1="1404.0" y1="1555.1" x2="1577.4" y2="1543.5" stroke="#a893c6" stroke-opacity="0.82" stroke-width="3.5"/>
<line x1="1404.0" y1="1559" x2="1577.4" y2="1604.4" stroke="#a893c6" stroke-opacity="0.82" stroke-width="3.5"/>
<line x1="1798.5" y1="1422" x2="1972.0" y2="1531" stroke="#e8b98a" stroke-opacity="0.87" stroke-width="3.5"/>
<line x1="1798.5" y1="1432" x2="1972.0" y2="1438" stroke="#e8b98a" stroke-opacity="0.87" stroke-width="3.5"/>
<line x1="1798.5" y1="1445" x2="1972.0" y2="1439" stroke="#e8b98a" stroke-opacity="0.87" stroke-width="3.5"/>
<line x1="1798.5" y1="1446" x2="1972.0" y2="1540" stroke="#e8b98a" stroke-opacity="0.87" stroke-width="3.5"/>
<line x1="1798.5" y1="1464" x2="1972.0" y2="1481" stroke="#e8b98a" stroke-opacity="0.87" stroke-width="3.5"/>
<line x1="1798.5" y1="1480" x2="1972.0" y2="1542" stroke="#e8b98a" stroke-opacity="0.87" stroke-width="3.5"/>
<line x1="1798.5" y1="1492" x2="1972.0" y2="1592" stroke="#e8b98a" stroke-opacity="0.87" stroke-width="3.5"/>
<line x1="1798.5" y1="1500" x2="1972.0" y2="1619" stroke="#e8b98a" stroke-opacity="0.87" stroke-width="3.5"/>
<line x1="1798.5" y1="1504" x2="1972.0" y2="1625" stroke="#e8b98a" stroke-opacity="0.87" stroke-width="3.5"/>
<circle cx="1404.0" cy="1396.3" r="7.7" fill="#563d7d" fill-opacity="0.85" stroke="#000" stroke-width="2.5"/>
<circle cx="1577.4" cy="1404" r="7.7" fill="#563d7d" fill-opacity="0.85" stroke="#000" stroke-width="2.5"/>
<circle cx="1404.0" cy="1429.3" r="7.7" fill="#563d7d" fill-opacity="0.85" stroke="#000" stroke-width="2.5"/>
<circle cx="1577.4" cy="1415.6" r="7.7" fill="#563d7d" fill-opacity="0.85" stroke="#000" stroke-width="2.5"/>
<circle cx="1404.0" cy="1432" r="7.7" fill="#563d7d" fill-opacity="0.85" stroke="#000" stroke-width="2.5"/>
<circle cx="1577.4" cy="1464.8" r="7.7" fill="#563d7d" fill-opacity="0.85" stroke="#000" stroke-width="2.5"/>
<circle cx="1404.0" cy="1434" r="7.7" fill="#563d7d" fill-opacity="0.85" stroke="#000" stroke-width="2.5"/>
<circle cx="1577.4" cy="1443" r="7.7" fill="#563d7d" fill-opacity="0.85" stroke="#000" stroke-width="2.5"/>
<circle cx="1404.0" cy="1448.6" r="7.7" fill="#563d7d" fill-opacity="0.85" stroke="#000" stroke-width="2.5"/>
<circle cx="1577.4" cy="1448.6" r="7.7" fill="#563d7d" fill-opacity="0.85" stroke="#000" stroke-width="2.5"/>
<circle cx="1404.0" cy="1464.8" r="7.7" fill="#563d7d" fill-opacity="0.85" stroke="#000" stroke-width="2.5"/>
<circle cx="1577.4" cy="1441.5" r="7.7" fill="#563d7d" fill-opacity="0.85" stroke="#000" stroke-width="2.5"/>
<circle cx="1404.0" cy="1483.1" r="7.7" fill="#563d7d" fill-opacity="0.85" stroke="#000" stroke-width="2.5"/>
<circle cx="1577.4" cy="1469.9" r="7.7" fill="#563d7d" fill-opacity="0.85" stroke="#000" stroke-width="2.5"/>
<circle cx="1404.0" cy="1521.2" r="7.7" fill="#563d7d" fill-opacity="0.85" stroke="#000" stroke-width="2.5"/>
<circle cx="1577.4" cy="1646.5" r="7.7" fill="#563d7d" fill-opacity="0.85" stroke="#000" stroke-width="2.5"/>
<circle cx="1404.0" cy="1555.1" r="7.7" fill="#563d7d" fill-opacity="0.85" stroke="#000" stroke-width="2.5"/>
<circle cx="1577.4" cy="1543.5" r="7.7" fill="#563d7d" fill-opacity="0.85" stroke="#000" stroke-width="2.5"/>
<circle cx="1404.0" cy="1559" r="7.7" fill="#563d7d" fill-opacity="0.85" stroke="#000" stroke-width="2.5"/>
<circle cx="1577.4" cy="1604.4" r="7.7" fill="#563d7d" fill-opacity="0.85" stroke="#000" stroke-width="2.5"/>
<circle cx="1798.5" cy="1422" r="7.7" fill="#c2792c" fill-opacity="0.85" stroke="#000" stroke-width="2.5"/>
<circle cx="1972.0" cy="1531" r="7.7" fill="#c2792c" fill-opacity="0.85" stroke="#000" stroke-width="2.5"/>
<circle cx="1798.5" cy="1432" r="7.7" fill="#c2792c" fill-opacity="0.85" stroke="#000" stroke-width="2.5"/>
<circle cx="1972.0" cy="1438" r="7.7" fill="#c2792c" fill-opacity="0.85" stroke="#000" stroke-width="2.5"/>
<circle cx="1798.5" cy="1445" r="7.7" fill="#c2792c" fill-opacity="0.85" stroke="#000" stroke-width="2.5"/>
<circle cx="1972.0" cy="1439" r="7.7" fill="#c2792c" fill-opacity="0.85" stroke="#000" stroke-width="2.5"/>
<circle cx="1798.5" cy="1446" r="7.7" fill="#c2792c" fill-opacity="0.85" stroke="#000" stroke-width="2.5"/>
<circle cx="1972.0" cy="1540" r="7.7" fill="#c2792c" fill-opacity="0.85" stroke="#000" stroke-width="2.5"/>
<circle cx="1798.5" cy="1464" r="7.7" fill="#c2792c" fill-opacity="0.85" stroke="#000" stroke-width="2.5"/>
<circle cx="1972.0" cy="1481" r="7.7" fill="#c2792c" fill-opacity="0.85" stroke="#000" stroke-width="2.5"/>
<circle cx="1798.5" cy="1480" r="7.7" fill="#c2792c" fill-opacity="0.85" stroke="#000" stroke-width="2.5"/>
<circle cx="1972.0" cy="1542" r="7.7" fill="#c2792c" fill-opacity="0.85" stroke="#000" stroke-width="2.5"/>
<circle cx="1798.5" cy="1492" r="7.7" fill="#c2792c" fill-opacity="0.85" stroke="#000" stroke-width="2.5"/>
<circle cx="1972.0" cy="1592" r="7.7" fill="#c2792c" fill-opacity="0.85" stroke="#000" stroke-width="2.5"/>
<circle cx="1798.5" cy="1500" r="7.7" fill="#c2792c" fill-opacity="0.85" stroke="#000" stroke-width="2.5"/>
<circle cx="1972.0" cy="1619" r="7.7" fill="#c2792c" fill-opacity="0.85" stroke="#000" stroke-width="2.5"/>
<circle cx="1798.5" cy="1504" r="7.7" fill="#c2792c" fill-opacity="0.85" stroke="#000" stroke-width="2.5"/>
<circle cx="1972.0" cy="1625" r="7.7" fill="#c2792c" fill-opacity="0.85" stroke="#000" stroke-width="2.5"/>
<line x1="1287.1" y1="1925.2" x2="1666.6" y2="1925.2" stroke="#e7e7e7" stroke-width="2.2"/>
<line x1="1287.1" y1="2118" x2="1666.6" y2="2118" stroke="#e7e7e7" stroke-width="2.2"/>
<line x1="1287.1" y1="1828.8" x2="1666.6" y2="1828.8" stroke="#e4e4e4" stroke-width="3.9"/>
<line x1="1287.1" y1="2022.1" x2="1666.6" y2="2022.1" stroke="#e4e4e4" stroke-width="3.9"/>
<line x1="1287.1" y1="2214.9" x2="1666.6" y2="2214.9" stroke="#e4e4e4" stroke-width="3.9"/>
<line x1="1287.1" y1="2098.7" x2="1666.6" y2="2098.7" stroke="#c8c8c8" stroke-width="3.3" stroke-dasharray="14.6,14.6"/>
<line x1="1681.3999999999999" y1="1925.2" x2="2060.9" y2="1925.2" stroke="#e7e7e7" stroke-width="2.2"/>
<line x1="1681.3999999999999" y1="2118" x2="2060.9" y2="2118" stroke="#e7e7e7" stroke-width="2.2"/>
<line x1="1681.3999999999999" y1="1828.8" x2="2060.9" y2="1828.8" stroke="#e4e4e4" stroke-width="3.9"/>
<line x1="1681.3999999999999" y1="2022.1" x2="2060.9" y2="2022.1" stroke="#e4e4e4" stroke-width="3.9"/>
<line x1="1681.3999999999999" y1="2214.9" x2="2060.9" y2="2214.9" stroke="#e4e4e4" stroke-width="3.9"/>
<line x1="1681.3999999999999" y1="2098.7" x2="2060.9" y2="2098.7" stroke="#c8c8c8" stroke-width="3.3" stroke-dasharray="14.6,14.6"/>
<line x1="1389.8" y1="1808.5" x2="1389.8" y2="2233.7" stroke="#e4e4e4" stroke-width="3.9"/>
<line x1="1563.2" y1="1808.5" x2="1563.2" y2="2233.7" stroke="#e4e4e4" stroke-width="3.9"/>
<line x1="1784.3" y1="1808.5" x2="1784.3" y2="2233.7" stroke="#e4e4e4" stroke-width="3.9"/>
<line x1="1957.8" y1="1808.5" x2="1957.8" y2="2233.7" stroke="#e4e4e4" stroke-width="3.9"/>
<rect x="1287.1" y="1763.4" width="379.5" height="45.1" fill="#d9d9d9" stroke="#000" stroke-width="1.8"/>
<rect x="1681.3999999999999" y="1763.4" width="379.5" height="45.1" fill="#d9d9d9" stroke="#000" stroke-width="1.8"/>
<text x="1476.8" y="1796.3" font-size="26.3" text-anchor="middle">Recovered</text>
<text x="1871.1" y="1796.3" font-size="26.3" text-anchor="middle">Recent/ongoing</text>
<text x="1272.3" y="1838.1" font-size="26.3" text-anchor="end">100</text>
<text x="1272.3" y="2031.4" font-size="26.3" text-anchor="end">10</text>
<text x="1272.3" y="2224.2" font-size="26.3" text-anchor="end">1</text>
<text transform="translate(1164.3,2021.0) rotate(-90)" font-size="26.3" text-anchor="middle">IgG N</text>
<text transform="translate(1196.3,2021.0) rotate(-90)" font-size="26.3" text-anchor="middle">(fold change over background)</text>
<text x="1389.8" y="2268.2" font-size="26.3" text-anchor="middle">Mother</text>
<text x="1563.2" y="2268.2" font-size="26.3" text-anchor="middle">Neonate</text>
<text x="1784.3" y="2268.2" font-size="26.3" text-anchor="middle">Mother</text>
<text x="1957.8" y="2268.2" font-size="26.3" text-anchor="middle">Neonate</text>
<path d="M1389.8,1915.6 V1906.6 H1563.2 V1915.6" fill="none" stroke="#000" stroke-width="2.4"/>
<path d="M1784.3,1915.6 V1906.6 H1957.8 V1915.6" fill="none" stroke="#000" stroke-width="2.4"/>
<text x="1476.5" y="1898.8" font-size="26.3" text-anchor="middle">NS</text>
<text x="1871.8" y="1901.8" font-size="30" text-anchor="middle" letter-spacing="1.7">****</text>
<line x1="1389.8" y1="1919.5" x2="1563.2" y2="1919.5" stroke="#a893c6" stroke-opacity="0.82" stroke-width="3.5"/>
<line x1="1389.8" y1="1922.6" x2="1563.2" y2="1920" stroke="#a893c6" stroke-opacity="0.82" stroke-width="3.5"/>
<line x1="1389.8" y1="1972.7" x2="1563.2" y2="1976" stroke="#a893c6" stroke-opacity="0.82" stroke-width="3.5"/>
<line x1="1389.8" y1="1974" x2="1563.2" y2="2019" stroke="#a893c6" stroke-opacity="0.82" stroke-width="3.5"/>
<line x1="1389.8" y1="1978.7" x2="1563.2" y2="1978.7" stroke="#a893c6" stroke-opacity="0.82" stroke-width="3.5"/>
<line x1="1389.8" y1="1981" x2="1563.2" y2="2041" stroke="#a893c6" stroke-opacity="0.82" stroke-width="3.5"/>
<line x1="1389.8" y1="1983.5" x2="1563.2" y2="2013" stroke="#a893c6" stroke-opacity="0.82" stroke-width="3.5"/>
<line x1="1389.8" y1="1992" x2="1563.2" y2="1982" stroke="#a893c6" stroke-opacity="0.82" stroke-width="3.5"/>
<line x1="1389.8" y1="2018" x2="1563.2" y2="2052.6" stroke="#a893c6" stroke-opacity="0.82" stroke-width="3.5"/>
<line x1="1784.3" y1="1938.1" x2="1957.8" y2="1978" stroke="#e8b98a" stroke-opacity="0.87" stroke-width="3.5"/>
<line x1="1784.3" y1="1943.9" x2="1957.8" y2="1969.7" stroke="#e8b98a" stroke-opacity="0.87" stroke-width="3.5"/>
<line x1="1784.3" y1="1947.7" x2="1957.8" y2="1996" stroke="#e8b98a" stroke-opacity="0.87" stroke-width="3.5"/>
<line x1="1784.3" y1="1951" x2="1957.8" y2="2049" stroke="#e8b98a" stroke-opacity="0.87" stroke-width="3.5"/>
<line x1="1784.3" y1="1971" x2="1957.8" y2="1971" stroke="#e8b98a" stroke-opacity="0.87" stroke-width="3.5"/>
<line x1="1784.3" y1="1978.7" x2="1957.8" y2="1988.4" stroke="#e8b98a" stroke-opacity="0.87" stroke-width="3.5"/>
<line x1="1784.3" y1="1995" x2="1957.8" y2="2053" stroke="#e8b98a" stroke-opacity="0.87" stroke-width="3.5"/>
<line x1="1784.3" y1="2034" x2="1957.8" y2="2156" stroke="#e8b98a" stroke-opacity="0.87" stroke-width="3.5"/>
<line x1="1784.3" y1="2050" x2="1957.8" y2="2131.6" stroke="#e8b98a" stroke-opacity="0.87" stroke-width="3.5"/>
<line x1="1784.3" y1="2053" x2="1957.8" y2="2158.6" stroke="#e8b98a" stroke-opacity="0.87" stroke-width="3.5"/>
<line x1="1784.3" y1="2095.4" x2="1957.8" y2="2111" stroke="#e8b98a" stroke-opacity="0.87" stroke-width="3.5"/>
<line x1="1784.3" y1="2096.7" x2="1957.8" y2="2127.7" stroke="#e8b98a" stroke-opacity="0.87" stroke-width="3.5"/>
<circle cx="1389.8" cy="1919.5" r="7.7" fill="#563d7d" fill-opacity="0.85" stroke="#000" stroke-width="2.5"/>
<circle cx="1563.2" cy="1919.5" r="7.7" fill="#563d7d" fill-opacity="0.85" stroke="#000" stroke-width="2.5"/>
<circle cx="1389.8" cy="1922.6" r="7.7" fill="#563d7d" fill-opacity="0.85" stroke="#000" stroke-width="2.5"/>
<circle cx="1563.2" cy="1920" r="7.7" fill="#563d7d" fill-opacity="0.85" stroke="#000" stroke-width="2.5"/>
<circle cx="1389.8" cy="1972.7" r="7.7" fill="#563d7d" fill-opacity="0.85" stroke="#000" stroke-width="2.5"/>
<circle cx="1563.2" cy="1976" r="7.7" fill="#563d7d" fill-opacity="0.85" stroke="#000" stroke-width="2.5"/>
<circle cx="1389.8" cy="1974" r="7.7" fill="#563d7d" fill-opacity="0.85" stroke="#000" stroke-width="2.5"/>
<circle cx="1563.2" cy="2019" r="7.7" fill="#563d7d" fill-opacity="0.85" stroke="#000" stroke-width="2.5"/>
<circle cx="1389.8" cy="1978.7" r="7.7" fill="#563d7d" fill-opacity="0.85" stroke="#000" stroke-width="2.5"/>
<circle cx="1563.2" cy="1978.7" r="7.7" fill="#563d7d" fill-opacity="0.85" stroke="#000" stroke-width="2.5"/>
<circle cx="1389.8" cy="1981" r="7.7" fill="#563d7d" fill-opacity="0.85" stroke="#000" stroke-width="2.5"/>
<circle cx="1563.2" cy="2041" r="7.7" fill="#563d7d" fill-opacity="0.85" stroke="#000" stroke-width="2.5"/>
<circle cx="1389.8" cy="1983.5" r="7.7" fill="#563d7d" fill-opacity="0.85" stroke="#000" stroke-width="2.5"/>
<circle cx="1563.2" cy="2013" r="7.7" fill="#563d7d" fill-opacity="0.85" stroke="#000" stroke-width="2.5"/>
<circle cx="1389.8" cy="1992" r="7.7" fill="#563d7d" fill-opacity="0.85" stroke="#000" stroke-width="2.5"/>
<circle cx="1563.2" cy="1982" r="7.7" fill="#563d7d" fill-opacity="0.85" stroke="#000" stroke-width="2.5"/>
<circle cx="1389.8" cy="2018" r="7.7" fill="#563d7d" fill-opacity="0.85" stroke="#000" stroke-width="2.5"/>
<circle cx="1563.2" cy="2052.6" r="7.7" fill="#563d7d" fill-opacity="0.85" stroke="#000" stroke-width="2.5"/>
<circle cx="1784.3" cy="1938.1" r="7.7" fill="#c2792c" fill-opacity="0.85" stroke="#000" stroke-width="2.5"/>
<circle cx="1957.8" cy="1978" r="7.7" fill="#c2792c" fill-opacity="0.85" stroke="#000" stroke-width="2.5"/>
<circle cx="1784.3" cy="1943.9" r="7.7" fill="#c2792c" fill-opacity="0.85" stroke="#000" stroke-width="2.5"/>
<circle cx="1957.8" cy="1969.7" r="7.7" fill="#c2792c" fill-opacity="0.85" stroke="#000" stroke-width="2.5"/>
<circle cx="1784.3" cy="1947.7" r="7.7" fill="#c2792c" fill-opacity="0.85" stroke="#000" stroke-width="2.5"/>
<circle cx="1957.8" cy="1996" r="7.7" fill="#c2792c" fill-opacity="0.85" stroke="#000" stroke-width="2.5"/>
<circle cx="1784.3" cy="1951" r="7.7" fill="#c2792c" fill-opacity="0.85" stroke="#000" stroke-width="2.5"/>
<circle cx="1957.8" cy="2049" r="7.7" fill="#c2792c" fill-opacity="0.85" stroke="#000" stroke-width="2.5"/>
<circle cx="1784.3" cy="1971" r="7.7" fill="#c2792c" fill-opacity="0.85" stroke="#000" stroke-width="2.5"/>
<circle cx="1957.8" cy="1971" r="7.7" fill="#c2792c" fill-opacity="0.85" stroke="#000" stroke-width="2.5"/>
<circle cx="1784.3" cy="1978.7" r="7.7" fill="#c2792c" fill-opacity="0.85" stroke="#000" stroke-width="2.5"/>
<circle cx="1957.8" cy="1988.4" r="7.7" fill="#c2792c" fill-opacity="0.85" stroke="#000" stroke-width="2.5"/>
<circle cx="1784.3" cy="1995" r="7.7" fill="#c2792c" fill-opacity="0.85" stroke="#000" stroke-width="2.5"/>
<circle cx="1957.8" cy="2053" r="7.7" fill="#c2792c" fill-opacity="0.85" stroke="#000" stroke-width="2.5"/>
<circle cx="1784.3" cy="2034" r="7.7" fill="#c2792c" fill-opacity="0.85" stroke="#000" stroke-width="2.5"/>
<circle cx="1957.8" cy="2156" r="7.7" fill="#c2792c" fill-opacity="0.85" stroke="#000" stroke-width="2.5"/>
<circle cx="1784.3" cy="2050" r="7.7" fill="#c2792c" fill-opacity="0.85" stroke="#000" stroke-width="2.5"/>
<circle cx="1957.8" cy="2131.6" r="7.7" fill="#c2792c" fill-opacity="0.85" stroke="#000" stroke-width="2.5"/>
<circle cx="1784.3" cy="2053" r="7.7" fill="#c2792c" fill-opacity="0.85" stroke="#000" stroke-width="2.5"/>
<circle cx="1957.8" cy="2158.6" r="7.7" fill="#c2792c" fill-opacity="0.85" stroke="#000" stroke-width="2.5"/>
<circle cx="1784.3" cy="2095.4" r="7.7" fill="#c2792c" fill-opacity="0.85" stroke="#000" stroke-width="2.5"/>
<circle cx="1957.8" cy="2111" r="7.7" fill="#c2792c" fill-opacity="0.85" stroke="#000" stroke-width="2.5"/>
<circle cx="1784.3" cy="2096.7" r="7.7" fill="#c2792c" fill-opacity="0.85" stroke="#000" stroke-width="2.5"/>
<circle cx="1957.8" cy="2127.7" r="7.7" fill="#c2792c" fill-opacity="0.85" stroke="#000" stroke-width="2.5"/>
<text x="0" y="16.5" font-size="32" font-weight="bold">a</text><text x="0" y="975" font-size="32" font-weight="bold">b</text><text x="1156.5" y="15" font-size="32" font-weight="bold">c</text><text x="1156" y="680.6" font-size="32" font-weight="bold">d</text>
</svg></body></html>
